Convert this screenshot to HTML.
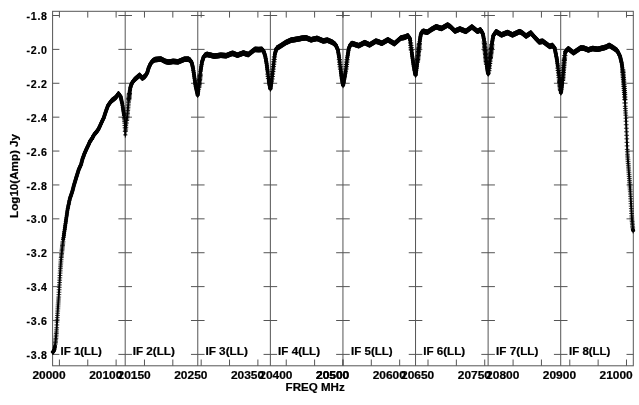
<!DOCTYPE html>
<html><head><meta charset="utf-8"><style>
html,body{margin:0;padding:0;background:#fff;}
svg{display:block;filter:grayscale(1);}
.t{font-family:"Liberation Sans",sans-serif;font-weight:bold;font-size:10.6px;fill:#000;stroke:#000;stroke-width:0.2px;}
</style></head><body>
<svg width="639" height="405" viewBox="0 0 639 405">
<rect width="639" height="405" fill="#fff"/>
<rect x="52.6" y="11.3" width="580.70" height="354.50" fill="none" stroke="#555" stroke-width="1"/>
<line x1="125.19" y1="11.3" x2="125.19" y2="365.8" stroke="#555" stroke-width="1"/>
<line x1="197.77" y1="11.3" x2="197.77" y2="365.8" stroke="#555" stroke-width="1"/>
<line x1="270.36" y1="11.3" x2="270.36" y2="365.8" stroke="#555" stroke-width="1"/>
<line x1="342.95" y1="11.3" x2="342.95" y2="365.8" stroke="#555" stroke-width="1"/>
<line x1="415.54" y1="11.3" x2="415.54" y2="365.8" stroke="#555" stroke-width="1"/>
<line x1="488.12" y1="11.3" x2="488.12" y2="365.8" stroke="#555" stroke-width="1"/>
<line x1="560.71" y1="11.3" x2="560.71" y2="365.8" stroke="#555" stroke-width="1"/>
<line x1="52.60" y1="15.50" x2="59.40" y2="15.50" stroke="#555" stroke-width="1"/>
<line x1="118.39" y1="15.50" x2="131.99" y2="15.50" stroke="#555" stroke-width="1"/>
<line x1="190.97" y1="15.50" x2="204.57" y2="15.50" stroke="#555" stroke-width="1"/>
<line x1="263.56" y1="15.50" x2="277.16" y2="15.50" stroke="#555" stroke-width="1"/>
<line x1="336.15" y1="15.50" x2="349.75" y2="15.50" stroke="#555" stroke-width="1"/>
<line x1="408.74" y1="15.50" x2="422.34" y2="15.50" stroke="#555" stroke-width="1"/>
<line x1="481.32" y1="15.50" x2="494.93" y2="15.50" stroke="#555" stroke-width="1"/>
<line x1="553.91" y1="15.50" x2="567.51" y2="15.50" stroke="#555" stroke-width="1"/>
<line x1="626.50" y1="15.50" x2="633.30" y2="15.50" stroke="#555" stroke-width="1"/>
<line x1="52.60" y1="49.39" x2="59.40" y2="49.39" stroke="#555" stroke-width="1"/>
<line x1="118.39" y1="49.39" x2="131.99" y2="49.39" stroke="#555" stroke-width="1"/>
<line x1="190.97" y1="49.39" x2="204.57" y2="49.39" stroke="#555" stroke-width="1"/>
<line x1="263.56" y1="49.39" x2="277.16" y2="49.39" stroke="#555" stroke-width="1"/>
<line x1="336.15" y1="49.39" x2="349.75" y2="49.39" stroke="#555" stroke-width="1"/>
<line x1="408.74" y1="49.39" x2="422.34" y2="49.39" stroke="#555" stroke-width="1"/>
<line x1="481.32" y1="49.39" x2="494.93" y2="49.39" stroke="#555" stroke-width="1"/>
<line x1="553.91" y1="49.39" x2="567.51" y2="49.39" stroke="#555" stroke-width="1"/>
<line x1="626.50" y1="49.39" x2="633.30" y2="49.39" stroke="#555" stroke-width="1"/>
<line x1="52.60" y1="83.28" x2="59.40" y2="83.28" stroke="#555" stroke-width="1"/>
<line x1="118.39" y1="83.28" x2="131.99" y2="83.28" stroke="#555" stroke-width="1"/>
<line x1="190.97" y1="83.28" x2="204.57" y2="83.28" stroke="#555" stroke-width="1"/>
<line x1="263.56" y1="83.28" x2="277.16" y2="83.28" stroke="#555" stroke-width="1"/>
<line x1="336.15" y1="83.28" x2="349.75" y2="83.28" stroke="#555" stroke-width="1"/>
<line x1="408.74" y1="83.28" x2="422.34" y2="83.28" stroke="#555" stroke-width="1"/>
<line x1="481.32" y1="83.28" x2="494.93" y2="83.28" stroke="#555" stroke-width="1"/>
<line x1="553.91" y1="83.28" x2="567.51" y2="83.28" stroke="#555" stroke-width="1"/>
<line x1="626.50" y1="83.28" x2="633.30" y2="83.28" stroke="#555" stroke-width="1"/>
<line x1="52.60" y1="117.17" x2="59.40" y2="117.17" stroke="#555" stroke-width="1"/>
<line x1="118.39" y1="117.17" x2="131.99" y2="117.17" stroke="#555" stroke-width="1"/>
<line x1="190.97" y1="117.17" x2="204.57" y2="117.17" stroke="#555" stroke-width="1"/>
<line x1="263.56" y1="117.17" x2="277.16" y2="117.17" stroke="#555" stroke-width="1"/>
<line x1="336.15" y1="117.17" x2="349.75" y2="117.17" stroke="#555" stroke-width="1"/>
<line x1="408.74" y1="117.17" x2="422.34" y2="117.17" stroke="#555" stroke-width="1"/>
<line x1="481.32" y1="117.17" x2="494.93" y2="117.17" stroke="#555" stroke-width="1"/>
<line x1="553.91" y1="117.17" x2="567.51" y2="117.17" stroke="#555" stroke-width="1"/>
<line x1="626.50" y1="117.17" x2="633.30" y2="117.17" stroke="#555" stroke-width="1"/>
<line x1="52.60" y1="151.06" x2="59.40" y2="151.06" stroke="#555" stroke-width="1"/>
<line x1="118.39" y1="151.06" x2="131.99" y2="151.06" stroke="#555" stroke-width="1"/>
<line x1="190.97" y1="151.06" x2="204.57" y2="151.06" stroke="#555" stroke-width="1"/>
<line x1="263.56" y1="151.06" x2="277.16" y2="151.06" stroke="#555" stroke-width="1"/>
<line x1="336.15" y1="151.06" x2="349.75" y2="151.06" stroke="#555" stroke-width="1"/>
<line x1="408.74" y1="151.06" x2="422.34" y2="151.06" stroke="#555" stroke-width="1"/>
<line x1="481.32" y1="151.06" x2="494.93" y2="151.06" stroke="#555" stroke-width="1"/>
<line x1="553.91" y1="151.06" x2="567.51" y2="151.06" stroke="#555" stroke-width="1"/>
<line x1="626.50" y1="151.06" x2="633.30" y2="151.06" stroke="#555" stroke-width="1"/>
<line x1="52.60" y1="184.95" x2="59.40" y2="184.95" stroke="#555" stroke-width="1"/>
<line x1="118.39" y1="184.95" x2="131.99" y2="184.95" stroke="#555" stroke-width="1"/>
<line x1="190.97" y1="184.95" x2="204.57" y2="184.95" stroke="#555" stroke-width="1"/>
<line x1="263.56" y1="184.95" x2="277.16" y2="184.95" stroke="#555" stroke-width="1"/>
<line x1="336.15" y1="184.95" x2="349.75" y2="184.95" stroke="#555" stroke-width="1"/>
<line x1="408.74" y1="184.95" x2="422.34" y2="184.95" stroke="#555" stroke-width="1"/>
<line x1="481.32" y1="184.95" x2="494.93" y2="184.95" stroke="#555" stroke-width="1"/>
<line x1="553.91" y1="184.95" x2="567.51" y2="184.95" stroke="#555" stroke-width="1"/>
<line x1="626.50" y1="184.95" x2="633.30" y2="184.95" stroke="#555" stroke-width="1"/>
<line x1="52.60" y1="218.84" x2="59.40" y2="218.84" stroke="#555" stroke-width="1"/>
<line x1="118.39" y1="218.84" x2="131.99" y2="218.84" stroke="#555" stroke-width="1"/>
<line x1="190.97" y1="218.84" x2="204.57" y2="218.84" stroke="#555" stroke-width="1"/>
<line x1="263.56" y1="218.84" x2="277.16" y2="218.84" stroke="#555" stroke-width="1"/>
<line x1="336.15" y1="218.84" x2="349.75" y2="218.84" stroke="#555" stroke-width="1"/>
<line x1="408.74" y1="218.84" x2="422.34" y2="218.84" stroke="#555" stroke-width="1"/>
<line x1="481.32" y1="218.84" x2="494.93" y2="218.84" stroke="#555" stroke-width="1"/>
<line x1="553.91" y1="218.84" x2="567.51" y2="218.84" stroke="#555" stroke-width="1"/>
<line x1="626.50" y1="218.84" x2="633.30" y2="218.84" stroke="#555" stroke-width="1"/>
<line x1="52.60" y1="252.73" x2="59.40" y2="252.73" stroke="#555" stroke-width="1"/>
<line x1="118.39" y1="252.73" x2="131.99" y2="252.73" stroke="#555" stroke-width="1"/>
<line x1="190.97" y1="252.73" x2="204.57" y2="252.73" stroke="#555" stroke-width="1"/>
<line x1="263.56" y1="252.73" x2="277.16" y2="252.73" stroke="#555" stroke-width="1"/>
<line x1="336.15" y1="252.73" x2="349.75" y2="252.73" stroke="#555" stroke-width="1"/>
<line x1="408.74" y1="252.73" x2="422.34" y2="252.73" stroke="#555" stroke-width="1"/>
<line x1="481.32" y1="252.73" x2="494.93" y2="252.73" stroke="#555" stroke-width="1"/>
<line x1="553.91" y1="252.73" x2="567.51" y2="252.73" stroke="#555" stroke-width="1"/>
<line x1="626.50" y1="252.73" x2="633.30" y2="252.73" stroke="#555" stroke-width="1"/>
<line x1="52.60" y1="286.62" x2="59.40" y2="286.62" stroke="#555" stroke-width="1"/>
<line x1="118.39" y1="286.62" x2="131.99" y2="286.62" stroke="#555" stroke-width="1"/>
<line x1="190.97" y1="286.62" x2="204.57" y2="286.62" stroke="#555" stroke-width="1"/>
<line x1="263.56" y1="286.62" x2="277.16" y2="286.62" stroke="#555" stroke-width="1"/>
<line x1="336.15" y1="286.62" x2="349.75" y2="286.62" stroke="#555" stroke-width="1"/>
<line x1="408.74" y1="286.62" x2="422.34" y2="286.62" stroke="#555" stroke-width="1"/>
<line x1="481.32" y1="286.62" x2="494.93" y2="286.62" stroke="#555" stroke-width="1"/>
<line x1="553.91" y1="286.62" x2="567.51" y2="286.62" stroke="#555" stroke-width="1"/>
<line x1="626.50" y1="286.62" x2="633.30" y2="286.62" stroke="#555" stroke-width="1"/>
<line x1="52.60" y1="320.51" x2="59.40" y2="320.51" stroke="#555" stroke-width="1"/>
<line x1="118.39" y1="320.51" x2="131.99" y2="320.51" stroke="#555" stroke-width="1"/>
<line x1="190.97" y1="320.51" x2="204.57" y2="320.51" stroke="#555" stroke-width="1"/>
<line x1="263.56" y1="320.51" x2="277.16" y2="320.51" stroke="#555" stroke-width="1"/>
<line x1="336.15" y1="320.51" x2="349.75" y2="320.51" stroke="#555" stroke-width="1"/>
<line x1="408.74" y1="320.51" x2="422.34" y2="320.51" stroke="#555" stroke-width="1"/>
<line x1="481.32" y1="320.51" x2="494.93" y2="320.51" stroke="#555" stroke-width="1"/>
<line x1="553.91" y1="320.51" x2="567.51" y2="320.51" stroke="#555" stroke-width="1"/>
<line x1="626.50" y1="320.51" x2="633.30" y2="320.51" stroke="#555" stroke-width="1"/>
<line x1="52.60" y1="354.40" x2="59.40" y2="354.40" stroke="#555" stroke-width="1"/>
<line x1="118.39" y1="354.40" x2="131.99" y2="354.40" stroke="#555" stroke-width="1"/>
<line x1="190.97" y1="354.40" x2="204.57" y2="354.40" stroke="#555" stroke-width="1"/>
<line x1="263.56" y1="354.40" x2="277.16" y2="354.40" stroke="#555" stroke-width="1"/>
<line x1="336.15" y1="354.40" x2="349.75" y2="354.40" stroke="#555" stroke-width="1"/>
<line x1="408.74" y1="354.40" x2="422.34" y2="354.40" stroke="#555" stroke-width="1"/>
<line x1="481.32" y1="354.40" x2="494.93" y2="354.40" stroke="#555" stroke-width="1"/>
<line x1="553.91" y1="354.40" x2="567.51" y2="354.40" stroke="#555" stroke-width="1"/>
<line x1="626.50" y1="354.40" x2="633.30" y2="354.40" stroke="#555" stroke-width="1"/>
<line x1="59.41" y1="365.8" x2="59.41" y2="359.50" stroke="#555" stroke-width="1"/>
<line x1="59.41" y1="11.3" x2="59.41" y2="17.60" stroke="#555" stroke-width="1"/>
<line x1="87.76" y1="365.8" x2="87.76" y2="359.50" stroke="#555" stroke-width="1"/>
<line x1="87.76" y1="11.3" x2="87.76" y2="17.60" stroke="#555" stroke-width="1"/>
<line x1="116.11" y1="365.8" x2="116.11" y2="359.50" stroke="#555" stroke-width="1"/>
<line x1="116.11" y1="11.3" x2="116.11" y2="17.60" stroke="#555" stroke-width="1"/>
<line x1="144.47" y1="365.8" x2="144.47" y2="359.50" stroke="#555" stroke-width="1"/>
<line x1="144.47" y1="11.3" x2="144.47" y2="17.60" stroke="#555" stroke-width="1"/>
<line x1="172.82" y1="365.8" x2="172.82" y2="359.50" stroke="#555" stroke-width="1"/>
<line x1="172.82" y1="11.3" x2="172.82" y2="17.60" stroke="#555" stroke-width="1"/>
<line x1="201.18" y1="365.8" x2="201.18" y2="359.50" stroke="#555" stroke-width="1"/>
<line x1="201.18" y1="11.3" x2="201.18" y2="17.60" stroke="#555" stroke-width="1"/>
<line x1="229.53" y1="365.8" x2="229.53" y2="359.50" stroke="#555" stroke-width="1"/>
<line x1="229.53" y1="11.3" x2="229.53" y2="17.60" stroke="#555" stroke-width="1"/>
<line x1="257.89" y1="365.8" x2="257.89" y2="359.50" stroke="#555" stroke-width="1"/>
<line x1="257.89" y1="11.3" x2="257.89" y2="17.60" stroke="#555" stroke-width="1"/>
<line x1="286.24" y1="365.8" x2="286.24" y2="359.50" stroke="#555" stroke-width="1"/>
<line x1="286.24" y1="11.3" x2="286.24" y2="17.60" stroke="#555" stroke-width="1"/>
<line x1="314.60" y1="365.8" x2="314.60" y2="359.50" stroke="#555" stroke-width="1"/>
<line x1="314.60" y1="11.3" x2="314.60" y2="17.60" stroke="#555" stroke-width="1"/>
<line x1="342.95" y1="365.8" x2="342.95" y2="359.50" stroke="#555" stroke-width="1"/>
<line x1="342.95" y1="11.3" x2="342.95" y2="17.60" stroke="#555" stroke-width="1"/>
<line x1="342.95" y1="365.8" x2="342.95" y2="359.50" stroke="#555" stroke-width="1"/>
<line x1="342.95" y1="11.3" x2="342.95" y2="17.60" stroke="#555" stroke-width="1"/>
<line x1="371.30" y1="365.8" x2="371.30" y2="359.50" stroke="#555" stroke-width="1"/>
<line x1="371.30" y1="11.3" x2="371.30" y2="17.60" stroke="#555" stroke-width="1"/>
<line x1="399.66" y1="365.8" x2="399.66" y2="359.50" stroke="#555" stroke-width="1"/>
<line x1="399.66" y1="11.3" x2="399.66" y2="17.60" stroke="#555" stroke-width="1"/>
<line x1="428.01" y1="365.8" x2="428.01" y2="359.50" stroke="#555" stroke-width="1"/>
<line x1="428.01" y1="11.3" x2="428.01" y2="17.60" stroke="#555" stroke-width="1"/>
<line x1="456.37" y1="365.8" x2="456.37" y2="359.50" stroke="#555" stroke-width="1"/>
<line x1="456.37" y1="11.3" x2="456.37" y2="17.60" stroke="#555" stroke-width="1"/>
<line x1="484.72" y1="365.8" x2="484.72" y2="359.50" stroke="#555" stroke-width="1"/>
<line x1="484.72" y1="11.3" x2="484.72" y2="17.60" stroke="#555" stroke-width="1"/>
<line x1="513.08" y1="365.8" x2="513.08" y2="359.50" stroke="#555" stroke-width="1"/>
<line x1="513.08" y1="11.3" x2="513.08" y2="17.60" stroke="#555" stroke-width="1"/>
<line x1="541.43" y1="365.8" x2="541.43" y2="359.50" stroke="#555" stroke-width="1"/>
<line x1="541.43" y1="11.3" x2="541.43" y2="17.60" stroke="#555" stroke-width="1"/>
<line x1="569.79" y1="365.8" x2="569.79" y2="359.50" stroke="#555" stroke-width="1"/>
<line x1="569.79" y1="11.3" x2="569.79" y2="17.60" stroke="#555" stroke-width="1"/>
<line x1="598.14" y1="365.8" x2="598.14" y2="359.50" stroke="#555" stroke-width="1"/>
<line x1="598.14" y1="11.3" x2="598.14" y2="17.60" stroke="#555" stroke-width="1"/>
<line x1="626.49" y1="365.8" x2="626.49" y2="359.50" stroke="#555" stroke-width="1"/>
<line x1="626.49" y1="11.3" x2="626.49" y2="17.60" stroke="#555" stroke-width="1"/>
<polyline points="52.74,351.97 53.03,351.80 53.31,351.62 53.59,351.29 53.88,350.66 54.16,350.03 54.44,349.26 54.73,347.66 55.01,346.07 55.29,344.06 55.58,341.23 55.86,338.39 56.14,335.21 56.43,331.97 56.71,327.77 56.99,322.10 57.28,317.65 57.56,313.22 57.85,308.87 58.13,304.93 58.41,300.99 58.70,297.05 58.98,292.20 59.26,287.34 59.55,282.55 59.83,277.83 60.11,273.10 60.40,268.70 60.68,264.92 60.96,261.14 61.25,257.53 61.53,254.79 61.82,252.05 62.10,249.31 62.38,246.79 62.67,244.26 62.95,241.74 63.23,239.48 63.52,237.51 63.80,235.55 64.08,233.58 64.37,231.61 64.65,229.65 64.93,227.68 65.22,225.72 65.50,223.75 65.78,221.79 66.07,219.82 66.35,217.87 66.64,215.92 66.92,213.98 67.20,212.03 67.49,210.08 67.77,208.50 68.05,207.16 68.34,205.82 68.62,204.48 68.90,203.14 69.19,201.80 69.47,200.46 69.75,199.12 70.04,198.20 70.32,197.36 70.61,196.52 70.89,195.68 71.17,194.84 71.46,194.00 71.74,193.16 72.02,192.32 72.31,191.48 72.59,190.38 72.87,189.28 73.16,188.19 73.44,187.09 73.72,185.99 74.01,185.01 74.29,184.08 74.57,183.14 74.86,182.20 75.14,181.26 75.43,180.32 75.71,179.39 75.99,178.45 76.28,177.51 76.56,176.59 76.84,175.67 77.13,174.76 77.41,173.85 77.69,172.94 77.98,172.03 78.26,171.11 78.54,170.20 78.83,169.42 79.11,168.79 79.39,168.16 79.68,167.53 79.96,166.90 80.25,166.27 80.53,165.64 80.81,165.02 81.10,164.24 81.38,163.18 81.66,162.12 81.95,161.06 82.23,160.01 82.51,158.96 82.80,158.18 83.08,157.40 83.36,156.62 83.65,155.84 83.93,155.06 84.22,154.28 84.50,153.50 84.78,152.86 85.07,152.23 85.35,151.59 85.63,150.95 85.92,150.31 86.20,149.67 86.48,149.04 86.77,148.44 87.05,147.85 87.33,147.25 87.62,146.66 87.90,146.06 88.18,145.47 88.47,144.88 88.75,144.25 89.04,143.61 89.32,142.96 89.60,142.32 89.89,141.67 90.17,141.02 90.45,140.44 90.74,140.14 91.02,139.85 91.30,139.55 91.59,139.25 91.87,138.95 92.15,138.65 92.44,137.99 92.72,137.27 93.01,136.55 93.29,135.83 93.57,135.46 93.86,135.11 94.14,134.75 94.42,134.40 94.71,134.04 94.99,133.69 95.27,133.33 95.56,132.98 95.84,132.63 96.12,132.29 96.41,131.94 96.69,131.60 96.97,131.26 97.26,130.92 97.54,130.57 97.83,130.23 98.11,129.88 98.39,129.29 98.68,128.69 98.96,128.09 99.24,127.50 99.53,126.90 99.81,126.31 100.09,125.71 100.38,125.08 100.66,124.44 100.94,123.81 101.23,123.18 101.51,122.54 101.80,121.91 102.08,121.27 102.36,120.68 102.65,120.11 102.93,119.54 103.21,118.97 103.50,118.41 103.78,117.76 104.06,116.89 104.35,116.03 104.63,115.16 104.91,114.30 105.20,113.43 105.48,112.57 105.76,111.72 106.05,110.93 106.33,110.14 106.62,109.35 106.90,108.56 107.18,107.78 107.47,106.99 107.75,106.20 108.03,105.46 108.32,105.07 108.60,104.69 108.88,104.31 109.17,103.93 109.45,103.55 109.73,103.17 110.02,102.79 110.30,102.41 110.58,102.03 110.87,101.65 111.15,101.27 111.44,100.89 111.72,100.63 112.00,100.41 112.29,100.20 112.57,99.98 112.85,99.76 113.14,99.55 113.42,99.33 113.70,99.11 113.99,98.89 114.27,98.68 114.55,98.45 114.84,98.22 115.12,97.98 115.41,97.75 115.69,97.51 115.97,97.27 116.26,97.04 116.54,96.61 116.82,96.15 117.11,95.69 117.39,95.24 117.67,94.78 117.96,94.32 118.24,93.86 118.52,93.76 118.81,94.14 119.09,94.51 119.37,94.89 119.66,95.26 119.94,95.63 120.23,96.01 120.51,96.38 120.79,97.35 121.08,98.60 121.36,99.85 121.64,101.10 121.93,102.35 122.21,103.60 122.49,105.29 122.78,107.18 123.06,109.07 123.34,110.96 123.63,113.00 123.91,115.20 124.20,117.41 124.48,119.92 124.76,123.23 125.05,127.83 125.33,134.86 125.61,130.91 125.90,127.28 126.18,125.15 126.46,123.02 126.75,120.53 127.03,117.69 127.31,114.86 127.60,112.02 127.88,108.91 128.16,105.79 128.45,102.67 128.73,99.81 129.02,97.26 129.30,94.71 129.58,92.16 129.87,90.56 130.15,89.03 130.43,87.50 130.72,86.29 131.00,85.52 131.28,84.76 131.57,84.00 131.85,83.23 132.13,82.78 132.42,82.40 132.70,82.01 132.98,81.62 133.27,81.24 133.55,80.85 133.84,80.47 134.12,80.08 134.40,79.70 134.69,79.45 134.97,79.21 135.25,78.96 135.54,78.72 135.82,78.48 136.10,78.23 136.39,77.99 136.67,77.74 136.95,77.50 137.24,77.25 137.52,77.01 137.81,76.76 138.09,76.51 138.37,76.27 138.66,76.02 138.94,75.77 139.22,75.53 139.51,75.28 139.79,75.41 140.07,75.73 140.36,76.04 140.64,76.36 140.92,76.67 141.21,76.99 141.49,77.30 141.77,77.62 142.06,77.93 142.34,78.17 142.63,77.98 142.91,77.78 143.19,77.58 143.48,77.39 143.76,77.19 144.04,77.00 144.33,76.80 144.61,76.61 144.89,76.41 145.18,76.22 145.46,75.76 145.74,75.27 146.03,74.79 146.31,74.31 146.60,73.83 146.88,73.35 147.16,72.86 147.45,71.98 147.73,71.04 148.01,70.09 148.30,69.15 148.58,68.20 148.86,67.44 149.15,66.82 149.43,66.19 149.71,65.57 150.00,64.95 150.28,64.32 150.56,63.70 150.85,63.21 151.13,62.85 151.42,62.50 151.70,62.14 151.98,61.78 152.27,61.42 152.55,61.06 152.83,60.86 153.12,60.69 153.40,60.51 153.68,60.34 153.97,60.17 154.25,60.00 154.53,59.82 154.82,59.65 155.10,59.58 155.39,59.56 155.67,59.54 155.95,59.51 156.24,59.49 156.52,59.47 156.80,59.44 157.09,59.42 157.37,59.40 157.65,59.37 157.94,59.35 158.22,59.33 158.50,59.30 158.79,59.28 159.07,59.26 159.35,59.23 159.64,59.21 159.92,59.19 160.21,59.17 160.49,59.14 160.77,59.12 161.06,59.13 161.34,59.28 161.62,59.43 161.91,59.58 162.19,59.74 162.47,59.89 162.76,60.04 163.04,60.19 163.32,60.34 163.61,60.49 163.89,60.65 164.17,60.80 164.46,60.95 164.74,61.10 165.03,61.25 165.31,61.40 165.59,61.46 165.88,61.52 166.16,61.58 166.44,61.64 166.73,61.70 167.01,61.76 167.29,61.82 167.58,61.88 167.86,61.94 168.14,62.00 168.43,62.06 168.71,62.08 169.00,62.04 169.28,61.99 169.56,61.95 169.85,61.90 170.13,61.86 170.41,61.81 170.70,61.77 170.98,61.72 171.26,61.68 171.55,61.63 171.83,61.59 172.11,61.54 172.40,61.50 172.68,61.45 172.96,61.41 173.25,61.42 173.53,61.44 173.82,61.46 174.10,61.48 174.38,61.51 174.67,61.53 174.95,61.55 175.23,61.57 175.52,61.59 175.80,61.62 176.08,61.64 176.37,61.66 176.65,61.68 176.93,61.70 177.22,61.72 177.50,61.75 177.79,61.77 178.07,61.79 178.35,61.74 178.64,61.62 178.92,61.50 179.20,61.38 179.49,61.26 179.77,61.15 180.05,61.03 180.34,60.91 180.62,60.79 180.90,60.67 181.19,60.56 181.47,60.44 181.75,60.32 182.04,60.20 182.32,60.08 182.61,59.96 182.89,59.85 183.17,59.73 183.46,59.61 183.74,59.49 184.02,59.37 184.31,59.30 184.59,59.29 184.87,59.28 185.16,59.28 185.44,59.27 185.72,59.26 186.01,59.26 186.29,59.25 186.57,59.24 186.86,59.24 187.14,59.23 187.43,59.22 187.71,59.22 187.99,59.21 188.28,59.21 188.56,59.24 188.84,59.42 189.13,59.61 189.41,59.79 189.69,59.98 189.98,60.16 190.26,60.34 190.54,60.59 190.83,61.13 191.11,61.68 191.40,62.22 191.68,62.77 191.96,63.68 192.25,64.86 192.53,66.04 192.81,67.22 193.10,68.64 193.38,70.53 193.66,72.42 193.95,74.31 194.23,76.22 194.51,78.24 194.80,80.27 195.08,82.30 195.36,84.32 195.65,86.21 195.93,87.45 196.22,88.69 196.50,89.93 196.78,91.17 197.07,92.41 197.35,93.75 197.63,95.17 197.92,93.82 198.20,91.63 198.48,89.44 198.77,87.25 199.05,84.66 199.33,82.02 199.62,79.38 199.90,76.74 200.19,74.10 200.47,71.67 200.75,69.88 201.04,68.09 201.32,66.30 201.60,64.51 201.89,62.72 202.17,61.47 202.45,60.58 202.74,59.70 203.02,58.81 203.30,57.92 203.59,57.04 203.87,56.66 204.15,56.31 204.44,55.95 204.72,55.60 205.01,55.24 205.29,54.97 205.57,54.88 205.86,54.79 206.14,54.70 206.42,54.61 206.71,54.52 206.99,54.43 207.27,54.44 207.56,54.51 207.84,54.58 208.12,54.65 208.41,54.71 208.69,54.78 208.98,54.85 209.26,54.92 209.54,54.98 209.83,55.05 210.11,55.12 210.39,55.19 210.68,55.26 210.96,55.32 211.24,55.39 211.53,55.46 211.81,55.53 212.09,55.60 212.38,55.66 212.66,55.73 212.94,55.80 213.23,55.87 213.51,55.94 213.80,56.00 214.08,56.07 214.36,56.08 214.65,56.05 214.93,56.01 215.21,55.98 215.50,55.94 215.78,55.91 216.06,55.87 216.35,55.84 216.63,55.81 216.91,55.77 217.20,55.74 217.48,55.70 217.76,55.67 218.05,55.63 218.33,55.60 218.62,55.56 218.90,55.53 219.18,55.50 219.47,55.46 219.75,55.43 220.03,55.39 220.32,55.36 220.60,55.32 220.88,55.31 221.17,55.33 221.45,55.35 221.73,55.37 222.02,55.39 222.30,55.41 222.59,55.43 222.87,55.45 223.15,55.47 223.44,55.49 223.72,55.51 224.00,55.53 224.29,55.55 224.57,55.57 224.85,55.59 225.14,55.62 225.42,55.64 225.70,55.66 225.99,55.68 226.27,55.70 226.55,55.60 226.84,55.48 227.12,55.37 227.41,55.26 227.69,55.14 227.97,55.03 228.26,54.92 228.54,54.80 228.82,54.69 229.11,54.58 229.39,54.46 229.67,54.35 229.96,54.24 230.24,54.12 230.52,54.01 230.81,53.90 231.09,53.78 231.38,53.67 231.66,53.56 231.94,53.49 232.23,53.46 232.51,53.44 232.79,53.42 233.08,53.43 233.36,53.55 233.64,53.66 233.93,53.78 234.21,53.90 234.49,54.01 234.78,54.13 235.06,54.24 235.34,54.36 235.63,54.48 235.91,54.59 236.20,54.71 236.48,54.82 236.76,54.94 237.05,55.06 237.33,55.17 237.61,55.12 237.90,55.02 238.18,54.91 238.46,54.81 238.75,54.71 239.03,54.60 239.31,54.50 239.60,54.39 239.88,54.29 240.16,54.19 240.45,54.08 240.73,53.98 241.02,53.87 241.30,53.77 241.58,53.67 241.87,53.56 242.15,53.46 242.43,53.35 242.72,53.25 243.00,53.15 243.28,53.04 243.57,53.05 243.85,53.15 244.13,53.24 244.42,53.33 244.70,53.43 244.99,53.52 245.27,53.61 245.55,53.70 245.84,53.80 246.12,53.89 246.40,53.98 246.69,54.07 246.97,54.17 247.25,54.26 247.54,54.35 247.82,54.44 248.10,54.54 248.39,54.53 248.67,54.30 248.95,54.07 249.24,53.84 249.52,53.61 249.81,53.38 250.09,53.15 250.37,52.92 250.66,52.69 250.94,52.46 251.22,52.22 251.51,51.99 251.79,51.78 252.07,51.56 252.36,51.34 252.64,51.13 252.92,50.91 253.21,50.69 253.49,50.48 253.78,50.26 254.06,50.04 254.34,49.83 254.63,49.61 254.91,49.40 255.19,49.42 255.48,49.43 255.76,49.45 256.04,49.46 256.33,49.48 256.61,49.49 256.89,49.50 257.18,49.52 257.46,49.53 257.74,49.55 258.03,49.56 258.31,49.58 258.60,49.59 258.88,49.59 259.16,49.57 259.45,49.55 259.73,49.54 260.01,49.52 260.30,49.50 260.58,49.49 260.86,49.47 261.15,49.45 261.43,49.43 261.71,49.42 262.00,49.40 262.28,49.73 262.57,50.06 262.85,50.39 263.13,50.72 263.42,51.05 263.70,51.38 263.98,52.10 264.27,53.02 264.55,53.95 264.83,54.88 265.12,55.80 265.40,56.95 265.68,58.51 265.97,60.07 266.25,61.63 266.53,63.26 266.82,65.40 267.10,67.54 267.39,69.68 267.67,71.85 267.95,74.12 268.24,76.39 268.52,78.66 268.80,80.92 269.09,82.68 269.37,84.18 269.65,85.67 269.94,87.17 270.22,88.60 270.50,88.79 270.79,86.87 271.07,84.94 271.35,83.02 271.64,81.10 271.92,78.94 272.21,76.49 272.49,74.03 272.77,71.57 273.06,69.11 273.34,66.66 273.62,64.23 273.91,61.80 274.19,59.37 274.47,56.94 274.76,54.78 275.04,53.70 275.32,52.61 275.61,51.53 275.89,50.44 276.18,49.36 276.46,48.46 276.74,48.29 277.03,48.12 277.31,47.95 277.59,47.78 277.88,47.61 278.16,47.43 278.44,47.26 278.73,47.09 279.01,46.92 279.29,46.75 279.58,46.58 279.86,46.41 280.14,46.23 280.43,46.05 280.71,45.86 281.00,45.68 281.28,45.49 281.56,45.31 281.85,45.12 282.13,44.94 282.41,44.75 282.70,44.57 282.98,44.38 283.26,44.19 283.55,44.01 283.83,43.82 284.11,43.64 284.40,43.45 284.68,43.27 284.97,43.08 285.25,42.90 285.53,42.71 285.82,42.55 286.10,42.42 286.38,42.29 286.67,42.16 286.95,42.03 287.23,41.90 287.52,41.77 287.80,41.65 288.08,41.52 288.37,41.39 288.65,41.26 288.93,41.13 289.22,41.00 289.50,40.87 289.79,40.74 290.07,40.61 290.35,40.49 290.64,40.36 290.92,40.23 291.20,40.10 291.49,40.06 291.77,40.02 292.05,39.97 292.34,39.93 292.62,39.89 292.90,39.85 293.19,39.81 293.47,39.76 293.75,39.72 294.04,39.68 294.32,39.64 294.61,39.60 294.89,39.55 295.17,39.51 295.46,39.47 295.74,39.43 296.02,39.39 296.31,39.34 296.59,39.30 296.87,39.25 297.16,39.19 297.44,39.13 297.72,39.08 298.01,39.02 298.29,38.96 298.58,38.90 298.86,38.85 299.14,38.79 299.43,38.73 299.71,38.68 299.99,38.62 300.28,38.56 300.56,38.51 300.84,38.45 301.13,38.39 301.41,38.34 301.69,38.28 301.98,38.22 302.26,38.18 302.54,38.15 302.83,38.13 303.11,38.10 303.40,38.07 303.68,38.04 303.96,38.01 304.25,37.98 304.53,37.95 304.81,37.92 305.10,37.89 305.38,37.86 305.66,37.83 305.95,37.81 306.23,37.89 306.51,38.01 306.80,38.12 307.08,38.23 307.37,38.35 307.65,38.46 307.93,38.57 308.22,38.69 308.50,38.80 308.78,38.91 309.07,39.03 309.35,39.14 309.63,39.25 309.92,39.37 310.20,39.48 310.48,39.59 310.77,39.71 311.05,39.79 311.33,39.72 311.62,39.66 311.90,39.59 312.19,39.52 312.47,39.46 312.75,39.39 313.04,39.32 313.32,39.26 313.60,39.19 313.89,39.13 314.17,39.06 314.45,38.99 314.74,38.93 315.02,38.86 315.30,38.80 315.59,38.73 315.87,38.66 316.16,38.60 316.44,38.53 316.72,38.46 317.01,38.40 317.29,38.52 317.57,38.63 317.86,38.75 318.14,38.87 318.42,38.98 318.71,39.10 318.99,39.22 319.27,39.33 319.56,39.45 319.84,39.56 320.12,39.68 320.41,39.80 320.69,39.91 320.98,40.03 321.26,40.15 321.54,40.26 321.83,40.38 322.11,40.49 322.39,40.61 322.68,40.73 322.96,40.84 323.24,40.88 323.53,40.83 323.81,40.79 324.09,40.74 324.38,40.70 324.66,40.65 324.94,40.61 325.23,40.56 325.51,40.52 325.80,40.47 326.08,40.43 326.36,40.38 326.65,40.34 326.93,40.29 327.21,40.25 327.50,40.20 327.78,40.32 328.06,40.44 328.35,40.56 328.63,40.68 328.91,40.81 329.20,40.93 329.48,41.05 329.77,41.17 330.05,41.29 330.33,41.41 330.62,41.54 330.90,41.66 331.18,41.78 331.47,41.90 331.75,42.02 332.03,42.14 332.32,42.26 332.60,42.45 332.88,42.67 333.17,42.88 333.45,43.10 333.73,43.31 334.02,43.53 334.30,43.74 334.59,43.96 334.87,44.17 335.15,44.39 335.44,44.60 335.72,44.85 336.00,45.52 336.29,46.19 336.57,46.86 336.85,47.53 337.14,48.20 337.42,48.87 337.70,49.54 337.99,50.54 338.27,52.29 338.56,54.03 338.84,55.78 339.12,57.52 339.41,59.71 339.69,62.08 339.97,64.44 340.26,66.80 340.54,69.11 340.82,71.35 341.11,73.60 341.39,75.85 341.67,78.09 341.96,79.62 342.24,81.08 342.52,82.54 342.81,84.00 343.09,85.46 343.38,84.01 343.66,82.47 343.94,80.94 344.23,79.40 344.51,77.87 344.79,76.33 345.08,74.79 345.36,73.26 345.64,71.33 345.93,69.01 346.21,66.70 346.49,64.39 346.78,62.08 347.06,59.76 347.34,57.45 347.63,55.61 347.91,53.89 348.20,52.17 348.48,50.45 348.76,48.73 349.05,47.92 349.33,47.25 349.61,46.59 349.90,45.92 350.18,45.25 350.46,44.58 350.75,44.35 351.03,44.17 351.31,43.99 351.60,43.81 351.88,43.64 352.17,43.52 352.45,43.62 352.73,43.71 353.02,43.81 353.30,43.90 353.58,43.99 353.87,44.09 354.15,44.18 354.43,44.28 354.72,44.37 355.00,44.47 355.28,44.56 355.57,44.66 355.85,44.75 356.13,44.84 356.42,44.94 356.70,45.03 356.99,45.13 357.27,45.22 357.55,45.32 357.84,45.41 358.12,45.51 358.40,45.60 358.69,45.70 358.97,45.56 359.25,45.41 359.54,45.27 359.82,45.12 360.10,44.97 360.39,44.83 360.67,44.68 360.96,44.53 361.24,44.39 361.52,44.24 361.81,44.10 362.09,43.95 362.37,43.80 362.66,43.66 362.94,43.51 363.22,43.36 363.51,43.22 363.79,43.07 364.07,42.92 364.36,42.78 364.64,42.63 364.92,42.71 365.21,42.84 365.49,42.97 365.78,43.10 366.06,43.24 366.34,43.37 366.63,43.50 366.91,43.64 367.19,43.77 367.48,43.90 367.76,44.04 368.04,44.17 368.33,44.30 368.61,44.44 368.89,44.57 369.18,44.70 369.46,44.83 369.74,44.81 370.03,44.64 370.31,44.47 370.60,44.30 370.88,44.12 371.16,43.95 371.45,43.78 371.73,43.61 372.01,43.44 372.30,43.26 372.58,43.09 372.86,42.92 373.15,42.75 373.43,42.58 373.71,42.40 374.00,42.23 374.28,42.06 374.57,41.89 374.85,41.72 375.13,41.54 375.42,41.37 375.70,41.20 375.98,41.26 376.27,41.32 376.55,41.38 376.83,41.45 377.12,41.51 377.40,41.57 377.68,41.63 377.97,41.69 378.25,41.81 378.53,41.93 378.82,42.04 379.10,42.16 379.39,42.28 379.67,42.40 379.95,42.52 380.24,42.64 380.52,42.76 380.80,42.88 381.09,43.00 381.37,43.12 381.65,43.24 381.94,43.22 382.22,43.06 382.50,42.90 382.79,42.73 383.07,42.57 383.36,42.41 383.64,42.25 383.92,42.08 384.21,41.92 384.49,41.76 384.77,41.59 385.06,41.43 385.34,41.27 385.62,41.11 385.91,40.94 386.19,40.78 386.47,40.62 386.76,40.46 387.04,40.29 387.32,40.13 387.61,39.97 387.89,39.80 388.18,39.97 388.46,40.14 388.74,40.31 389.03,40.48 389.31,40.65 389.59,40.82 389.88,40.99 390.16,41.16 390.44,41.33 390.73,41.50 391.01,41.67 391.29,41.84 391.58,42.01 391.86,42.18 392.15,42.35 392.43,42.52 392.71,42.69 393.00,42.86 393.28,43.03 393.56,43.20 393.85,43.37 394.13,43.54 394.41,43.69 394.70,43.44 394.98,43.19 395.26,42.94 395.55,42.69 395.83,42.44 396.11,42.19 396.40,41.94 396.68,41.69 396.97,41.45 397.25,41.20 397.53,40.95 397.82,40.70 398.10,40.45 398.38,40.20 398.67,39.95 398.95,39.70 399.23,39.45 399.52,39.20 399.80,38.95 400.08,38.70 400.37,38.46 400.65,38.21 400.93,37.96 401.22,37.87 401.50,37.82 401.79,37.78 402.07,37.74 402.35,37.70 402.64,37.65 402.92,37.61 403.20,37.57 403.49,37.52 403.77,37.48 404.05,37.44 404.34,37.38 404.62,37.26 404.90,37.15 405.19,37.03 405.47,36.91 405.76,36.79 406.04,36.67 406.32,36.55 406.61,36.43 406.89,36.31 407.17,36.19 407.46,36.07 407.74,35.95 408.02,35.83 408.31,36.13 408.59,36.59 408.87,37.04 409.16,37.49 409.44,37.95 409.72,38.40 410.01,38.85 410.29,40.60 410.58,42.96 410.86,45.33 411.14,47.69 411.43,50.05 411.71,52.27 411.99,54.25 412.28,56.24 412.56,58.22 412.84,60.21 413.13,62.19 413.41,64.18 413.69,66.16 413.98,67.64 414.26,69.11 414.55,70.58 414.83,72.05 415.11,73.53 415.40,74.82 415.68,74.91 415.96,72.78 416.25,70.65 416.53,68.53 416.81,66.40 417.10,64.27 417.38,62.15 417.66,59.49 417.95,56.80 418.23,54.10 418.51,51.41 418.80,48.72 419.08,46.02 419.37,43.33 419.65,41.47 419.93,39.72 420.22,37.98 420.50,36.23 420.78,34.77 421.07,34.00 421.35,33.23 421.63,32.45 421.92,31.95 422.20,31.83 422.48,31.72 422.77,31.60 423.05,31.48 423.33,31.37 423.62,31.33 423.90,31.41 424.19,31.48 424.47,31.56 424.75,31.63 425.04,31.70 425.32,31.78 425.60,31.85 425.89,31.93 426.17,32.00 426.45,32.08 426.74,32.15 427.02,32.23 427.30,32.30 427.59,32.10 427.87,31.91 428.16,31.72 428.44,31.52 428.72,31.33 429.01,31.14 429.29,30.94 429.57,30.75 429.86,30.56 430.14,30.36 430.42,30.17 430.71,29.98 430.99,29.78 431.27,29.59 431.56,29.40 431.84,29.22 432.12,29.06 432.41,28.90 432.69,28.74 432.98,28.58 433.26,28.41 433.54,28.25 433.83,28.09 434.11,27.93 434.39,27.77 434.68,27.61 434.96,27.45 435.24,27.29 435.53,27.13 435.81,26.96 436.09,26.80 436.38,26.89 436.66,26.98 436.95,27.07 437.23,27.16 437.51,27.24 437.80,27.33 438.08,27.42 438.36,27.51 438.65,27.60 438.93,27.69 439.21,27.78 439.50,27.87 439.78,27.96 440.06,28.05 440.35,28.14 440.63,28.23 440.91,28.32 441.20,28.41 441.48,28.49 441.77,28.35 442.05,28.19 442.33,28.02 442.62,27.86 442.90,27.70 443.18,27.53 443.47,27.37 443.75,27.21 444.03,27.05 444.32,26.88 444.60,26.72 444.88,26.56 445.17,26.40 445.45,26.23 445.74,26.07 446.02,25.91 446.30,25.74 446.59,25.58 446.87,25.42 447.15,25.26 447.44,25.09 447.72,25.07 448.00,25.25 448.29,25.43 448.57,25.60 448.85,25.78 449.14,25.95 449.42,26.13 449.70,26.31 449.99,26.48 450.27,26.66 450.56,26.85 450.84,27.13 451.12,27.41 451.41,27.69 451.69,27.96 451.97,28.24 452.26,28.52 452.54,28.79 452.82,29.07 453.11,29.35 453.39,29.63 453.67,29.90 453.96,30.18 454.24,30.46 454.52,30.73 454.81,31.01 455.09,31.02 455.38,30.90 455.66,30.78 455.94,30.66 456.23,30.54 456.51,30.42 456.79,30.30 457.08,30.19 457.36,30.07 457.64,29.95 457.93,29.83 458.21,29.71 458.49,29.59 458.78,29.47 459.06,29.35 459.35,29.23 459.63,29.11 459.91,29.00 460.20,29.12 460.48,29.23 460.76,29.35 461.05,29.46 461.33,29.57 461.61,29.69 461.90,29.80 462.18,29.91 462.46,30.03 462.75,30.14 463.03,30.25 463.31,30.37 463.60,30.48 463.88,30.59 464.17,30.71 464.45,30.82 464.73,30.93 465.02,31.05 465.30,31.16 465.58,31.27 465.87,31.39 466.15,31.21 466.43,31.00 466.72,30.79 467.00,30.57 467.28,30.36 467.57,30.15 467.85,29.94 468.14,29.72 468.42,29.51 468.70,29.30 468.99,29.09 469.27,28.87 469.55,28.66 469.84,28.45 470.12,28.24 470.40,28.02 470.69,27.81 470.97,27.60 471.25,27.38 471.54,27.17 471.82,26.96 472.10,27.06 472.39,27.29 472.67,27.52 472.96,27.74 473.24,27.97 473.52,28.20 473.81,28.42 474.09,28.65 474.37,28.88 474.66,29.11 474.94,29.33 475.22,29.56 475.51,29.79 475.79,30.01 476.07,30.24 476.36,30.47 476.64,30.69 476.92,30.92 477.21,31.15 477.49,31.26 477.78,31.13 478.06,31.00 478.34,30.87 478.63,30.74 478.91,30.61 479.19,30.48 479.48,30.36 479.76,30.23 480.04,30.10 480.33,29.97 480.61,29.84 480.89,30.17 481.18,30.71 481.46,31.25 481.75,31.80 482.03,32.34 482.31,32.88 482.60,33.42 482.88,33.96 483.16,35.42 483.45,36.94 483.73,38.47 484.01,40.00 484.30,41.97 484.58,44.81 484.86,47.64 485.15,50.48 485.43,53.27 485.71,56.02 486.00,58.77 486.28,61.52 486.57,64.27 486.85,66.24 487.13,68.11 487.42,69.97 487.70,71.84 487.98,73.19 488.27,73.89 488.55,73.08 488.83,70.68 489.12,68.29 489.40,65.89 489.68,63.50 489.97,61.10 490.25,58.71 490.54,56.18 490.82,53.63 491.10,51.08 491.39,48.53 491.67,45.98 491.95,43.42 492.24,41.67 492.52,40.08 492.80,38.49 493.09,36.90 493.37,35.59 493.65,35.16 493.94,34.73 494.22,34.30 494.50,33.87 494.79,33.44 495.07,33.01 495.36,32.58 495.64,32.15 495.92,31.72 496.21,31.72 496.49,31.89 496.77,32.06 497.06,32.23 497.34,32.40 497.62,32.57 497.91,32.74 498.19,32.91 498.47,33.08 498.76,33.25 499.04,33.42 499.33,33.60 499.61,33.77 499.89,33.94 500.18,34.11 500.46,34.28 500.74,34.45 501.03,34.62 501.31,34.79 501.59,34.86 501.88,34.75 502.16,34.64 502.44,34.52 502.73,34.41 503.01,34.30 503.29,34.18 503.58,34.07 503.86,33.96 504.15,33.84 504.43,33.73 504.71,33.62 505.00,33.50 505.28,33.39 505.56,33.27 505.85,33.16 506.13,33.05 506.41,32.93 506.70,32.82 506.98,32.71 507.26,32.59 507.55,32.52 507.83,32.66 508.11,32.80 508.40,32.93 508.68,33.07 508.97,33.20 509.25,33.34 509.53,33.48 509.82,33.61 510.10,33.75 510.38,33.88 510.67,34.02 510.95,34.16 511.23,34.29 511.52,34.43 511.80,34.56 512.08,34.70 512.37,34.84 512.65,34.83 512.94,34.70 513.22,34.57 513.50,34.43 513.79,34.30 514.07,34.17 514.35,34.04 514.64,33.91 514.92,33.78 515.20,33.64 515.49,33.51 515.77,33.38 516.05,33.25 516.34,33.12 516.62,32.98 516.90,32.85 517.19,32.72 517.47,32.59 517.76,32.46 518.04,32.33 518.32,32.19 518.61,32.06 518.89,31.93 519.17,31.80 519.46,31.67 519.74,31.67 520.02,31.81 520.31,31.95 520.59,32.10 520.87,32.24 521.16,32.38 521.44,32.52 521.73,32.66 522.01,32.81 522.29,33.04 522.58,33.26 522.86,33.49 523.14,33.72 523.43,33.95 523.71,34.18 523.99,34.40 524.28,34.63 524.56,34.86 524.84,35.09 525.13,35.32 525.41,35.55 525.69,35.77 525.98,36.00 526.26,35.99 526.55,35.80 526.83,35.61 527.11,35.43 527.40,35.24 527.68,35.05 527.96,34.86 528.25,34.67 528.53,34.48 528.81,34.29 529.10,34.10 529.38,33.91 529.66,33.72 529.95,33.53 530.23,33.35 530.51,33.16 530.80,32.97 531.08,33.11 531.37,33.44 531.65,33.77 531.93,34.10 532.22,34.43 532.50,34.75 532.78,35.08 533.07,35.41 533.35,35.74 533.63,36.07 533.92,36.40 534.20,36.73 534.48,37.05 534.77,37.38 535.05,37.71 535.34,38.04 535.62,38.33 535.90,38.62 536.19,38.91 536.47,39.20 536.75,39.49 537.04,39.78 537.32,40.07 537.60,40.37 537.89,40.66 538.17,40.95 538.45,41.24 538.74,41.53 539.02,41.80 539.30,41.76 539.59,41.72 539.87,41.69 540.16,41.65 540.44,41.61 540.72,41.57 541.01,41.54 541.29,41.50 541.57,41.46 541.86,41.42 542.14,41.39 542.42,41.35 542.71,41.31 542.99,41.44 543.27,41.66 543.56,41.87 543.84,42.08 544.13,42.29 544.41,42.51 544.69,42.72 544.98,42.93 545.26,43.14 545.54,43.36 545.83,43.57 546.11,43.78 546.39,44.00 546.68,44.21 546.96,44.42 547.24,44.63 547.53,44.84 547.81,45.05 548.09,45.25 548.38,45.46 548.66,45.67 548.95,45.88 549.23,46.08 549.51,46.29 549.80,46.50 550.08,46.38 550.36,46.26 550.65,46.14 550.93,46.02 551.21,45.90 551.50,45.78 551.78,45.66 552.06,45.54 552.35,45.42 552.63,45.67 552.92,46.01 553.20,46.34 553.48,46.68 553.77,47.01 554.05,47.35 554.33,47.68 554.62,48.08 554.90,49.42 555.18,50.76 555.47,52.10 555.75,53.46 556.03,54.95 556.32,56.43 556.60,57.91 556.88,59.40 557.17,61.35 557.45,63.61 557.74,65.88 558.02,68.15 558.30,70.50 558.59,72.88 558.87,75.26 559.15,77.65 559.44,80.03 559.72,82.55 560.00,85.26 560.29,87.97 560.57,90.71 560.85,92.82 561.14,91.70 561.42,89.45 561.70,87.20 561.99,84.95 562.27,82.70 562.56,80.45 562.84,77.62 563.12,74.20 563.41,70.78 563.69,67.36 563.97,63.94 564.26,60.52 564.54,58.01 564.82,55.65 565.11,53.30 565.39,51.61 565.67,51.33 565.96,51.04 566.24,50.76 566.53,50.47 566.81,50.19 567.09,49.91 567.38,49.62 567.66,49.34 567.94,49.06 568.23,48.77 568.51,48.87 568.79,49.09 569.08,49.31 569.36,49.54 569.64,49.76 569.93,49.98 570.21,50.21 570.49,50.43 570.78,50.65 571.06,50.88 571.35,51.10 571.63,51.32 571.91,51.55 572.20,51.77 572.48,52.00 572.76,52.22 573.05,52.44 573.33,52.67 573.61,52.72 573.90,52.53 574.18,52.34 574.46,52.15 574.75,51.96 575.03,51.76 575.32,51.57 575.60,51.38 575.88,51.19 576.17,51.00 576.45,50.81 576.73,50.61 577.02,50.42 577.30,50.23 577.58,50.04 577.87,49.85 578.15,49.66 578.43,49.46 578.72,49.27 579.00,49.08 579.28,48.89 579.57,48.70 579.85,48.51 580.14,48.31 580.42,48.12 580.70,48.01 580.99,48.02 581.27,48.04 581.55,48.06 581.84,48.07 582.12,48.09 582.40,48.11 582.69,48.13 582.97,48.14 583.25,48.16 583.54,48.18 583.82,48.20 584.10,48.28 584.39,48.39 584.67,48.50 584.96,48.61 585.24,48.72 585.52,48.83 585.81,48.94 586.09,49.05 586.37,49.16 586.66,49.27 586.94,49.37 587.22,49.48 587.51,49.59 587.79,49.70 588.07,49.81 588.36,49.88 588.64,49.79 588.93,49.70 589.21,49.61 589.49,49.52 589.78,49.43 590.06,49.34 590.34,49.25 590.63,49.16 590.91,49.07 591.19,48.98 591.48,48.89 591.76,48.80 592.04,48.71 592.33,48.62 592.61,48.53 592.89,48.53 593.18,48.58 593.46,48.62 593.75,48.67 594.03,48.71 594.31,48.76 594.60,48.80 594.88,48.85 595.16,48.89 595.45,48.94 595.73,48.98 596.01,49.03 596.30,49.08 596.58,49.12 596.86,49.17 597.15,49.21 597.43,49.26 597.72,49.30 598.00,49.23 598.28,49.15 598.57,49.08 598.85,49.01 599.13,48.94 599.42,48.87 599.70,48.80 599.98,48.73 600.27,48.66 600.55,48.59 600.83,48.52 601.12,48.45 601.40,48.37 601.68,48.30 601.97,48.23 602.25,48.16 602.54,48.09 602.82,48.02 603.10,47.94 603.39,47.87 603.67,47.80 603.95,47.72 604.24,47.65 604.52,47.58 604.80,47.51 605.09,47.43 605.37,47.36 605.65,47.29 605.94,47.22 606.22,47.08 606.51,46.92 606.79,46.76 607.07,46.60 607.36,46.44 607.64,46.28 607.92,46.12 608.21,45.96 608.49,45.80 608.77,45.64 609.06,45.48 609.34,45.48 609.62,45.65 609.91,45.82 610.19,45.98 610.47,46.15 610.76,46.32 611.04,46.49 611.33,46.65 611.61,46.82 611.89,46.99 612.18,47.16 612.46,47.32 612.74,47.49 613.03,47.66 613.31,47.85 613.59,48.05 613.88,48.25 614.16,48.45 614.44,48.65 614.73,48.85 615.01,49.05 615.29,49.25 615.58,49.45 615.86,49.65 616.15,49.85 616.43,50.05 616.71,50.26 617.00,50.46 617.28,50.76 617.56,51.33 617.85,51.89 618.13,52.46 618.41,53.03 618.70,53.59 618.98,54.16 619.26,54.73 619.55,55.30 619.83,55.86 620.12,56.67 620.40,57.82 620.68,58.97 620.97,60.12 621.25,61.28 621.53,62.43 621.82,64.14 622.10,66.03 622.38,67.92 622.67,69.81 622.95,72.51 623.23,75.91 623.52,79.31 623.80,82.88 624.08,86.51 624.37,90.42 624.65,94.35 624.94,99.65 625.22,106.30 625.50,110.75 625.79,115.21 626.07,121.22 626.35,128.26 626.64,135.31 626.92,142.36 627.20,149.41 627.49,154.24 627.77,157.92 628.05,161.61 628.34,165.29 628.62,168.98 628.91,172.75 629.19,176.55 629.47,180.36 629.76,184.16 630.04,187.96 630.32,191.76 630.61,196.36 630.89,201.26 631.17,206.15 631.46,211.05 631.74,215.95 632.02,220.05 632.31,223.15 632.59,226.24 632.87,229.33 633.16,230.70" fill="none" stroke="#000" stroke-width="2.0" stroke-linejoin="round" stroke-linecap="round"/>
<polyline points="52.74,351.97 53.03,351.80 53.31,351.62 53.59,351.29 53.88,350.66 54.16,350.03 54.44,349.26 54.73,347.66 55.01,346.07" fill="none" stroke="#000" stroke-width="3.2" stroke-linejoin="round" stroke-linecap="round"/>
<polyline points="63.23,239.48 63.52,237.51 63.80,235.55 64.08,233.58 64.37,231.61 64.65,229.65 64.93,227.68 65.22,225.72 65.50,223.75 65.78,221.79 66.07,219.82 66.35,217.87 66.64,215.92 66.92,213.98 67.20,212.03 67.49,210.08 67.77,208.50 68.05,207.16 68.34,205.82 68.62,204.48 68.90,203.14 69.19,201.80 69.47,200.46 69.75,199.12 70.04,198.20 70.32,197.36 70.61,196.52 70.89,195.68 71.17,194.84 71.46,194.00 71.74,193.16 72.02,192.32 72.31,191.48 72.59,190.38 72.87,189.28 73.16,188.19 73.44,187.09 73.72,185.99 74.01,185.01 74.29,184.08 74.57,183.14 74.86,182.20 75.14,181.26 75.43,180.32 75.71,179.39 75.99,178.45 76.28,177.51 76.56,176.59 76.84,175.67 77.13,174.76 77.41,173.85 77.69,172.94 77.98,172.03 78.26,171.11 78.54,170.20 78.83,169.42 79.11,168.79 79.39,168.16 79.68,167.53 79.96,166.90 80.25,166.27 80.53,165.64 80.81,165.02 81.10,164.24 81.38,163.18 81.66,162.12 81.95,161.06 82.23,160.01 82.51,158.96 82.80,158.18 83.08,157.40 83.36,156.62 83.65,155.84 83.93,155.06 84.22,154.28 84.50,153.50 84.78,152.86 85.07,152.23 85.35,151.59 85.63,150.95 85.92,150.31 86.20,149.67 86.48,149.04 86.77,148.44 87.05,147.85 87.33,147.25 87.62,146.66 87.90,146.06 88.18,145.47 88.47,144.88 88.75,144.25 89.04,143.61 89.32,142.96 89.60,142.32 89.89,141.67 90.17,141.02 90.45,140.44 90.74,140.14 91.02,139.85 91.30,139.55 91.59,139.25 91.87,138.95 92.15,138.65 92.44,137.99 92.72,137.27 93.01,136.55 93.29,135.83 93.57,135.46 93.86,135.11 94.14,134.75 94.42,134.40 94.71,134.04 94.99,133.69 95.27,133.33 95.56,132.98 95.84,132.63 96.12,132.29 96.41,131.94 96.69,131.60 96.97,131.26 97.26,130.92 97.54,130.57 97.83,130.23 98.11,129.88 98.39,129.29 98.68,128.69 98.96,128.09 99.24,127.50 99.53,126.90 99.81,126.31 100.09,125.71 100.38,125.08 100.66,124.44 100.94,123.81 101.23,123.18 101.51,122.54 101.80,121.91 102.08,121.27 102.36,120.68 102.65,120.11 102.93,119.54 103.21,118.97 103.50,118.41 103.78,117.76 104.06,116.89 104.35,116.03 104.63,115.16 104.91,114.30 105.20,113.43 105.48,112.57 105.76,111.72 106.05,110.93 106.33,110.14 106.62,109.35 106.90,108.56 107.18,107.78 107.47,106.99 107.75,106.20 108.03,105.46 108.32,105.07 108.60,104.69 108.88,104.31 109.17,103.93 109.45,103.55 109.73,103.17 110.02,102.79 110.30,102.41 110.58,102.03 110.87,101.65 111.15,101.27 111.44,100.89 111.72,100.63 112.00,100.41 112.29,100.20 112.57,99.98 112.85,99.76 113.14,99.55 113.42,99.33 113.70,99.11 113.99,98.89 114.27,98.68 114.55,98.45 114.84,98.22 115.12,97.98 115.41,97.75 115.69,97.51 115.97,97.27 116.26,97.04 116.54,96.61 116.82,96.15 117.11,95.69 117.39,95.24 117.67,94.78 117.96,94.32 118.24,93.86 118.52,93.76 118.81,94.14 119.09,94.51 119.37,94.89 119.66,95.26 119.94,95.63 120.23,96.01 120.51,96.38 120.79,97.35 121.08,98.60 121.36,99.85 121.64,101.10 121.93,102.35 122.21,103.60 122.49,105.29 122.78,107.18 123.06,109.07 123.34,110.96 123.63,113.00 123.91,115.20" fill="none" stroke="#000" stroke-width="3.2" stroke-linejoin="round" stroke-linecap="round"/>
<polyline points="128.73,99.81 129.02,97.26 129.30,94.71 129.58,92.16 129.87,90.56 130.15,89.03 130.43,87.50 130.72,86.29 131.00,85.52 131.28,84.76 131.57,84.00 131.85,83.23 132.13,82.78 132.42,82.40 132.70,82.01 132.98,81.62 133.27,81.24 133.55,80.85 133.84,80.47 134.12,80.08 134.40,79.70 134.69,79.45 134.97,79.21 135.25,78.96 135.54,78.72 135.82,78.48 136.10,78.23 136.39,77.99 136.67,77.74 136.95,77.50 137.24,77.25 137.52,77.01 137.81,76.76 138.09,76.51 138.37,76.27 138.66,76.02 138.94,75.77 139.22,75.53 139.51,75.28 139.79,75.41 140.07,75.73 140.36,76.04 140.64,76.36 140.92,76.67 141.21,76.99 141.49,77.30 141.77,77.62 142.06,77.93 142.34,78.17 142.63,77.98 142.91,77.78 143.19,77.58 143.48,77.39 143.76,77.19 144.04,77.00 144.33,76.80 144.61,76.61 144.89,76.41 145.18,76.22 145.46,75.76 145.74,75.27 146.03,74.79 146.31,74.31 146.60,73.83 146.88,73.35 147.16,72.86 147.45,71.98 147.73,71.04 148.01,70.09 148.30,69.15 148.58,68.20 148.86,67.44 149.15,66.82 149.43,66.19 149.71,65.57 150.00,64.95 150.28,64.32 150.56,63.70 150.85,63.21 151.13,62.85 151.42,62.50 151.70,62.14 151.98,61.78 152.27,61.42 152.55,61.06 152.83,60.86 153.12,60.69 153.40,60.51 153.68,60.34 153.97,60.17 154.25,60.00 154.53,59.82 154.82,59.65 155.10,59.58 155.39,59.56 155.67,59.54 155.95,59.51 156.24,59.49 156.52,59.47 156.80,59.44 157.09,59.42 157.37,59.40 157.65,59.37 157.94,59.35 158.22,59.33 158.50,59.30 158.79,59.28 159.07,59.26 159.35,59.23 159.64,59.21 159.92,59.19 160.21,59.17 160.49,59.14 160.77,59.12 161.06,59.13 161.34,59.28 161.62,59.43 161.91,59.58 162.19,59.74 162.47,59.89 162.76,60.04 163.04,60.19 163.32,60.34 163.61,60.49 163.89,60.65 164.17,60.80 164.46,60.95 164.74,61.10 165.03,61.25 165.31,61.40 165.59,61.46 165.88,61.52 166.16,61.58 166.44,61.64 166.73,61.70 167.01,61.76 167.29,61.82 167.58,61.88 167.86,61.94 168.14,62.00 168.43,62.06 168.71,62.08 169.00,62.04 169.28,61.99 169.56,61.95 169.85,61.90 170.13,61.86 170.41,61.81 170.70,61.77 170.98,61.72 171.26,61.68 171.55,61.63 171.83,61.59 172.11,61.54 172.40,61.50 172.68,61.45 172.96,61.41 173.25,61.42 173.53,61.44 173.82,61.46 174.10,61.48 174.38,61.51 174.67,61.53 174.95,61.55 175.23,61.57 175.52,61.59 175.80,61.62 176.08,61.64 176.37,61.66 176.65,61.68 176.93,61.70 177.22,61.72 177.50,61.75 177.79,61.77 178.07,61.79 178.35,61.74 178.64,61.62 178.92,61.50 179.20,61.38 179.49,61.26 179.77,61.15 180.05,61.03 180.34,60.91 180.62,60.79 180.90,60.67 181.19,60.56 181.47,60.44 181.75,60.32 182.04,60.20 182.32,60.08 182.61,59.96 182.89,59.85 183.17,59.73 183.46,59.61 183.74,59.49 184.02,59.37 184.31,59.30 184.59,59.29 184.87,59.28 185.16,59.28 185.44,59.27 185.72,59.26 186.01,59.26 186.29,59.25 186.57,59.24 186.86,59.24 187.14,59.23 187.43,59.22 187.71,59.22 187.99,59.21 188.28,59.21 188.56,59.24 188.84,59.42 189.13,59.61 189.41,59.79 189.69,59.98 189.98,60.16 190.26,60.34 190.54,60.59 190.83,61.13 191.11,61.68 191.40,62.22 191.68,62.77 191.96,63.68 192.25,64.86 192.53,66.04 192.81,67.22 193.10,68.64 193.38,70.53 193.66,72.42 193.95,74.31 194.23,76.22 194.51,78.24 194.80,80.27 195.08,82.30 195.36,84.32 195.65,86.21 195.93,87.45 196.22,88.69 196.50,89.93 196.78,91.17 197.07,92.41 197.35,93.75 197.63,95.17 197.92,93.82 198.20,91.63 198.48,89.44 198.77,87.25 199.05,84.66 199.33,82.02 199.62,79.38 199.90,76.74 200.19,74.10 200.47,71.67 200.75,69.88 201.04,68.09 201.32,66.30 201.60,64.51 201.89,62.72 202.17,61.47 202.45,60.58 202.74,59.70 203.02,58.81 203.30,57.92 203.59,57.04 203.87,56.66 204.15,56.31 204.44,55.95 204.72,55.60 205.01,55.24 205.29,54.97 205.57,54.88 205.86,54.79 206.14,54.70 206.42,54.61 206.71,54.52 206.99,54.43 207.27,54.44 207.56,54.51 207.84,54.58 208.12,54.65 208.41,54.71 208.69,54.78 208.98,54.85 209.26,54.92 209.54,54.98 209.83,55.05 210.11,55.12 210.39,55.19 210.68,55.26 210.96,55.32 211.24,55.39 211.53,55.46 211.81,55.53 212.09,55.60 212.38,55.66 212.66,55.73 212.94,55.80 213.23,55.87 213.51,55.94 213.80,56.00 214.08,56.07 214.36,56.08 214.65,56.05 214.93,56.01 215.21,55.98 215.50,55.94 215.78,55.91 216.06,55.87 216.35,55.84 216.63,55.81 216.91,55.77 217.20,55.74 217.48,55.70 217.76,55.67 218.05,55.63 218.33,55.60 218.62,55.56 218.90,55.53 219.18,55.50 219.47,55.46 219.75,55.43 220.03,55.39 220.32,55.36 220.60,55.32 220.88,55.31 221.17,55.33 221.45,55.35 221.73,55.37 222.02,55.39 222.30,55.41 222.59,55.43 222.87,55.45 223.15,55.47 223.44,55.49 223.72,55.51 224.00,55.53 224.29,55.55 224.57,55.57 224.85,55.59 225.14,55.62 225.42,55.64 225.70,55.66 225.99,55.68 226.27,55.70 226.55,55.60 226.84,55.48 227.12,55.37 227.41,55.26 227.69,55.14 227.97,55.03 228.26,54.92 228.54,54.80 228.82,54.69 229.11,54.58 229.39,54.46 229.67,54.35 229.96,54.24 230.24,54.12 230.52,54.01 230.81,53.90 231.09,53.78 231.38,53.67 231.66,53.56 231.94,53.49 232.23,53.46 232.51,53.44 232.79,53.42 233.08,53.43 233.36,53.55 233.64,53.66 233.93,53.78 234.21,53.90 234.49,54.01 234.78,54.13 235.06,54.24 235.34,54.36 235.63,54.48 235.91,54.59 236.20,54.71 236.48,54.82 236.76,54.94 237.05,55.06 237.33,55.17 237.61,55.12 237.90,55.02 238.18,54.91 238.46,54.81 238.75,54.71 239.03,54.60 239.31,54.50 239.60,54.39 239.88,54.29 240.16,54.19 240.45,54.08 240.73,53.98 241.02,53.87 241.30,53.77 241.58,53.67 241.87,53.56 242.15,53.46 242.43,53.35 242.72,53.25 243.00,53.15 243.28,53.04 243.57,53.05 243.85,53.15 244.13,53.24 244.42,53.33 244.70,53.43 244.99,53.52 245.27,53.61 245.55,53.70 245.84,53.80 246.12,53.89 246.40,53.98 246.69,54.07 246.97,54.17 247.25,54.26 247.54,54.35 247.82,54.44 248.10,54.54 248.39,54.53 248.67,54.30 248.95,54.07 249.24,53.84 249.52,53.61 249.81,53.38 250.09,53.15 250.37,52.92 250.66,52.69 250.94,52.46 251.22,52.22 251.51,51.99 251.79,51.78 252.07,51.56 252.36,51.34 252.64,51.13 252.92,50.91 253.21,50.69 253.49,50.48 253.78,50.26 254.06,50.04 254.34,49.83 254.63,49.61 254.91,49.40 255.19,49.42 255.48,49.43 255.76,49.45 256.04,49.46 256.33,49.48 256.61,49.49 256.89,49.50 257.18,49.52 257.46,49.53 257.74,49.55 258.03,49.56 258.31,49.58 258.60,49.59 258.88,49.59 259.16,49.57 259.45,49.55 259.73,49.54 260.01,49.52 260.30,49.50 260.58,49.49 260.86,49.47 261.15,49.45 261.43,49.43 261.71,49.42 262.00,49.40 262.28,49.73 262.57,50.06 262.85,50.39 263.13,50.72 263.42,51.05 263.70,51.38 263.98,52.10 264.27,53.02 264.55,53.95 264.83,54.88 265.12,55.80 265.40,56.95 265.68,58.51 265.97,60.07 266.25,61.63 266.53,63.26 266.82,65.40 267.10,67.54 267.39,69.68 267.67,71.85 267.95,74.12 268.24,76.39 268.52,78.66 268.80,80.92 269.09,82.68 269.37,84.18 269.65,85.67 269.94,87.17 270.22,88.60 270.50,88.79 270.79,86.87 271.07,84.94 271.35,83.02 271.64,81.10 271.92,78.94 272.21,76.49 272.49,74.03 272.77,71.57 273.06,69.11 273.34,66.66 273.62,64.23 273.91,61.80 274.19,59.37 274.47,56.94 274.76,54.78 275.04,53.70 275.32,52.61 275.61,51.53 275.89,50.44 276.18,49.36 276.46,48.46 276.74,48.29 277.03,48.12 277.31,47.95 277.59,47.78 277.88,47.61 278.16,47.43 278.44,47.26 278.73,47.09 279.01,46.92 279.29,46.75 279.58,46.58 279.86,46.41 280.14,46.23 280.43,46.05 280.71,45.86 281.00,45.68 281.28,45.49 281.56,45.31 281.85,45.12 282.13,44.94 282.41,44.75 282.70,44.57 282.98,44.38 283.26,44.19 283.55,44.01 283.83,43.82 284.11,43.64 284.40,43.45 284.68,43.27 284.97,43.08 285.25,42.90 285.53,42.71 285.82,42.55 286.10,42.42 286.38,42.29 286.67,42.16 286.95,42.03 287.23,41.90 287.52,41.77 287.80,41.65 288.08,41.52 288.37,41.39 288.65,41.26 288.93,41.13 289.22,41.00 289.50,40.87 289.79,40.74 290.07,40.61 290.35,40.49 290.64,40.36 290.92,40.23 291.20,40.10 291.49,40.06 291.77,40.02 292.05,39.97 292.34,39.93 292.62,39.89 292.90,39.85 293.19,39.81 293.47,39.76 293.75,39.72 294.04,39.68 294.32,39.64 294.61,39.60 294.89,39.55 295.17,39.51 295.46,39.47 295.74,39.43 296.02,39.39 296.31,39.34 296.59,39.30 296.87,39.25 297.16,39.19 297.44,39.13 297.72,39.08 298.01,39.02 298.29,38.96 298.58,38.90 298.86,38.85 299.14,38.79 299.43,38.73 299.71,38.68 299.99,38.62 300.28,38.56 300.56,38.51 300.84,38.45 301.13,38.39 301.41,38.34 301.69,38.28 301.98,38.22 302.26,38.18 302.54,38.15 302.83,38.13 303.11,38.10 303.40,38.07 303.68,38.04 303.96,38.01 304.25,37.98 304.53,37.95 304.81,37.92 305.10,37.89 305.38,37.86 305.66,37.83 305.95,37.81 306.23,37.89 306.51,38.01 306.80,38.12 307.08,38.23 307.37,38.35 307.65,38.46 307.93,38.57 308.22,38.69 308.50,38.80 308.78,38.91 309.07,39.03 309.35,39.14 309.63,39.25 309.92,39.37 310.20,39.48 310.48,39.59 310.77,39.71 311.05,39.79 311.33,39.72 311.62,39.66 311.90,39.59 312.19,39.52 312.47,39.46 312.75,39.39 313.04,39.32 313.32,39.26 313.60,39.19 313.89,39.13 314.17,39.06 314.45,38.99 314.74,38.93 315.02,38.86 315.30,38.80 315.59,38.73 315.87,38.66 316.16,38.60 316.44,38.53 316.72,38.46 317.01,38.40 317.29,38.52 317.57,38.63 317.86,38.75 318.14,38.87 318.42,38.98 318.71,39.10 318.99,39.22 319.27,39.33 319.56,39.45 319.84,39.56 320.12,39.68 320.41,39.80 320.69,39.91 320.98,40.03 321.26,40.15 321.54,40.26 321.83,40.38 322.11,40.49 322.39,40.61 322.68,40.73 322.96,40.84 323.24,40.88 323.53,40.83 323.81,40.79 324.09,40.74 324.38,40.70 324.66,40.65 324.94,40.61 325.23,40.56 325.51,40.52 325.80,40.47 326.08,40.43 326.36,40.38 326.65,40.34 326.93,40.29 327.21,40.25 327.50,40.20 327.78,40.32 328.06,40.44 328.35,40.56 328.63,40.68 328.91,40.81 329.20,40.93 329.48,41.05 329.77,41.17 330.05,41.29 330.33,41.41 330.62,41.54 330.90,41.66 331.18,41.78 331.47,41.90 331.75,42.02 332.03,42.14 332.32,42.26 332.60,42.45 332.88,42.67 333.17,42.88 333.45,43.10 333.73,43.31 334.02,43.53 334.30,43.74 334.59,43.96 334.87,44.17 335.15,44.39 335.44,44.60 335.72,44.85 336.00,45.52 336.29,46.19 336.57,46.86 336.85,47.53 337.14,48.20 337.42,48.87 337.70,49.54 337.99,50.54 338.27,52.29 338.56,54.03 338.84,55.78 339.12,57.52 339.41,59.71 339.69,62.08 339.97,64.44 340.26,66.80 340.54,69.11 340.82,71.35 341.11,73.60 341.39,75.85 341.67,78.09 341.96,79.62 342.24,81.08 342.52,82.54 342.81,84.00 343.09,85.46 343.38,84.01 343.66,82.47 343.94,80.94 344.23,79.40 344.51,77.87 344.79,76.33 345.08,74.79 345.36,73.26 345.64,71.33 345.93,69.01 346.21,66.70 346.49,64.39 346.78,62.08 347.06,59.76 347.34,57.45 347.63,55.61 347.91,53.89 348.20,52.17 348.48,50.45 348.76,48.73 349.05,47.92 349.33,47.25 349.61,46.59 349.90,45.92 350.18,45.25 350.46,44.58 350.75,44.35 351.03,44.17 351.31,43.99 351.60,43.81 351.88,43.64 352.17,43.52 352.45,43.62 352.73,43.71 353.02,43.81 353.30,43.90 353.58,43.99 353.87,44.09 354.15,44.18 354.43,44.28 354.72,44.37 355.00,44.47 355.28,44.56 355.57,44.66 355.85,44.75 356.13,44.84 356.42,44.94 356.70,45.03 356.99,45.13 357.27,45.22 357.55,45.32 357.84,45.41 358.12,45.51 358.40,45.60 358.69,45.70 358.97,45.56 359.25,45.41 359.54,45.27 359.82,45.12 360.10,44.97 360.39,44.83 360.67,44.68 360.96,44.53 361.24,44.39 361.52,44.24 361.81,44.10 362.09,43.95 362.37,43.80 362.66,43.66 362.94,43.51 363.22,43.36 363.51,43.22 363.79,43.07 364.07,42.92 364.36,42.78 364.64,42.63 364.92,42.71 365.21,42.84 365.49,42.97 365.78,43.10 366.06,43.24 366.34,43.37 366.63,43.50 366.91,43.64 367.19,43.77 367.48,43.90 367.76,44.04 368.04,44.17 368.33,44.30 368.61,44.44 368.89,44.57 369.18,44.70 369.46,44.83 369.74,44.81 370.03,44.64 370.31,44.47 370.60,44.30 370.88,44.12 371.16,43.95 371.45,43.78 371.73,43.61 372.01,43.44 372.30,43.26 372.58,43.09 372.86,42.92 373.15,42.75 373.43,42.58 373.71,42.40 374.00,42.23 374.28,42.06 374.57,41.89 374.85,41.72 375.13,41.54 375.42,41.37 375.70,41.20 375.98,41.26 376.27,41.32 376.55,41.38 376.83,41.45 377.12,41.51 377.40,41.57 377.68,41.63 377.97,41.69 378.25,41.81 378.53,41.93 378.82,42.04 379.10,42.16 379.39,42.28 379.67,42.40 379.95,42.52 380.24,42.64 380.52,42.76 380.80,42.88 381.09,43.00 381.37,43.12 381.65,43.24 381.94,43.22 382.22,43.06 382.50,42.90 382.79,42.73 383.07,42.57 383.36,42.41 383.64,42.25 383.92,42.08 384.21,41.92 384.49,41.76 384.77,41.59 385.06,41.43 385.34,41.27 385.62,41.11 385.91,40.94 386.19,40.78 386.47,40.62 386.76,40.46 387.04,40.29 387.32,40.13 387.61,39.97 387.89,39.80 388.18,39.97 388.46,40.14 388.74,40.31 389.03,40.48 389.31,40.65 389.59,40.82 389.88,40.99 390.16,41.16 390.44,41.33 390.73,41.50 391.01,41.67 391.29,41.84 391.58,42.01 391.86,42.18 392.15,42.35 392.43,42.52 392.71,42.69 393.00,42.86 393.28,43.03 393.56,43.20 393.85,43.37 394.13,43.54 394.41,43.69 394.70,43.44 394.98,43.19 395.26,42.94 395.55,42.69 395.83,42.44 396.11,42.19 396.40,41.94 396.68,41.69 396.97,41.45 397.25,41.20 397.53,40.95 397.82,40.70 398.10,40.45 398.38,40.20 398.67,39.95 398.95,39.70 399.23,39.45 399.52,39.20 399.80,38.95 400.08,38.70 400.37,38.46 400.65,38.21 400.93,37.96 401.22,37.87 401.50,37.82 401.79,37.78 402.07,37.74 402.35,37.70 402.64,37.65 402.92,37.61 403.20,37.57 403.49,37.52 403.77,37.48 404.05,37.44 404.34,37.38 404.62,37.26 404.90,37.15 405.19,37.03 405.47,36.91 405.76,36.79 406.04,36.67 406.32,36.55 406.61,36.43 406.89,36.31 407.17,36.19 407.46,36.07 407.74,35.95 408.02,35.83 408.31,36.13 408.59,36.59 408.87,37.04 409.16,37.49 409.44,37.95 409.72,38.40 410.01,38.85 410.29,40.60 410.58,42.96 410.86,45.33 411.14,47.69 411.43,50.05 411.71,52.27 411.99,54.25 412.28,56.24 412.56,58.22 412.84,60.21 413.13,62.19 413.41,64.18 413.69,66.16 413.98,67.64 414.26,69.11 414.55,70.58 414.83,72.05 415.11,73.53 415.40,74.82 415.68,74.91 415.96,72.78 416.25,70.65 416.53,68.53 416.81,66.40 417.10,64.27 417.38,62.15 417.66,59.49 417.95,56.80 418.23,54.10 418.51,51.41 418.80,48.72 419.08,46.02 419.37,43.33 419.65,41.47 419.93,39.72 420.22,37.98 420.50,36.23 420.78,34.77 421.07,34.00 421.35,33.23 421.63,32.45 421.92,31.95 422.20,31.83 422.48,31.72 422.77,31.60 423.05,31.48 423.33,31.37 423.62,31.33 423.90,31.41 424.19,31.48 424.47,31.56 424.75,31.63 425.04,31.70 425.32,31.78 425.60,31.85 425.89,31.93 426.17,32.00 426.45,32.08 426.74,32.15 427.02,32.23 427.30,32.30 427.59,32.10 427.87,31.91 428.16,31.72 428.44,31.52 428.72,31.33 429.01,31.14 429.29,30.94 429.57,30.75 429.86,30.56 430.14,30.36 430.42,30.17 430.71,29.98 430.99,29.78 431.27,29.59 431.56,29.40 431.84,29.22 432.12,29.06 432.41,28.90 432.69,28.74 432.98,28.58 433.26,28.41 433.54,28.25 433.83,28.09 434.11,27.93 434.39,27.77 434.68,27.61 434.96,27.45 435.24,27.29 435.53,27.13 435.81,26.96 436.09,26.80 436.38,26.89 436.66,26.98 436.95,27.07 437.23,27.16 437.51,27.24 437.80,27.33 438.08,27.42 438.36,27.51 438.65,27.60 438.93,27.69 439.21,27.78 439.50,27.87 439.78,27.96 440.06,28.05 440.35,28.14 440.63,28.23 440.91,28.32 441.20,28.41 441.48,28.49 441.77,28.35 442.05,28.19 442.33,28.02 442.62,27.86 442.90,27.70 443.18,27.53 443.47,27.37 443.75,27.21 444.03,27.05 444.32,26.88 444.60,26.72 444.88,26.56 445.17,26.40 445.45,26.23 445.74,26.07 446.02,25.91 446.30,25.74 446.59,25.58 446.87,25.42 447.15,25.26 447.44,25.09 447.72,25.07 448.00,25.25 448.29,25.43 448.57,25.60 448.85,25.78 449.14,25.95 449.42,26.13 449.70,26.31 449.99,26.48 450.27,26.66 450.56,26.85 450.84,27.13 451.12,27.41 451.41,27.69 451.69,27.96 451.97,28.24 452.26,28.52 452.54,28.79 452.82,29.07 453.11,29.35 453.39,29.63 453.67,29.90 453.96,30.18 454.24,30.46 454.52,30.73 454.81,31.01 455.09,31.02 455.38,30.90 455.66,30.78 455.94,30.66 456.23,30.54 456.51,30.42 456.79,30.30 457.08,30.19 457.36,30.07 457.64,29.95 457.93,29.83 458.21,29.71 458.49,29.59 458.78,29.47 459.06,29.35 459.35,29.23 459.63,29.11 459.91,29.00 460.20,29.12 460.48,29.23 460.76,29.35 461.05,29.46 461.33,29.57 461.61,29.69 461.90,29.80 462.18,29.91 462.46,30.03 462.75,30.14 463.03,30.25 463.31,30.37 463.60,30.48 463.88,30.59 464.17,30.71 464.45,30.82 464.73,30.93 465.02,31.05 465.30,31.16 465.58,31.27 465.87,31.39 466.15,31.21 466.43,31.00 466.72,30.79 467.00,30.57 467.28,30.36 467.57,30.15 467.85,29.94 468.14,29.72 468.42,29.51 468.70,29.30 468.99,29.09 469.27,28.87 469.55,28.66 469.84,28.45 470.12,28.24 470.40,28.02 470.69,27.81 470.97,27.60 471.25,27.38 471.54,27.17 471.82,26.96 472.10,27.06 472.39,27.29 472.67,27.52 472.96,27.74 473.24,27.97 473.52,28.20 473.81,28.42 474.09,28.65 474.37,28.88 474.66,29.11 474.94,29.33 475.22,29.56 475.51,29.79 475.79,30.01 476.07,30.24 476.36,30.47 476.64,30.69 476.92,30.92 477.21,31.15 477.49,31.26 477.78,31.13 478.06,31.00 478.34,30.87 478.63,30.74 478.91,30.61 479.19,30.48 479.48,30.36 479.76,30.23 480.04,30.10 480.33,29.97 480.61,29.84 480.89,30.17 481.18,30.71 481.46,31.25 481.75,31.80 482.03,32.34 482.31,32.88 482.60,33.42 482.88,33.96 483.16,35.42 483.45,36.94 483.73,38.47 484.01,40.00 484.30,41.97 484.58,44.81 484.86,47.64 485.15,50.48 485.43,53.27 485.71,56.02 486.00,58.77 486.28,61.52 486.57,64.27 486.85,66.24 487.13,68.11 487.42,69.97 487.70,71.84 487.98,73.19 488.27,73.89 488.55,73.08 488.83,70.68 489.12,68.29 489.40,65.89 489.68,63.50 489.97,61.10 490.25,58.71 490.54,56.18 490.82,53.63 491.10,51.08 491.39,48.53 491.67,45.98 491.95,43.42 492.24,41.67 492.52,40.08 492.80,38.49 493.09,36.90 493.37,35.59 493.65,35.16 493.94,34.73 494.22,34.30 494.50,33.87 494.79,33.44 495.07,33.01 495.36,32.58 495.64,32.15 495.92,31.72 496.21,31.72 496.49,31.89 496.77,32.06 497.06,32.23 497.34,32.40 497.62,32.57 497.91,32.74 498.19,32.91 498.47,33.08 498.76,33.25 499.04,33.42 499.33,33.60 499.61,33.77 499.89,33.94 500.18,34.11 500.46,34.28 500.74,34.45 501.03,34.62 501.31,34.79 501.59,34.86 501.88,34.75 502.16,34.64 502.44,34.52 502.73,34.41 503.01,34.30 503.29,34.18 503.58,34.07 503.86,33.96 504.15,33.84 504.43,33.73 504.71,33.62 505.00,33.50 505.28,33.39 505.56,33.27 505.85,33.16 506.13,33.05 506.41,32.93 506.70,32.82 506.98,32.71 507.26,32.59 507.55,32.52 507.83,32.66 508.11,32.80 508.40,32.93 508.68,33.07 508.97,33.20 509.25,33.34 509.53,33.48 509.82,33.61 510.10,33.75 510.38,33.88 510.67,34.02 510.95,34.16 511.23,34.29 511.52,34.43 511.80,34.56 512.08,34.70 512.37,34.84 512.65,34.83 512.94,34.70 513.22,34.57 513.50,34.43 513.79,34.30 514.07,34.17 514.35,34.04 514.64,33.91 514.92,33.78 515.20,33.64 515.49,33.51 515.77,33.38 516.05,33.25 516.34,33.12 516.62,32.98 516.90,32.85 517.19,32.72 517.47,32.59 517.76,32.46 518.04,32.33 518.32,32.19 518.61,32.06 518.89,31.93 519.17,31.80 519.46,31.67 519.74,31.67 520.02,31.81 520.31,31.95 520.59,32.10 520.87,32.24 521.16,32.38 521.44,32.52 521.73,32.66 522.01,32.81 522.29,33.04 522.58,33.26 522.86,33.49 523.14,33.72 523.43,33.95 523.71,34.18 523.99,34.40 524.28,34.63 524.56,34.86 524.84,35.09 525.13,35.32 525.41,35.55 525.69,35.77 525.98,36.00 526.26,35.99 526.55,35.80 526.83,35.61 527.11,35.43 527.40,35.24 527.68,35.05 527.96,34.86 528.25,34.67 528.53,34.48 528.81,34.29 529.10,34.10 529.38,33.91 529.66,33.72 529.95,33.53 530.23,33.35 530.51,33.16 530.80,32.97 531.08,33.11 531.37,33.44 531.65,33.77 531.93,34.10 532.22,34.43 532.50,34.75 532.78,35.08 533.07,35.41 533.35,35.74 533.63,36.07 533.92,36.40 534.20,36.73 534.48,37.05 534.77,37.38 535.05,37.71 535.34,38.04 535.62,38.33 535.90,38.62 536.19,38.91 536.47,39.20 536.75,39.49 537.04,39.78 537.32,40.07 537.60,40.37 537.89,40.66 538.17,40.95 538.45,41.24 538.74,41.53 539.02,41.80 539.30,41.76 539.59,41.72 539.87,41.69 540.16,41.65 540.44,41.61 540.72,41.57 541.01,41.54 541.29,41.50 541.57,41.46 541.86,41.42 542.14,41.39 542.42,41.35 542.71,41.31 542.99,41.44 543.27,41.66 543.56,41.87 543.84,42.08 544.13,42.29 544.41,42.51 544.69,42.72 544.98,42.93 545.26,43.14 545.54,43.36 545.83,43.57 546.11,43.78 546.39,44.00 546.68,44.21 546.96,44.42 547.24,44.63 547.53,44.84 547.81,45.05 548.09,45.25 548.38,45.46 548.66,45.67 548.95,45.88 549.23,46.08 549.51,46.29 549.80,46.50 550.08,46.38 550.36,46.26 550.65,46.14 550.93,46.02 551.21,45.90 551.50,45.78 551.78,45.66 552.06,45.54 552.35,45.42 552.63,45.67 552.92,46.01 553.20,46.34 553.48,46.68 553.77,47.01 554.05,47.35 554.33,47.68 554.62,48.08 554.90,49.42 555.18,50.76 555.47,52.10 555.75,53.46 556.03,54.95 556.32,56.43 556.60,57.91 556.88,59.40 557.17,61.35 557.45,63.61 557.74,65.88 558.02,68.15 558.30,70.50 558.59,72.88 558.87,75.26 559.15,77.65 559.44,80.03 559.72,82.55 560.00,85.26 560.29,87.97 560.57,90.71 560.85,92.82 561.14,91.70 561.42,89.45 561.70,87.20 561.99,84.95 562.27,82.70 562.56,80.45 562.84,77.62 563.12,74.20 563.41,70.78 563.69,67.36 563.97,63.94 564.26,60.52 564.54,58.01 564.82,55.65 565.11,53.30 565.39,51.61 565.67,51.33 565.96,51.04 566.24,50.76 566.53,50.47 566.81,50.19 567.09,49.91 567.38,49.62 567.66,49.34 567.94,49.06 568.23,48.77 568.51,48.87 568.79,49.09 569.08,49.31 569.36,49.54 569.64,49.76 569.93,49.98 570.21,50.21 570.49,50.43 570.78,50.65 571.06,50.88 571.35,51.10 571.63,51.32 571.91,51.55 572.20,51.77 572.48,52.00 572.76,52.22 573.05,52.44 573.33,52.67 573.61,52.72 573.90,52.53 574.18,52.34 574.46,52.15 574.75,51.96 575.03,51.76 575.32,51.57 575.60,51.38 575.88,51.19 576.17,51.00 576.45,50.81 576.73,50.61 577.02,50.42 577.30,50.23 577.58,50.04 577.87,49.85 578.15,49.66 578.43,49.46 578.72,49.27 579.00,49.08 579.28,48.89 579.57,48.70 579.85,48.51 580.14,48.31 580.42,48.12 580.70,48.01 580.99,48.02 581.27,48.04 581.55,48.06 581.84,48.07 582.12,48.09 582.40,48.11 582.69,48.13 582.97,48.14 583.25,48.16 583.54,48.18 583.82,48.20 584.10,48.28 584.39,48.39 584.67,48.50 584.96,48.61 585.24,48.72 585.52,48.83 585.81,48.94 586.09,49.05 586.37,49.16 586.66,49.27 586.94,49.37 587.22,49.48 587.51,49.59 587.79,49.70 588.07,49.81 588.36,49.88 588.64,49.79 588.93,49.70 589.21,49.61 589.49,49.52 589.78,49.43 590.06,49.34 590.34,49.25 590.63,49.16 590.91,49.07 591.19,48.98 591.48,48.89 591.76,48.80 592.04,48.71 592.33,48.62 592.61,48.53 592.89,48.53 593.18,48.58 593.46,48.62 593.75,48.67 594.03,48.71 594.31,48.76 594.60,48.80 594.88,48.85 595.16,48.89 595.45,48.94 595.73,48.98 596.01,49.03 596.30,49.08 596.58,49.12 596.86,49.17 597.15,49.21 597.43,49.26 597.72,49.30 598.00,49.23 598.28,49.15 598.57,49.08 598.85,49.01 599.13,48.94 599.42,48.87 599.70,48.80 599.98,48.73 600.27,48.66 600.55,48.59 600.83,48.52 601.12,48.45 601.40,48.37 601.68,48.30 601.97,48.23 602.25,48.16 602.54,48.09 602.82,48.02 603.10,47.94 603.39,47.87 603.67,47.80 603.95,47.72 604.24,47.65 604.52,47.58 604.80,47.51 605.09,47.43 605.37,47.36 605.65,47.29 605.94,47.22 606.22,47.08 606.51,46.92 606.79,46.76 607.07,46.60 607.36,46.44 607.64,46.28 607.92,46.12 608.21,45.96 608.49,45.80 608.77,45.64 609.06,45.48 609.34,45.48 609.62,45.65 609.91,45.82 610.19,45.98 610.47,46.15 610.76,46.32 611.04,46.49 611.33,46.65 611.61,46.82 611.89,46.99 612.18,47.16 612.46,47.32 612.74,47.49 613.03,47.66 613.31,47.85 613.59,48.05 613.88,48.25 614.16,48.45 614.44,48.65 614.73,48.85 615.01,49.05 615.29,49.25 615.58,49.45 615.86,49.65 616.15,49.85 616.43,50.05 616.71,50.26 617.00,50.46 617.28,50.76 617.56,51.33 617.85,51.89 618.13,52.46 618.41,53.03 618.70,53.59 618.98,54.16 619.26,54.73 619.55,55.30 619.83,55.86 620.12,56.67 620.40,57.82 620.68,58.97 620.97,60.12 621.25,61.28 621.53,62.43 621.82,64.14 622.10,66.03 622.38,67.92 622.67,69.81 622.95,72.51 623.23,75.91 623.52,79.31 623.80,82.88 624.08,86.51 624.37,90.42 624.65,94.35 624.94,99.65" fill="none" stroke="#000" stroke-width="3.2" stroke-linejoin="round" stroke-linecap="round"/>
<polyline points="632.87,229.33 633.16,230.70" fill="none" stroke="#000" stroke-width="3.2" stroke-linejoin="round" stroke-linecap="round"/>
<polyline points="112.57,99.98 112.85,99.76 113.14,99.55 113.42,99.33 113.70,99.11 113.99,98.89 114.27,98.68 114.55,98.45 114.84,98.22 115.12,97.98 115.41,97.75 115.69,97.51 115.97,97.27 116.26,97.04 116.54,96.61 116.82,96.15 117.11,95.69 117.39,95.24 117.67,94.78 117.96,94.32 118.24,93.86 118.52,93.76 118.81,94.14 119.09,94.51 119.37,94.89 119.66,95.26 119.94,95.63 120.23,96.01 120.51,96.38 120.79,97.35 121.08,98.60 121.36,99.85" fill="none" stroke="#000" stroke-width="3.6" stroke-linejoin="round" stroke-linecap="round"/>
<polyline points="129.58,92.16 129.87,90.56 130.15,89.03 130.43,87.50 130.72,86.29 131.00,85.52 131.28,84.76 131.57,84.00 131.85,83.23 132.13,82.78 132.42,82.40 132.70,82.01 132.98,81.62 133.27,81.24 133.55,80.85 133.84,80.47 134.12,80.08 134.40,79.70 134.69,79.45 134.97,79.21 135.25,78.96 135.54,78.72 135.82,78.48 136.10,78.23 136.39,77.99 136.67,77.74 136.95,77.50 137.24,77.25 137.52,77.01 137.81,76.76 138.09,76.51 138.37,76.27 138.66,76.02 138.94,75.77 139.22,75.53 139.51,75.28 139.79,75.41 140.07,75.73 140.36,76.04 140.64,76.36 140.92,76.67 141.21,76.99 141.49,77.30 141.77,77.62 142.06,77.93 142.34,78.17 142.63,77.98 142.91,77.78 143.19,77.58 143.48,77.39 143.76,77.19 144.04,77.00 144.33,76.80 144.61,76.61 144.89,76.41 145.18,76.22 145.46,75.76 145.74,75.27 146.03,74.79 146.31,74.31 146.60,73.83 146.88,73.35 147.16,72.86 147.45,71.98 147.73,71.04 148.01,70.09 148.30,69.15 148.58,68.20 148.86,67.44 149.15,66.82 149.43,66.19 149.71,65.57 150.00,64.95 150.28,64.32 150.56,63.70 150.85,63.21 151.13,62.85 151.42,62.50 151.70,62.14 151.98,61.78 152.27,61.42 152.55,61.06 152.83,60.86 153.12,60.69 153.40,60.51 153.68,60.34 153.97,60.17 154.25,60.00 154.53,59.82 154.82,59.65 155.10,59.58 155.39,59.56 155.67,59.54 155.95,59.51 156.24,59.49 156.52,59.47 156.80,59.44 157.09,59.42 157.37,59.40 157.65,59.37 157.94,59.35 158.22,59.33 158.50,59.30 158.79,59.28 159.07,59.26 159.35,59.23 159.64,59.21 159.92,59.19 160.21,59.17 160.49,59.14 160.77,59.12 161.06,59.13 161.34,59.28 161.62,59.43 161.91,59.58 162.19,59.74 162.47,59.89 162.76,60.04 163.04,60.19 163.32,60.34 163.61,60.49 163.89,60.65 164.17,60.80 164.46,60.95 164.74,61.10 165.03,61.25 165.31,61.40 165.59,61.46 165.88,61.52 166.16,61.58 166.44,61.64 166.73,61.70 167.01,61.76 167.29,61.82 167.58,61.88 167.86,61.94 168.14,62.00 168.43,62.06 168.71,62.08 169.00,62.04 169.28,61.99 169.56,61.95 169.85,61.90 170.13,61.86 170.41,61.81 170.70,61.77 170.98,61.72 171.26,61.68 171.55,61.63 171.83,61.59 172.11,61.54 172.40,61.50 172.68,61.45 172.96,61.41 173.25,61.42 173.53,61.44 173.82,61.46 174.10,61.48 174.38,61.51 174.67,61.53 174.95,61.55 175.23,61.57 175.52,61.59 175.80,61.62 176.08,61.64 176.37,61.66 176.65,61.68 176.93,61.70 177.22,61.72 177.50,61.75 177.79,61.77 178.07,61.79 178.35,61.74 178.64,61.62 178.92,61.50 179.20,61.38 179.49,61.26 179.77,61.15 180.05,61.03 180.34,60.91 180.62,60.79 180.90,60.67 181.19,60.56 181.47,60.44 181.75,60.32 182.04,60.20 182.32,60.08 182.61,59.96 182.89,59.85 183.17,59.73 183.46,59.61 183.74,59.49 184.02,59.37 184.31,59.30 184.59,59.29 184.87,59.28 185.16,59.28 185.44,59.27 185.72,59.26 186.01,59.26 186.29,59.25 186.57,59.24 186.86,59.24 187.14,59.23 187.43,59.22 187.71,59.22 187.99,59.21 188.28,59.21 188.56,59.24 188.84,59.42 189.13,59.61 189.41,59.79 189.69,59.98 189.98,60.16 190.26,60.34 190.54,60.59 190.83,61.13 191.11,61.68 191.40,62.22 191.68,62.77 191.96,63.68 192.25,64.86 192.53,66.04 192.81,67.22 193.10,68.64 193.38,70.53 193.66,72.42 193.95,74.31 194.23,76.22 194.51,78.24 194.80,80.27 195.08,82.30 195.36,84.32 195.65,86.21 195.93,87.45 196.22,88.69 196.50,89.93 196.78,91.17 197.07,92.41 197.35,93.75 197.63,95.17 197.92,93.82 198.20,91.63 198.48,89.44" fill="none" stroke="#000" stroke-width="3.6" stroke-linejoin="round" stroke-linecap="round"/>
<polyline points="200.47,71.67 200.75,69.88 201.04,68.09 201.32,66.30 201.60,64.51 201.89,62.72 202.17,61.47 202.45,60.58 202.74,59.70 203.02,58.81 203.30,57.92 203.59,57.04 203.87,56.66 204.15,56.31 204.44,55.95 204.72,55.60 205.01,55.24 205.29,54.97 205.57,54.88 205.86,54.79 206.14,54.70 206.42,54.61 206.71,54.52 206.99,54.43 207.27,54.44 207.56,54.51 207.84,54.58 208.12,54.65 208.41,54.71 208.69,54.78 208.98,54.85 209.26,54.92 209.54,54.98 209.83,55.05 210.11,55.12 210.39,55.19 210.68,55.26 210.96,55.32 211.24,55.39 211.53,55.46 211.81,55.53 212.09,55.60 212.38,55.66 212.66,55.73 212.94,55.80 213.23,55.87 213.51,55.94 213.80,56.00 214.08,56.07 214.36,56.08 214.65,56.05 214.93,56.01 215.21,55.98 215.50,55.94 215.78,55.91 216.06,55.87 216.35,55.84 216.63,55.81 216.91,55.77 217.20,55.74 217.48,55.70 217.76,55.67 218.05,55.63 218.33,55.60 218.62,55.56 218.90,55.53 219.18,55.50 219.47,55.46 219.75,55.43 220.03,55.39 220.32,55.36 220.60,55.32 220.88,55.31 221.17,55.33 221.45,55.35 221.73,55.37 222.02,55.39 222.30,55.41 222.59,55.43 222.87,55.45 223.15,55.47 223.44,55.49 223.72,55.51 224.00,55.53 224.29,55.55 224.57,55.57 224.85,55.59 225.14,55.62 225.42,55.64 225.70,55.66 225.99,55.68 226.27,55.70 226.55,55.60 226.84,55.48 227.12,55.37 227.41,55.26 227.69,55.14 227.97,55.03 228.26,54.92 228.54,54.80 228.82,54.69 229.11,54.58 229.39,54.46 229.67,54.35 229.96,54.24 230.24,54.12 230.52,54.01 230.81,53.90 231.09,53.78 231.38,53.67 231.66,53.56 231.94,53.49 232.23,53.46 232.51,53.44 232.79,53.42 233.08,53.43 233.36,53.55 233.64,53.66 233.93,53.78 234.21,53.90 234.49,54.01 234.78,54.13 235.06,54.24 235.34,54.36 235.63,54.48 235.91,54.59 236.20,54.71 236.48,54.82 236.76,54.94 237.05,55.06 237.33,55.17 237.61,55.12 237.90,55.02 238.18,54.91 238.46,54.81 238.75,54.71 239.03,54.60 239.31,54.50 239.60,54.39 239.88,54.29 240.16,54.19 240.45,54.08 240.73,53.98 241.02,53.87 241.30,53.77 241.58,53.67 241.87,53.56 242.15,53.46 242.43,53.35 242.72,53.25 243.00,53.15 243.28,53.04 243.57,53.05 243.85,53.15 244.13,53.24 244.42,53.33 244.70,53.43 244.99,53.52 245.27,53.61 245.55,53.70 245.84,53.80 246.12,53.89 246.40,53.98 246.69,54.07 246.97,54.17 247.25,54.26 247.54,54.35 247.82,54.44 248.10,54.54 248.39,54.53 248.67,54.30 248.95,54.07 249.24,53.84 249.52,53.61 249.81,53.38 250.09,53.15 250.37,52.92 250.66,52.69 250.94,52.46 251.22,52.22 251.51,51.99 251.79,51.78 252.07,51.56 252.36,51.34 252.64,51.13 252.92,50.91 253.21,50.69 253.49,50.48 253.78,50.26 254.06,50.04 254.34,49.83 254.63,49.61 254.91,49.40 255.19,49.42 255.48,49.43 255.76,49.45 256.04,49.46 256.33,49.48 256.61,49.49 256.89,49.50 257.18,49.52 257.46,49.53 257.74,49.55 258.03,49.56 258.31,49.58 258.60,49.59 258.88,49.59 259.16,49.57 259.45,49.55 259.73,49.54 260.01,49.52 260.30,49.50 260.58,49.49 260.86,49.47 261.15,49.45 261.43,49.43 261.71,49.42 262.00,49.40 262.28,49.73 262.57,50.06 262.85,50.39 263.13,50.72 263.42,51.05 263.70,51.38 263.98,52.10 264.27,53.02 264.55,53.95 264.83,54.88 265.12,55.80 265.40,56.95 265.68,58.51 265.97,60.07 266.25,61.63 266.53,63.26 266.82,65.40 267.10,67.54 267.39,69.68 267.67,71.85" fill="none" stroke="#000" stroke-width="3.6" stroke-linejoin="round" stroke-linecap="round"/>
<polyline points="268.80,80.92 269.09,82.68 269.37,84.18 269.65,85.67 269.94,87.17 270.22,88.60 270.50,88.79 270.79,86.87 271.07,84.94 271.35,83.02 271.64,81.10" fill="none" stroke="#000" stroke-width="3.6" stroke-linejoin="round" stroke-linecap="round"/>
<polyline points="274.76,54.78 275.04,53.70 275.32,52.61 275.61,51.53 275.89,50.44 276.18,49.36 276.46,48.46 276.74,48.29 277.03,48.12 277.31,47.95 277.59,47.78 277.88,47.61 278.16,47.43 278.44,47.26 278.73,47.09 279.01,46.92 279.29,46.75 279.58,46.58 279.86,46.41 280.14,46.23 280.43,46.05 280.71,45.86 281.00,45.68 281.28,45.49 281.56,45.31 281.85,45.12 282.13,44.94 282.41,44.75 282.70,44.57 282.98,44.38 283.26,44.19 283.55,44.01 283.83,43.82 284.11,43.64 284.40,43.45 284.68,43.27 284.97,43.08 285.25,42.90 285.53,42.71 285.82,42.55 286.10,42.42 286.38,42.29 286.67,42.16 286.95,42.03 287.23,41.90 287.52,41.77 287.80,41.65 288.08,41.52 288.37,41.39 288.65,41.26 288.93,41.13 289.22,41.00 289.50,40.87 289.79,40.74 290.07,40.61 290.35,40.49 290.64,40.36 290.92,40.23 291.20,40.10 291.49,40.06 291.77,40.02 292.05,39.97 292.34,39.93 292.62,39.89 292.90,39.85 293.19,39.81 293.47,39.76 293.75,39.72 294.04,39.68 294.32,39.64 294.61,39.60 294.89,39.55 295.17,39.51 295.46,39.47 295.74,39.43 296.02,39.39 296.31,39.34 296.59,39.30 296.87,39.25 297.16,39.19 297.44,39.13 297.72,39.08 298.01,39.02 298.29,38.96 298.58,38.90 298.86,38.85 299.14,38.79 299.43,38.73 299.71,38.68 299.99,38.62 300.28,38.56 300.56,38.51 300.84,38.45 301.13,38.39 301.41,38.34 301.69,38.28 301.98,38.22 302.26,38.18 302.54,38.15 302.83,38.13 303.11,38.10 303.40,38.07 303.68,38.04 303.96,38.01 304.25,37.98 304.53,37.95 304.81,37.92 305.10,37.89 305.38,37.86 305.66,37.83 305.95,37.81 306.23,37.89 306.51,38.01 306.80,38.12 307.08,38.23 307.37,38.35 307.65,38.46 307.93,38.57 308.22,38.69 308.50,38.80 308.78,38.91 309.07,39.03 309.35,39.14 309.63,39.25 309.92,39.37 310.20,39.48 310.48,39.59 310.77,39.71 311.05,39.79 311.33,39.72 311.62,39.66 311.90,39.59 312.19,39.52 312.47,39.46 312.75,39.39 313.04,39.32 313.32,39.26 313.60,39.19 313.89,39.13 314.17,39.06 314.45,38.99 314.74,38.93 315.02,38.86 315.30,38.80 315.59,38.73 315.87,38.66 316.16,38.60 316.44,38.53 316.72,38.46 317.01,38.40 317.29,38.52 317.57,38.63 317.86,38.75 318.14,38.87 318.42,38.98 318.71,39.10 318.99,39.22 319.27,39.33 319.56,39.45 319.84,39.56 320.12,39.68 320.41,39.80 320.69,39.91 320.98,40.03 321.26,40.15 321.54,40.26 321.83,40.38 322.11,40.49 322.39,40.61 322.68,40.73 322.96,40.84 323.24,40.88 323.53,40.83 323.81,40.79 324.09,40.74 324.38,40.70 324.66,40.65 324.94,40.61 325.23,40.56 325.51,40.52 325.80,40.47 326.08,40.43 326.36,40.38 326.65,40.34 326.93,40.29 327.21,40.25 327.50,40.20 327.78,40.32 328.06,40.44 328.35,40.56 328.63,40.68 328.91,40.81 329.20,40.93 329.48,41.05 329.77,41.17 330.05,41.29 330.33,41.41 330.62,41.54 330.90,41.66 331.18,41.78 331.47,41.90 331.75,42.02 332.03,42.14 332.32,42.26 332.60,42.45 332.88,42.67 333.17,42.88 333.45,43.10 333.73,43.31 334.02,43.53 334.30,43.74 334.59,43.96 334.87,44.17 335.15,44.39 335.44,44.60 335.72,44.85 336.00,45.52 336.29,46.19 336.57,46.86 336.85,47.53 337.14,48.20 337.42,48.87 337.70,49.54 337.99,50.54 338.27,52.29 338.56,54.03 338.84,55.78 339.12,57.52" fill="none" stroke="#000" stroke-width="3.6" stroke-linejoin="round" stroke-linecap="round"/>
<polyline points="340.82,71.35 341.11,73.60 341.39,75.85 341.67,78.09 341.96,79.62 342.24,81.08 342.52,82.54 342.81,84.00 343.09,85.46 343.38,84.01 343.66,82.47 343.94,80.94 344.23,79.40 344.51,77.87 344.79,76.33 345.08,74.79 345.36,73.26 345.64,71.33" fill="none" stroke="#000" stroke-width="3.6" stroke-linejoin="round" stroke-linecap="round"/>
<polyline points="347.34,57.45 347.63,55.61 347.91,53.89 348.20,52.17 348.48,50.45 348.76,48.73 349.05,47.92 349.33,47.25 349.61,46.59 349.90,45.92 350.18,45.25 350.46,44.58 350.75,44.35 351.03,44.17 351.31,43.99 351.60,43.81 351.88,43.64 352.17,43.52 352.45,43.62 352.73,43.71 353.02,43.81 353.30,43.90 353.58,43.99 353.87,44.09 354.15,44.18 354.43,44.28 354.72,44.37 355.00,44.47 355.28,44.56 355.57,44.66 355.85,44.75 356.13,44.84 356.42,44.94 356.70,45.03 356.99,45.13 357.27,45.22 357.55,45.32 357.84,45.41 358.12,45.51 358.40,45.60 358.69,45.70 358.97,45.56 359.25,45.41 359.54,45.27 359.82,45.12 360.10,44.97 360.39,44.83 360.67,44.68 360.96,44.53 361.24,44.39 361.52,44.24 361.81,44.10 362.09,43.95 362.37,43.80 362.66,43.66 362.94,43.51 363.22,43.36 363.51,43.22 363.79,43.07 364.07,42.92 364.36,42.78 364.64,42.63 364.92,42.71 365.21,42.84 365.49,42.97 365.78,43.10 366.06,43.24 366.34,43.37 366.63,43.50 366.91,43.64 367.19,43.77 367.48,43.90 367.76,44.04 368.04,44.17 368.33,44.30 368.61,44.44 368.89,44.57 369.18,44.70 369.46,44.83 369.74,44.81 370.03,44.64 370.31,44.47 370.60,44.30 370.88,44.12 371.16,43.95 371.45,43.78 371.73,43.61 372.01,43.44 372.30,43.26 372.58,43.09 372.86,42.92 373.15,42.75 373.43,42.58 373.71,42.40 374.00,42.23 374.28,42.06 374.57,41.89 374.85,41.72 375.13,41.54 375.42,41.37 375.70,41.20 375.98,41.26 376.27,41.32 376.55,41.38 376.83,41.45 377.12,41.51 377.40,41.57 377.68,41.63 377.97,41.69 378.25,41.81 378.53,41.93 378.82,42.04 379.10,42.16 379.39,42.28 379.67,42.40 379.95,42.52 380.24,42.64 380.52,42.76 380.80,42.88 381.09,43.00 381.37,43.12 381.65,43.24 381.94,43.22 382.22,43.06 382.50,42.90 382.79,42.73 383.07,42.57 383.36,42.41 383.64,42.25 383.92,42.08 384.21,41.92 384.49,41.76 384.77,41.59 385.06,41.43 385.34,41.27 385.62,41.11 385.91,40.94 386.19,40.78 386.47,40.62 386.76,40.46 387.04,40.29 387.32,40.13 387.61,39.97 387.89,39.80 388.18,39.97 388.46,40.14 388.74,40.31 389.03,40.48 389.31,40.65 389.59,40.82 389.88,40.99 390.16,41.16 390.44,41.33 390.73,41.50 391.01,41.67 391.29,41.84 391.58,42.01 391.86,42.18 392.15,42.35 392.43,42.52 392.71,42.69 393.00,42.86 393.28,43.03 393.56,43.20 393.85,43.37 394.13,43.54 394.41,43.69 394.70,43.44 394.98,43.19 395.26,42.94 395.55,42.69 395.83,42.44 396.11,42.19 396.40,41.94 396.68,41.69 396.97,41.45 397.25,41.20 397.53,40.95 397.82,40.70 398.10,40.45 398.38,40.20 398.67,39.95 398.95,39.70 399.23,39.45 399.52,39.20 399.80,38.95 400.08,38.70 400.37,38.46 400.65,38.21 400.93,37.96 401.22,37.87 401.50,37.82 401.79,37.78 402.07,37.74 402.35,37.70 402.64,37.65 402.92,37.61 403.20,37.57 403.49,37.52 403.77,37.48 404.05,37.44 404.34,37.38 404.62,37.26 404.90,37.15 405.19,37.03 405.47,36.91 405.76,36.79 406.04,36.67 406.32,36.55 406.61,36.43 406.89,36.31 407.17,36.19 407.46,36.07 407.74,35.95 408.02,35.83 408.31,36.13 408.59,36.59 408.87,37.04 409.16,37.49 409.44,37.95 409.72,38.40 410.01,38.85 410.29,40.60" fill="none" stroke="#000" stroke-width="3.6" stroke-linejoin="round" stroke-linecap="round"/>
<polyline points="411.71,52.27 411.99,54.25 412.28,56.24 412.56,58.22 412.84,60.21 413.13,62.19 413.41,64.18 413.69,66.16 413.98,67.64 414.26,69.11 414.55,70.58 414.83,72.05 415.11,73.53 415.40,74.82 415.68,74.91 415.96,72.78 416.25,70.65 416.53,68.53 416.81,66.40 417.10,64.27" fill="none" stroke="#000" stroke-width="3.6" stroke-linejoin="round" stroke-linecap="round"/>
<polyline points="419.65,41.47 419.93,39.72 420.22,37.98 420.50,36.23 420.78,34.77 421.07,34.00 421.35,33.23 421.63,32.45 421.92,31.95 422.20,31.83 422.48,31.72 422.77,31.60 423.05,31.48 423.33,31.37 423.62,31.33 423.90,31.41 424.19,31.48 424.47,31.56 424.75,31.63 425.04,31.70 425.32,31.78 425.60,31.85 425.89,31.93 426.17,32.00 426.45,32.08 426.74,32.15 427.02,32.23 427.30,32.30 427.59,32.10 427.87,31.91 428.16,31.72 428.44,31.52 428.72,31.33 429.01,31.14 429.29,30.94 429.57,30.75 429.86,30.56 430.14,30.36 430.42,30.17 430.71,29.98 430.99,29.78 431.27,29.59 431.56,29.40 431.84,29.22 432.12,29.06 432.41,28.90 432.69,28.74 432.98,28.58 433.26,28.41 433.54,28.25 433.83,28.09 434.11,27.93 434.39,27.77 434.68,27.61 434.96,27.45 435.24,27.29 435.53,27.13 435.81,26.96 436.09,26.80 436.38,26.89 436.66,26.98 436.95,27.07 437.23,27.16 437.51,27.24 437.80,27.33 438.08,27.42 438.36,27.51 438.65,27.60 438.93,27.69 439.21,27.78 439.50,27.87 439.78,27.96 440.06,28.05 440.35,28.14 440.63,28.23 440.91,28.32 441.20,28.41 441.48,28.49 441.77,28.35 442.05,28.19 442.33,28.02 442.62,27.86 442.90,27.70 443.18,27.53 443.47,27.37 443.75,27.21 444.03,27.05 444.32,26.88 444.60,26.72 444.88,26.56 445.17,26.40 445.45,26.23 445.74,26.07 446.02,25.91 446.30,25.74 446.59,25.58 446.87,25.42 447.15,25.26 447.44,25.09 447.72,25.07 448.00,25.25 448.29,25.43 448.57,25.60 448.85,25.78 449.14,25.95 449.42,26.13 449.70,26.31 449.99,26.48 450.27,26.66 450.56,26.85 450.84,27.13 451.12,27.41 451.41,27.69 451.69,27.96 451.97,28.24 452.26,28.52 452.54,28.79 452.82,29.07 453.11,29.35 453.39,29.63 453.67,29.90 453.96,30.18 454.24,30.46 454.52,30.73 454.81,31.01 455.09,31.02 455.38,30.90 455.66,30.78 455.94,30.66 456.23,30.54 456.51,30.42 456.79,30.30 457.08,30.19 457.36,30.07 457.64,29.95 457.93,29.83 458.21,29.71 458.49,29.59 458.78,29.47 459.06,29.35 459.35,29.23 459.63,29.11 459.91,29.00 460.20,29.12 460.48,29.23 460.76,29.35 461.05,29.46 461.33,29.57 461.61,29.69 461.90,29.80 462.18,29.91 462.46,30.03 462.75,30.14 463.03,30.25 463.31,30.37 463.60,30.48 463.88,30.59 464.17,30.71 464.45,30.82 464.73,30.93 465.02,31.05 465.30,31.16 465.58,31.27 465.87,31.39 466.15,31.21 466.43,31.00 466.72,30.79 467.00,30.57 467.28,30.36 467.57,30.15 467.85,29.94 468.14,29.72 468.42,29.51 468.70,29.30 468.99,29.09 469.27,28.87 469.55,28.66 469.84,28.45 470.12,28.24 470.40,28.02 470.69,27.81 470.97,27.60 471.25,27.38 471.54,27.17 471.82,26.96 472.10,27.06 472.39,27.29 472.67,27.52 472.96,27.74 473.24,27.97 473.52,28.20 473.81,28.42 474.09,28.65 474.37,28.88 474.66,29.11 474.94,29.33 475.22,29.56 475.51,29.79 475.79,30.01 476.07,30.24 476.36,30.47 476.64,30.69 476.92,30.92 477.21,31.15 477.49,31.26 477.78,31.13 478.06,31.00 478.34,30.87 478.63,30.74 478.91,30.61 479.19,30.48 479.48,30.36 479.76,30.23 480.04,30.10 480.33,29.97 480.61,29.84 480.89,30.17 481.18,30.71 481.46,31.25 481.75,31.80 482.03,32.34 482.31,32.88 482.60,33.42 482.88,33.96 483.16,35.42 483.45,36.94 483.73,38.47 484.01,40.00" fill="none" stroke="#000" stroke-width="3.6" stroke-linejoin="round" stroke-linecap="round"/>
<polyline points="486.85,66.24 487.13,68.11 487.42,69.97 487.70,71.84 487.98,73.19 488.27,73.89 488.55,73.08" fill="none" stroke="#000" stroke-width="3.6" stroke-linejoin="round" stroke-linecap="round"/>
<polyline points="491.95,43.42 492.24,41.67 492.52,40.08 492.80,38.49 493.09,36.90 493.37,35.59 493.65,35.16 493.94,34.73 494.22,34.30 494.50,33.87 494.79,33.44 495.07,33.01 495.36,32.58 495.64,32.15 495.92,31.72 496.21,31.72 496.49,31.89 496.77,32.06 497.06,32.23 497.34,32.40 497.62,32.57 497.91,32.74 498.19,32.91 498.47,33.08 498.76,33.25 499.04,33.42 499.33,33.60 499.61,33.77 499.89,33.94 500.18,34.11 500.46,34.28 500.74,34.45 501.03,34.62 501.31,34.79 501.59,34.86 501.88,34.75 502.16,34.64 502.44,34.52 502.73,34.41 503.01,34.30 503.29,34.18 503.58,34.07 503.86,33.96 504.15,33.84 504.43,33.73 504.71,33.62 505.00,33.50 505.28,33.39 505.56,33.27 505.85,33.16 506.13,33.05 506.41,32.93 506.70,32.82 506.98,32.71 507.26,32.59 507.55,32.52 507.83,32.66 508.11,32.80 508.40,32.93 508.68,33.07 508.97,33.20 509.25,33.34 509.53,33.48 509.82,33.61 510.10,33.75 510.38,33.88 510.67,34.02 510.95,34.16 511.23,34.29 511.52,34.43 511.80,34.56 512.08,34.70 512.37,34.84 512.65,34.83 512.94,34.70 513.22,34.57 513.50,34.43 513.79,34.30 514.07,34.17 514.35,34.04 514.64,33.91 514.92,33.78 515.20,33.64 515.49,33.51 515.77,33.38 516.05,33.25 516.34,33.12 516.62,32.98 516.90,32.85 517.19,32.72 517.47,32.59 517.76,32.46 518.04,32.33 518.32,32.19 518.61,32.06 518.89,31.93 519.17,31.80 519.46,31.67 519.74,31.67 520.02,31.81 520.31,31.95 520.59,32.10 520.87,32.24 521.16,32.38 521.44,32.52 521.73,32.66 522.01,32.81 522.29,33.04 522.58,33.26 522.86,33.49 523.14,33.72 523.43,33.95 523.71,34.18 523.99,34.40 524.28,34.63 524.56,34.86 524.84,35.09 525.13,35.32 525.41,35.55 525.69,35.77 525.98,36.00 526.26,35.99 526.55,35.80 526.83,35.61 527.11,35.43 527.40,35.24 527.68,35.05 527.96,34.86 528.25,34.67 528.53,34.48 528.81,34.29 529.10,34.10 529.38,33.91 529.66,33.72 529.95,33.53 530.23,33.35 530.51,33.16 530.80,32.97 531.08,33.11 531.37,33.44 531.65,33.77 531.93,34.10 532.22,34.43 532.50,34.75 532.78,35.08 533.07,35.41 533.35,35.74 533.63,36.07 533.92,36.40 534.20,36.73 534.48,37.05 534.77,37.38 535.05,37.71 535.34,38.04 535.62,38.33 535.90,38.62 536.19,38.91 536.47,39.20 536.75,39.49 537.04,39.78 537.32,40.07 537.60,40.37 537.89,40.66 538.17,40.95 538.45,41.24 538.74,41.53 539.02,41.80 539.30,41.76 539.59,41.72 539.87,41.69 540.16,41.65 540.44,41.61 540.72,41.57 541.01,41.54 541.29,41.50 541.57,41.46 541.86,41.42 542.14,41.39 542.42,41.35 542.71,41.31 542.99,41.44 543.27,41.66 543.56,41.87 543.84,42.08 544.13,42.29 544.41,42.51 544.69,42.72 544.98,42.93 545.26,43.14 545.54,43.36 545.83,43.57 546.11,43.78 546.39,44.00 546.68,44.21 546.96,44.42 547.24,44.63 547.53,44.84 547.81,45.05 548.09,45.25 548.38,45.46 548.66,45.67 548.95,45.88 549.23,46.08 549.51,46.29 549.80,46.50 550.08,46.38 550.36,46.26 550.65,46.14 550.93,46.02 551.21,45.90 551.50,45.78 551.78,45.66 552.06,45.54 552.35,45.42 552.63,45.67 552.92,46.01 553.20,46.34 553.48,46.68 553.77,47.01 554.05,47.35 554.33,47.68 554.62,48.08 554.90,49.42 555.18,50.76 555.47,52.10 555.75,53.46 556.03,54.95 556.32,56.43 556.60,57.91 556.88,59.40 557.17,61.35 557.45,63.61 557.74,65.88" fill="none" stroke="#000" stroke-width="3.6" stroke-linejoin="round" stroke-linecap="round"/>
<polyline points="560.85,92.82 561.14,91.70 561.42,89.45 561.70,87.20 561.99,84.95 562.27,82.70" fill="none" stroke="#000" stroke-width="3.6" stroke-linejoin="round" stroke-linecap="round"/>
<polyline points="565.11,53.30 565.39,51.61 565.67,51.33 565.96,51.04 566.24,50.76 566.53,50.47 566.81,50.19 567.09,49.91 567.38,49.62 567.66,49.34 567.94,49.06 568.23,48.77 568.51,48.87 568.79,49.09 569.08,49.31 569.36,49.54 569.64,49.76 569.93,49.98 570.21,50.21 570.49,50.43 570.78,50.65 571.06,50.88 571.35,51.10 571.63,51.32 571.91,51.55 572.20,51.77 572.48,52.00 572.76,52.22 573.05,52.44 573.33,52.67 573.61,52.72 573.90,52.53 574.18,52.34 574.46,52.15 574.75,51.96 575.03,51.76 575.32,51.57 575.60,51.38 575.88,51.19 576.17,51.00 576.45,50.81 576.73,50.61 577.02,50.42 577.30,50.23 577.58,50.04 577.87,49.85 578.15,49.66 578.43,49.46 578.72,49.27 579.00,49.08 579.28,48.89 579.57,48.70 579.85,48.51 580.14,48.31 580.42,48.12 580.70,48.01 580.99,48.02 581.27,48.04 581.55,48.06 581.84,48.07 582.12,48.09 582.40,48.11 582.69,48.13 582.97,48.14 583.25,48.16 583.54,48.18 583.82,48.20 584.10,48.28 584.39,48.39 584.67,48.50 584.96,48.61 585.24,48.72 585.52,48.83 585.81,48.94 586.09,49.05 586.37,49.16 586.66,49.27 586.94,49.37 587.22,49.48 587.51,49.59 587.79,49.70 588.07,49.81 588.36,49.88 588.64,49.79 588.93,49.70 589.21,49.61 589.49,49.52 589.78,49.43 590.06,49.34 590.34,49.25 590.63,49.16 590.91,49.07 591.19,48.98 591.48,48.89 591.76,48.80 592.04,48.71 592.33,48.62 592.61,48.53 592.89,48.53 593.18,48.58 593.46,48.62 593.75,48.67 594.03,48.71 594.31,48.76 594.60,48.80 594.88,48.85 595.16,48.89 595.45,48.94 595.73,48.98 596.01,49.03 596.30,49.08 596.58,49.12 596.86,49.17 597.15,49.21 597.43,49.26 597.72,49.30 598.00,49.23 598.28,49.15 598.57,49.08 598.85,49.01 599.13,48.94 599.42,48.87 599.70,48.80 599.98,48.73 600.27,48.66 600.55,48.59 600.83,48.52 601.12,48.45 601.40,48.37 601.68,48.30 601.97,48.23 602.25,48.16 602.54,48.09 602.82,48.02 603.10,47.94 603.39,47.87 603.67,47.80 603.95,47.72 604.24,47.65 604.52,47.58 604.80,47.51 605.09,47.43 605.37,47.36 605.65,47.29 605.94,47.22 606.22,47.08 606.51,46.92 606.79,46.76 607.07,46.60 607.36,46.44 607.64,46.28 607.92,46.12 608.21,45.96 608.49,45.80 608.77,45.64 609.06,45.48 609.34,45.48 609.62,45.65 609.91,45.82 610.19,45.98 610.47,46.15 610.76,46.32 611.04,46.49 611.33,46.65 611.61,46.82 611.89,46.99 612.18,47.16 612.46,47.32 612.74,47.49 613.03,47.66 613.31,47.85 613.59,48.05 613.88,48.25 614.16,48.45 614.44,48.65 614.73,48.85 615.01,49.05 615.29,49.25 615.58,49.45 615.86,49.65 616.15,49.85 616.43,50.05 616.71,50.26 617.00,50.46 617.28,50.76 617.56,51.33 617.85,51.89 618.13,52.46 618.41,53.03 618.70,53.59 618.98,54.16 619.26,54.73 619.55,55.30 619.83,55.86 620.12,56.67 620.40,57.82 620.68,58.97 620.97,60.12 621.25,61.28 621.53,62.43 621.82,64.14 622.10,66.03 622.38,67.92" fill="none" stroke="#000" stroke-width="3.6" stroke-linejoin="round" stroke-linecap="round"/>
<polyline points="52.74,351.97 53.03,351.80 53.31,351.62 53.59,351.29 53.88,350.66 54.16,350.03 54.44,349.26 54.73,347.66 55.01,346.07" fill="none" stroke="#000" stroke-width="3.3" stroke-linejoin="round" stroke-linecap="round"/>
<polyline points="63.23,239.48 63.52,237.51 63.80,235.55 64.08,233.58 64.37,231.61 64.65,229.65 64.93,227.68 65.22,225.72 65.50,223.75 65.78,221.79 66.07,219.82 66.35,217.87 66.64,215.92 66.92,213.98 67.20,212.03 67.49,210.08 67.77,208.50 68.05,207.16 68.34,205.82 68.62,204.48 68.90,203.14 69.19,201.80 69.47,200.46 69.75,199.12 70.04,198.20 70.32,197.36 70.61,196.52 70.89,195.68 71.17,194.84 71.46,194.00 71.74,193.16 72.02,192.32 72.31,191.48 72.59,190.38 72.87,189.28 73.16,188.19 73.44,187.09 73.72,185.99 74.01,185.01 74.29,184.08 74.57,183.14 74.86,182.20 75.14,181.26 75.43,180.32 75.71,179.39 75.99,178.45 76.28,177.51 76.56,176.59 76.84,175.67 77.13,174.76 77.41,173.85 77.69,172.94 77.98,172.03 78.26,171.11 78.54,170.20 78.83,169.42 79.11,168.79 79.39,168.16 79.68,167.53 79.96,166.90 80.25,166.27 80.53,165.64 80.81,165.02 81.10,164.24 81.38,163.18 81.66,162.12 81.95,161.06 82.23,160.01 82.51,158.96 82.80,158.18 83.08,157.40 83.36,156.62 83.65,155.84 83.93,155.06 84.22,154.28 84.50,153.50 84.78,152.86 85.07,152.23 85.35,151.59 85.63,150.95 85.92,150.31 86.20,149.67 86.48,149.04 86.77,148.44 87.05,147.85 87.33,147.25 87.62,146.66 87.90,146.06 88.18,145.47 88.47,144.88 88.75,144.25 89.04,143.61 89.32,142.96 89.60,142.32 89.89,141.67 90.17,141.02 90.45,140.44 90.74,140.14 91.02,139.85 91.30,139.55 91.59,139.25 91.87,138.95 92.15,138.65 92.44,137.99 92.72,137.27 93.01,136.55 93.29,135.83 93.57,135.46 93.86,135.11 94.14,134.75 94.42,134.40 94.71,134.04 94.99,133.69 95.27,133.33 95.56,132.98 95.84,132.63 96.12,132.29 96.41,131.94 96.69,131.60 96.97,131.26 97.26,130.92 97.54,130.57 97.83,130.23 98.11,129.88 98.39,129.29 98.68,128.69 98.96,128.09 99.24,127.50 99.53,126.90 99.81,126.31 100.09,125.71 100.38,125.08 100.66,124.44 100.94,123.81 101.23,123.18 101.51,122.54 101.80,121.91 102.08,121.27 102.36,120.68 102.65,120.11 102.93,119.54 103.21,118.97 103.50,118.41 103.78,117.76 104.06,116.89 104.35,116.03 104.63,115.16 104.91,114.30 105.20,113.43 105.48,112.57 105.76,111.72 106.05,110.93 106.33,110.14 106.62,109.35 106.90,108.56 107.18,107.78 107.47,106.99 107.75,106.20 108.03,105.46 108.32,105.07 108.60,104.69 108.88,104.31 109.17,103.93 109.45,103.55 109.73,103.17 110.02,102.79 110.30,102.41 110.58,102.03 110.87,101.65 111.15,101.27 111.44,100.89 111.72,100.63 112.00,100.41 112.29,100.20" fill="none" stroke="#000" stroke-width="3.3" stroke-linejoin="round" stroke-linecap="round"/>
<polyline points="121.64,101.10 121.93,102.35 122.21,103.60 122.49,105.29 122.78,107.18 123.06,109.07 123.34,110.96 123.63,113.00 123.91,115.20" fill="none" stroke="#000" stroke-width="3.3" stroke-linejoin="round" stroke-linecap="round"/>
<polyline points="632.87,229.33 633.16,230.70" fill="none" stroke="#000" stroke-width="3.3" stroke-linejoin="round" stroke-linecap="round"/>
<path d="M50.74 351.97h4.00M52.74 349.27v5.40M51.03 351.80h4.00M53.03 349.10v5.40M51.31 351.62h4.00M53.31 348.92v5.40M51.59 351.29h4.00M53.59 348.59v5.40M51.88 350.66h4.00M53.88 347.96v5.40M52.16 350.03h4.00M54.16 347.33v5.40M52.44 349.26h4.00M54.44 346.56v5.40M52.73 347.66h4.00M54.73 344.96v5.40M53.01 346.07h4.00M55.01 343.37v5.40M61.23 239.48h4.00M63.23 236.78v5.40M61.52 237.51h4.00M63.52 234.81v5.40M61.80 235.55h4.00M63.80 232.85v5.40M62.08 233.58h4.00M64.08 230.88v5.40M62.37 231.61h4.00M64.37 228.91v5.40M62.65 229.65h4.00M64.65 226.95v5.40M62.93 227.68h4.00M64.93 224.98v5.40M63.22 225.72h4.00M65.22 223.02v5.40M63.50 223.75h4.00M65.50 221.05v5.40M63.78 221.79h4.00M65.78 219.09v5.40M64.07 219.82h4.00M66.07 217.12v5.40M64.35 217.87h4.00M66.35 215.17v5.40M64.64 215.92h4.00M66.64 213.22v5.40M64.92 213.98h4.00M66.92 211.28v5.40M65.20 212.03h4.00M67.20 209.33v5.40M65.49 210.08h4.00M67.49 207.38v5.40M65.77 208.50h4.00M67.77 205.80v5.40M66.05 207.16h4.00M68.05 204.46v5.40M66.34 205.82h4.00M68.34 203.12v5.40M66.62 204.48h4.00M68.62 201.78v5.40M66.90 203.14h4.00M68.90 200.44v5.40M67.19 201.80h4.00M69.19 199.10v5.40M67.47 200.46h4.00M69.47 197.76v5.40M67.75 199.12h4.00M69.75 196.42v5.40M68.04 198.20h4.00M70.04 195.50v5.40M68.32 197.36h4.00M70.32 194.66v5.40M68.61 196.52h4.00M70.61 193.82v5.40M68.89 195.68h4.00M70.89 192.98v5.40M69.17 194.84h4.00M71.17 192.14v5.40M69.46 194.00h4.00M71.46 191.30v5.40M69.74 193.16h4.00M71.74 190.46v5.40M70.02 192.32h4.00M72.02 189.62v5.40M70.31 191.48h4.00M72.31 188.78v5.40M70.59 190.38h4.00M72.59 187.68v5.40M70.87 189.28h4.00M72.87 186.58v5.40M71.16 188.19h4.00M73.16 185.49v5.40M71.44 187.09h4.00M73.44 184.39v5.40M71.72 185.99h4.00M73.72 183.29v5.40M72.01 185.01h4.00M74.01 182.31v5.40M72.29 184.08h4.00M74.29 181.38v5.40M72.57 183.14h4.00M74.57 180.44v5.40M72.86 182.20h4.00M74.86 179.50v5.40M73.14 181.26h4.00M75.14 178.56v5.40M73.43 180.32h4.00M75.43 177.62v5.40M73.71 179.39h4.00M75.71 176.69v5.40M73.99 178.45h4.00M75.99 175.75v5.40M74.28 177.51h4.00M76.28 174.81v5.40M74.56 176.59h4.00M76.56 173.89v5.40M74.84 175.67h4.00M76.84 172.97v5.40M75.13 174.76h4.00M77.13 172.06v5.40M75.41 173.85h4.00M77.41 171.15v5.40M75.69 172.94h4.00M77.69 170.24v5.40M75.98 172.03h4.00M77.98 169.33v5.40M76.26 171.11h4.00M78.26 168.41v5.40M76.54 170.20h4.00M78.54 167.50v5.40M76.83 169.42h4.00M78.83 166.72v5.40M77.11 168.79h4.00M79.11 166.09v5.40M77.39 168.16h4.00M79.39 165.46v5.40M77.68 167.53h4.00M79.68 164.83v5.40M77.96 166.90h4.00M79.96 164.20v5.40M78.25 166.27h4.00M80.25 163.57v5.40M78.53 165.64h4.00M80.53 162.94v5.40M78.81 165.02h4.00M80.81 162.32v5.40M79.10 164.24h4.00M81.10 161.54v5.40M79.38 163.18h4.00M81.38 160.48v5.40M79.66 162.12h4.00M81.66 159.42v5.40M79.95 161.06h4.00M81.95 158.36v5.40M80.23 160.01h4.00M82.23 157.31v5.40M80.51 158.96h4.00M82.51 156.26v5.40M80.80 158.18h4.00M82.80 155.48v5.40M81.08 157.40h4.00M83.08 154.70v5.40M81.36 156.62h4.00M83.36 153.92v5.40M81.65 155.84h4.00M83.65 153.14v5.40M81.93 155.06h4.00M83.93 152.36v5.40M82.22 154.28h4.00M84.22 151.58v5.40M82.50 153.50h4.00M84.50 150.80v5.40M82.78 152.86h4.00M84.78 150.16v5.40M83.07 152.23h4.00M85.07 149.53v5.40M83.35 151.59h4.00M85.35 148.89v5.40M83.63 150.95h4.00M85.63 148.25v5.40M83.92 150.31h4.00M85.92 147.61v5.40M84.20 149.67h4.00M86.20 146.97v5.40M84.48 149.04h4.00M86.48 146.34v5.40M84.77 148.44h4.00M86.77 145.74v5.40M85.05 147.85h4.00M87.05 145.15v5.40M85.33 147.25h4.00M87.33 144.55v5.40M85.62 146.66h4.00M87.62 143.96v5.40M85.90 146.06h4.00M87.90 143.36v5.40M86.18 145.47h4.00M88.18 142.77v5.40M86.47 144.88h4.00M88.47 142.18v5.40M86.75 144.25h4.00M88.75 141.55v5.40M87.04 143.61h4.00M89.04 140.91v5.40M87.32 142.96h4.00M89.32 140.26v5.40M87.60 142.32h4.00M89.60 139.62v5.40M87.89 141.67h4.00M89.89 138.97v5.40M88.17 141.02h4.00M90.17 138.32v5.40M88.45 140.44h4.00M90.45 137.74v5.40M88.74 140.14h4.00M90.74 137.44v5.40M89.02 139.85h4.00M91.02 137.15v5.40M89.30 139.55h4.00M91.30 136.85v5.40M89.59 139.25h4.00M91.59 136.55v5.40M89.87 138.95h4.00M91.87 136.25v5.40M90.15 138.65h4.00M92.15 135.95v5.40M90.44 137.99h4.00M92.44 135.29v5.40M90.72 137.27h4.00M92.72 134.57v5.40M91.01 136.55h4.00M93.01 133.85v5.40M91.29 135.83h4.00M93.29 133.13v5.40M91.57 135.46h4.00M93.57 132.76v5.40M91.86 135.11h4.00M93.86 132.41v5.40M92.14 134.75h4.00M94.14 132.05v5.40M92.42 134.40h4.00M94.42 131.70v5.40M92.71 134.04h4.00M94.71 131.34v5.40M92.99 133.69h4.00M94.99 130.99v5.40M93.27 133.33h4.00M95.27 130.63v5.40M93.56 132.98h4.00M95.56 130.28v5.40M93.84 132.63h4.00M95.84 129.93v5.40M94.12 132.29h4.00M96.12 129.59v5.40M94.41 131.94h4.00M96.41 129.24v5.40M94.69 131.60h4.00M96.69 128.90v5.40M94.97 131.26h4.00M96.97 128.56v5.40M95.26 130.92h4.00M97.26 128.22v5.40M95.54 130.57h4.00M97.54 127.87v5.40M95.83 130.23h4.00M97.83 127.53v5.40M96.11 129.88h4.00M98.11 127.18v5.40M96.39 129.29h4.00M98.39 126.59v5.40M96.68 128.69h4.00M98.68 125.99v5.40M96.96 128.09h4.00M98.96 125.39v5.40M97.24 127.50h4.00M99.24 124.80v5.40M97.53 126.90h4.00M99.53 124.20v5.40M97.81 126.31h4.00M99.81 123.61v5.40M98.09 125.71h4.00M100.09 123.01v5.40M98.38 125.08h4.00M100.38 122.38v5.40M98.66 124.44h4.00M100.66 121.74v5.40M98.94 123.81h4.00M100.94 121.11v5.40M99.23 123.18h4.00M101.23 120.48v5.40M99.51 122.54h4.00M101.51 119.84v5.40M99.80 121.91h4.00M101.80 119.21v5.40M100.08 121.27h4.00M102.08 118.57v5.40M100.36 120.68h4.00M102.36 117.98v5.40M100.65 120.11h4.00M102.65 117.41v5.40M100.93 119.54h4.00M102.93 116.84v5.40M101.21 118.97h4.00M103.21 116.27v5.40M101.50 118.41h4.00M103.50 115.71v5.40M101.78 117.76h4.00M103.78 115.06v5.40M102.06 116.89h4.00M104.06 114.19v5.40M102.35 116.03h4.00M104.35 113.33v5.40M102.63 115.16h4.00M104.63 112.46v5.40M102.91 114.30h4.00M104.91 111.60v5.40M103.20 113.43h4.00M105.20 110.73v5.40M103.48 112.57h4.00M105.48 109.87v5.40M103.76 111.72h4.00M105.76 109.02v5.40M104.05 110.93h4.00M106.05 108.23v5.40M104.33 110.14h4.00M106.33 107.44v5.40M104.62 109.35h4.00M106.62 106.65v5.40M104.90 108.56h4.00M106.90 105.86v5.40M105.18 107.78h4.00M107.18 105.08v5.40M105.47 106.99h4.00M107.47 104.29v5.40M105.75 106.20h4.00M107.75 103.50v5.40M106.03 105.46h4.00M108.03 102.76v5.40M106.32 105.07h4.00M108.32 102.37v5.40M106.60 104.69h4.00M108.60 101.99v5.40M106.88 104.31h4.00M108.88 101.61v5.40M107.17 103.93h4.00M109.17 101.23v5.40M107.45 103.55h4.00M109.45 100.85v5.40M107.73 103.17h4.00M109.73 100.47v5.40M108.02 102.79h4.00M110.02 100.09v5.40M108.30 102.41h4.00M110.30 99.71v5.40M108.58 102.03h4.00M110.58 99.33v5.40M108.87 101.65h4.00M110.87 98.95v5.40M109.15 101.27h4.00M111.15 98.57v5.40M109.44 100.89h4.00M111.44 98.19v5.40M109.72 100.63h4.00M111.72 97.93v5.40M110.00 100.41h4.00M112.00 97.71v5.40M110.29 100.20h4.00M112.29 97.50v5.40M110.57 99.98h4.00M112.57 97.28v5.40M110.85 99.76h4.00M112.85 97.06v5.40M111.14 99.55h4.00M113.14 96.85v5.40M111.42 99.33h4.00M113.42 96.63v5.40M111.70 99.11h4.00M113.70 96.41v5.40M111.99 98.89h4.00M113.99 96.19v5.40M112.27 98.68h4.00M114.27 95.98v5.40M112.55 98.45h4.00M114.55 95.75v5.40M112.84 98.22h4.00M114.84 95.52v5.40M113.12 97.98h4.00M115.12 95.28v5.40M113.41 97.75h4.00M115.41 95.05v5.40M113.69 97.51h4.00M115.69 94.81v5.40M113.97 97.27h4.00M115.97 94.57v5.40M114.26 97.04h4.00M116.26 94.34v5.40M114.54 96.61h4.00M116.54 93.91v5.40M114.82 96.15h4.00M116.82 93.45v5.40M115.11 95.69h4.00M117.11 92.99v5.40M115.39 95.24h4.00M117.39 92.54v5.40M115.67 94.78h4.00M117.67 92.08v5.40M115.96 94.32h4.00M117.96 91.62v5.40M116.24 93.86h4.00M118.24 91.16v5.40M116.52 93.76h4.00M118.52 91.06v5.40M116.81 94.14h4.00M118.81 91.44v5.40M117.09 94.51h4.00M119.09 91.81v5.40M117.37 94.89h4.00M119.37 92.19v5.40M117.66 95.26h4.00M119.66 92.56v5.40M117.94 95.63h4.00M119.94 92.93v5.40M118.23 96.01h4.00M120.23 93.31v5.40M118.51 96.38h4.00M120.51 93.68v5.40M118.79 97.35h4.00M120.79 94.65v5.40M119.08 98.60h4.00M121.08 95.90v5.40M119.36 99.85h4.00M121.36 97.15v5.40M119.64 101.10h4.00M121.64 98.40v5.40M119.93 102.35h4.00M121.93 99.65v5.40M120.21 103.60h4.00M122.21 100.90v5.40M120.49 105.29h4.00M122.49 102.59v5.40M120.78 107.18h4.00M122.78 104.48v5.40M121.06 109.07h4.00M123.06 106.37v5.40M121.34 110.96h4.00M123.34 108.26v5.40M121.63 113.00h4.00M123.63 110.30v5.40M121.91 115.20h4.00M123.91 112.50v5.40M123.33 134.86h4.00M125.33 132.16v5.40M124.18 125.15h4.00M126.18 122.45v5.40M126.13 99.81h5.20M128.73 97.11v5.40M126.27 98.54h5.20M126.42 97.26h5.20M129.02 94.56v5.40M126.56 95.99h5.20M126.70 94.71h5.20M129.30 92.01v5.40M126.84 93.43h5.20M127.58 92.16h4.00M129.58 89.46v5.40M127.87 90.56h4.00M129.87 87.86v5.40M128.15 89.03h4.00M130.15 86.33v5.40M128.43 87.50h4.00M130.43 84.80v5.40M128.72 86.29h4.00M130.72 83.59v5.40M129.00 85.52h4.00M131.00 82.82v5.40M129.28 84.76h4.00M131.28 82.06v5.40M129.57 84.00h4.00M131.57 81.30v5.40M129.85 83.23h4.00M131.85 80.53v5.40M130.13 82.78h4.00M132.13 80.08v5.40M130.42 82.40h4.00M132.42 79.70v5.40M130.70 82.01h4.00M132.70 79.31v5.40M130.98 81.62h4.00M132.98 78.92v5.40M131.27 81.24h4.00M133.27 78.54v5.40M131.55 80.85h4.00M133.55 78.15v5.40M131.84 80.47h4.00M133.84 77.77v5.40M132.12 80.08h4.00M134.12 77.38v5.40M132.40 79.70h4.00M134.40 77.00v5.40M132.69 79.45h4.00M134.69 76.75v5.40M132.97 79.21h4.00M134.97 76.51v5.40M133.25 78.96h4.00M135.25 76.26v5.40M133.54 78.72h4.00M135.54 76.02v5.40M133.82 78.48h4.00M135.82 75.78v5.40M134.10 78.23h4.00M136.10 75.53v5.40M134.39 77.99h4.00M136.39 75.29v5.40M134.67 77.74h4.00M136.67 75.04v5.40M134.95 77.50h4.00M136.95 74.80v5.40M135.24 77.25h4.00M137.24 74.55v5.40M135.52 77.01h4.00M137.52 74.31v5.40M135.81 76.76h4.00M137.81 74.06v5.40M136.09 76.51h4.00M138.09 73.81v5.40M136.37 76.27h4.00M138.37 73.57v5.40M136.66 76.02h4.00M138.66 73.32v5.40M136.94 75.77h4.00M138.94 73.07v5.40M137.22 75.53h4.00M139.22 72.83v5.40M137.51 75.28h4.00M139.51 72.58v5.40M137.79 75.41h4.00M139.79 72.71v5.40M138.07 75.73h4.00M140.07 73.03v5.40M138.36 76.04h4.00M140.36 73.34v5.40M138.64 76.36h4.00M140.64 73.66v5.40M138.92 76.67h4.00M140.92 73.97v5.40M139.21 76.99h4.00M141.21 74.29v5.40M139.49 77.30h4.00M141.49 74.60v5.40M139.77 77.62h4.00M141.77 74.92v5.40M140.06 77.93h4.00M142.06 75.23v5.40M140.34 78.17h4.00M142.34 75.47v5.40M140.63 77.98h4.00M142.63 75.28v5.40M140.91 77.78h4.00M142.91 75.08v5.40M141.19 77.58h4.00M143.19 74.88v5.40M141.48 77.39h4.00M143.48 74.69v5.40M141.76 77.19h4.00M143.76 74.49v5.40M142.04 77.00h4.00M144.04 74.30v5.40M142.33 76.80h4.00M144.33 74.10v5.40M142.61 76.61h4.00M144.61 73.91v5.40M142.89 76.41h4.00M144.89 73.71v5.40M143.18 76.22h4.00M145.18 73.52v5.40M143.46 75.76h4.00M145.46 73.06v5.40M143.74 75.27h4.00M145.74 72.57v5.40M144.03 74.79h4.00M146.03 72.09v5.40M144.31 74.31h4.00M146.31 71.61v5.40M144.60 73.83h4.00M146.60 71.13v5.40M144.88 73.35h4.00M146.88 70.65v5.40M145.16 72.86h4.00M147.16 70.16v5.40M145.45 71.98h4.00M147.45 69.28v5.40M145.73 71.04h4.00M147.73 68.34v5.40M146.01 70.09h4.00M148.01 67.39v5.40M146.30 69.15h4.00M148.30 66.45v5.40M146.58 68.20h4.00M148.58 65.50v5.40M146.86 67.44h4.00M148.86 64.74v5.40M147.15 66.82h4.00M149.15 64.12v5.40M147.43 66.19h4.00M149.43 63.49v5.40M147.71 65.57h4.00M149.71 62.87v5.40M148.00 64.95h4.00M150.00 62.25v5.40M148.28 64.32h4.00M150.28 61.62v5.40M148.56 63.70h4.00M150.56 61.00v5.40M148.85 63.21h4.00M150.85 60.51v5.40M149.13 62.85h4.00M151.13 60.15v5.40M149.42 62.50h4.00M151.42 59.80v5.40M149.70 62.14h4.00M151.70 59.44v5.40M149.98 61.78h4.00M151.98 59.08v5.40M150.27 61.42h4.00M152.27 58.72v5.40M150.55 61.06h4.00M152.55 58.36v5.40M150.83 60.86h4.00M152.83 58.16v5.40M151.12 60.69h4.00M153.12 57.99v5.40M151.40 60.51h4.00M153.40 57.81v5.40M151.68 60.34h4.00M153.68 57.64v5.40M151.97 60.17h4.00M153.97 57.47v5.40M152.25 60.00h4.00M154.25 57.30v5.40M152.53 59.82h4.00M154.53 57.12v5.40M152.82 59.65h4.00M154.82 56.95v5.40M153.10 59.58h4.00M155.10 56.88v5.40M153.39 59.56h4.00M155.39 56.86v5.40M153.67 59.54h4.00M155.67 56.84v5.40M153.95 59.51h4.00M155.95 56.81v5.40M154.24 59.49h4.00M156.24 56.79v5.40M154.52 59.47h4.00M156.52 56.77v5.40M154.80 59.44h4.00M156.80 56.74v5.40M155.09 59.42h4.00M157.09 56.72v5.40M155.37 59.40h4.00M157.37 56.70v5.40M155.65 59.37h4.00M157.65 56.67v5.40M155.94 59.35h4.00M157.94 56.65v5.40M156.22 59.33h4.00M158.22 56.63v5.40M156.50 59.30h4.00M158.50 56.60v5.40M156.79 59.28h4.00M158.79 56.58v5.40M157.07 59.26h4.00M159.07 56.56v5.40M157.35 59.23h4.00M159.35 56.53v5.40M157.64 59.21h4.00M159.64 56.51v5.40M157.92 59.19h4.00M159.92 56.49v5.40M158.21 59.17h4.00M160.21 56.47v5.40M158.49 59.14h4.00M160.49 56.44v5.40M158.77 59.12h4.00M160.77 56.42v5.40M159.06 59.13h4.00M161.06 56.43v5.40M159.34 59.28h4.00M161.34 56.58v5.40M159.62 59.43h4.00M161.62 56.73v5.40M159.91 59.58h4.00M161.91 56.88v5.40M160.19 59.74h4.00M162.19 57.04v5.40M160.47 59.89h4.00M162.47 57.19v5.40M160.76 60.04h4.00M162.76 57.34v5.40M161.04 60.19h4.00M163.04 57.49v5.40M161.32 60.34h4.00M163.32 57.64v5.40M161.61 60.49h4.00M163.61 57.79v5.40M161.89 60.65h4.00M163.89 57.95v5.40M162.17 60.80h4.00M164.17 58.10v5.40M162.46 60.95h4.00M164.46 58.25v5.40M162.74 61.10h4.00M164.74 58.40v5.40M163.03 61.25h4.00M165.03 58.55v5.40M163.31 61.40h4.00M165.31 58.70v5.40M163.59 61.46h4.00M165.59 58.76v5.40M163.88 61.52h4.00M165.88 58.82v5.40M164.16 61.58h4.00M166.16 58.88v5.40M164.44 61.64h4.00M166.44 58.94v5.40M164.73 61.70h4.00M166.73 59.00v5.40M165.01 61.76h4.00M167.01 59.06v5.40M165.29 61.82h4.00M167.29 59.12v5.40M165.58 61.88h4.00M167.58 59.18v5.40M165.86 61.94h4.00M167.86 59.24v5.40M166.14 62.00h4.00M168.14 59.30v5.40M166.43 62.06h4.00M168.43 59.36v5.40M166.71 62.08h4.00M168.71 59.38v5.40M167.00 62.04h4.00M169.00 59.34v5.40M167.28 61.99h4.00M169.28 59.29v5.40M167.56 61.95h4.00M169.56 59.25v5.40M167.85 61.90h4.00M169.85 59.20v5.40M168.13 61.86h4.00M170.13 59.16v5.40M168.41 61.81h4.00M170.41 59.11v5.40M168.70 61.77h4.00M170.70 59.07v5.40M168.98 61.72h4.00M170.98 59.02v5.40M169.26 61.68h4.00M171.26 58.98v5.40M169.55 61.63h4.00M171.55 58.93v5.40M169.83 61.59h4.00M171.83 58.89v5.40M170.11 61.54h4.00M172.11 58.84v5.40M170.40 61.50h4.00M172.40 58.80v5.40M170.68 61.45h4.00M172.68 58.75v5.40M170.96 61.41h4.00M172.96 58.71v5.40M171.25 61.42h4.00M173.25 58.72v5.40M171.53 61.44h4.00M173.53 58.74v5.40M171.82 61.46h4.00M173.82 58.76v5.40M172.10 61.48h4.00M174.10 58.78v5.40M172.38 61.51h4.00M174.38 58.81v5.40M172.67 61.53h4.00M174.67 58.83v5.40M172.95 61.55h4.00M174.95 58.85v5.40M173.23 61.57h4.00M175.23 58.87v5.40M173.52 61.59h4.00M175.52 58.89v5.40M173.80 61.62h4.00M175.80 58.92v5.40M174.08 61.64h4.00M176.08 58.94v5.40M174.37 61.66h4.00M176.37 58.96v5.40M174.65 61.68h4.00M176.65 58.98v5.40M174.93 61.70h4.00M176.93 59.00v5.40M175.22 61.72h4.00M177.22 59.02v5.40M175.50 61.75h4.00M177.50 59.05v5.40M175.79 61.77h4.00M177.79 59.07v5.40M176.07 61.79h4.00M178.07 59.09v5.40M176.35 61.74h4.00M178.35 59.04v5.40M176.64 61.62h4.00M178.64 58.92v5.40M176.92 61.50h4.00M178.92 58.80v5.40M177.20 61.38h4.00M179.20 58.68v5.40M177.49 61.26h4.00M179.49 58.56v5.40M177.77 61.15h4.00M179.77 58.45v5.40M178.05 61.03h4.00M180.05 58.33v5.40M178.34 60.91h4.00M180.34 58.21v5.40M178.62 60.79h4.00M180.62 58.09v5.40M178.90 60.67h4.00M180.90 57.97v5.40M179.19 60.56h4.00M181.19 57.86v5.40M179.47 60.44h4.00M181.47 57.74v5.40M179.75 60.32h4.00M181.75 57.62v5.40M180.04 60.20h4.00M182.04 57.50v5.40M180.32 60.08h4.00M182.32 57.38v5.40M180.61 59.96h4.00M182.61 57.26v5.40M180.89 59.85h4.00M182.89 57.15v5.40M181.17 59.73h4.00M183.17 57.03v5.40M181.46 59.61h4.00M183.46 56.91v5.40M181.74 59.49h4.00M183.74 56.79v5.40M182.02 59.37h4.00M184.02 56.67v5.40M182.31 59.30h4.00M184.31 56.60v5.40M182.59 59.29h4.00M184.59 56.59v5.40M182.87 59.28h4.00M184.87 56.58v5.40M183.16 59.28h4.00M185.16 56.58v5.40M183.44 59.27h4.00M185.44 56.57v5.40M183.72 59.26h4.00M185.72 56.56v5.40M184.01 59.26h4.00M186.01 56.56v5.40M184.29 59.25h4.00M186.29 56.55v5.40M184.57 59.24h4.00M186.57 56.54v5.40M184.86 59.24h4.00M186.86 56.54v5.40M185.14 59.23h4.00M187.14 56.53v5.40M185.43 59.22h4.00M187.43 56.52v5.40M185.71 59.22h4.00M187.71 56.52v5.40M185.99 59.21h4.00M187.99 56.51v5.40M186.28 59.21h4.00M188.28 56.51v5.40M186.56 59.24h4.00M188.56 56.54v5.40M186.84 59.42h4.00M188.84 56.72v5.40M187.13 59.61h4.00M189.13 56.91v5.40M187.41 59.79h4.00M189.41 57.09v5.40M187.69 59.98h4.00M189.69 57.28v5.40M187.98 60.16h4.00M189.98 57.46v5.40M188.26 60.34h4.00M190.26 57.64v5.40M188.54 60.59h4.00M190.54 57.89v5.40M188.83 61.13h4.00M190.83 58.43v5.40M189.11 61.68h4.00M191.11 58.98v5.40M189.40 62.22h4.00M191.40 59.52v5.40M189.68 62.77h4.00M191.68 60.07v5.40M189.96 63.68h4.00M191.96 60.98v5.40M190.25 64.86h4.00M192.25 62.16v5.40M190.53 66.04h4.00M192.53 63.34v5.40M190.81 67.22h4.00M192.81 64.52v5.40M191.10 68.64h4.00M193.10 65.94v5.40M191.38 70.53h4.00M193.38 67.83v5.40M191.66 72.42h4.00M193.66 69.72v5.40M191.95 74.31h4.00M193.95 71.61v5.40M192.23 76.22h4.00M194.23 73.52v5.40M192.51 78.24h4.00M194.51 75.54v5.40M192.80 80.27h4.00M194.80 77.57v5.40M193.08 82.30h4.00M195.08 79.60v5.40M193.36 84.32h4.00M195.36 81.62v5.40M193.65 86.21h4.00M195.65 83.51v5.40M193.93 87.45h4.00M195.93 84.75v5.40M194.22 88.69h4.00M196.22 85.99v5.40M194.50 89.93h4.00M196.50 87.23v5.40M194.78 91.17h4.00M196.78 88.47v5.40M195.07 92.41h4.00M197.07 89.71v5.40M195.35 93.75h4.00M197.35 91.05v5.40M195.63 95.17h4.00M197.63 92.47v5.40M195.92 93.82h4.00M197.92 91.12v5.40M196.20 91.63h4.00M198.20 88.93v5.40M196.48 89.44h4.00M198.48 86.74v5.40M196.17 87.25h5.20M198.77 84.55v5.40M196.31 85.96h5.20M196.45 84.66h5.20M199.05 81.96v5.40M196.59 83.34h5.20M196.73 82.02h5.20M199.33 79.32v5.40M196.88 80.70h5.20M197.02 79.38h5.20M199.62 76.68v5.40M197.16 78.06h5.20M197.30 76.74h5.20M199.90 74.04v5.40M197.44 75.42h5.20M197.59 74.10h5.20M200.19 71.40v5.40M198.47 71.67h4.00M200.47 68.97v5.40M198.75 69.88h4.00M200.75 67.18v5.40M199.04 68.09h4.00M201.04 65.39v5.40M199.32 66.30h4.00M201.32 63.60v5.40M199.60 64.51h4.00M201.60 61.81v5.40M199.89 62.72h4.00M201.89 60.02v5.40M200.17 61.47h4.00M202.17 58.77v5.40M200.45 60.58h4.00M202.45 57.88v5.40M200.74 59.70h4.00M202.74 57.00v5.40M201.02 58.81h4.00M203.02 56.11v5.40M201.30 57.92h4.00M203.30 55.22v5.40M201.59 57.04h4.00M203.59 54.34v5.40M201.87 56.66h4.00M203.87 53.96v5.40M202.15 56.31h4.00M204.15 53.61v5.40M202.44 55.95h4.00M204.44 53.25v5.40M202.72 55.60h4.00M204.72 52.90v5.40M203.01 55.24h4.00M205.01 52.54v5.40M203.29 54.97h4.00M205.29 52.27v5.40M203.57 54.88h4.00M205.57 52.18v5.40M203.86 54.79h4.00M205.86 52.09v5.40M204.14 54.70h4.00M206.14 52.00v5.40M204.42 54.61h4.00M206.42 51.91v5.40M204.71 54.52h4.00M206.71 51.82v5.40M204.99 54.43h4.00M206.99 51.73v5.40M205.27 54.44h4.00M207.27 51.74v5.40M205.56 54.51h4.00M207.56 51.81v5.40M205.84 54.58h4.00M207.84 51.88v5.40M206.12 54.65h4.00M208.12 51.95v5.40M206.41 54.71h4.00M208.41 52.01v5.40M206.69 54.78h4.00M208.69 52.08v5.40M206.98 54.85h4.00M208.98 52.15v5.40M207.26 54.92h4.00M209.26 52.22v5.40M207.54 54.98h4.00M209.54 52.28v5.40M207.83 55.05h4.00M209.83 52.35v5.40M208.11 55.12h4.00M210.11 52.42v5.40M208.39 55.19h4.00M210.39 52.49v5.40M208.68 55.26h4.00M210.68 52.56v5.40M208.96 55.32h4.00M210.96 52.62v5.40M209.24 55.39h4.00M211.24 52.69v5.40M209.53 55.46h4.00M211.53 52.76v5.40M209.81 55.53h4.00M211.81 52.83v5.40M210.09 55.60h4.00M212.09 52.90v5.40M210.38 55.66h4.00M212.38 52.96v5.40M210.66 55.73h4.00M212.66 53.03v5.40M210.94 55.80h4.00M212.94 53.10v5.40M211.23 55.87h4.00M213.23 53.17v5.40M211.51 55.94h4.00M213.51 53.24v5.40M211.80 56.00h4.00M213.80 53.30v5.40M212.08 56.07h4.00M214.08 53.37v5.40M212.36 56.08h4.00M214.36 53.38v5.40M212.65 56.05h4.00M214.65 53.35v5.40M212.93 56.01h4.00M214.93 53.31v5.40M213.21 55.98h4.00M215.21 53.28v5.40M213.50 55.94h4.00M215.50 53.24v5.40M213.78 55.91h4.00M215.78 53.21v5.40M214.06 55.87h4.00M216.06 53.17v5.40M214.35 55.84h4.00M216.35 53.14v5.40M214.63 55.81h4.00M216.63 53.11v5.40M214.91 55.77h4.00M216.91 53.07v5.40M215.20 55.74h4.00M217.20 53.04v5.40M215.48 55.70h4.00M217.48 53.00v5.40M215.76 55.67h4.00M217.76 52.97v5.40M216.05 55.63h4.00M218.05 52.93v5.40M216.33 55.60h4.00M218.33 52.90v5.40M216.62 55.56h4.00M218.62 52.86v5.40M216.90 55.53h4.00M218.90 52.83v5.40M217.18 55.50h4.00M219.18 52.80v5.40M217.47 55.46h4.00M219.47 52.76v5.40M217.75 55.43h4.00M219.75 52.73v5.40M218.03 55.39h4.00M220.03 52.69v5.40M218.32 55.36h4.00M220.32 52.66v5.40M218.60 55.32h4.00M220.60 52.62v5.40M218.88 55.31h4.00M220.88 52.61v5.40M219.17 55.33h4.00M221.17 52.63v5.40M219.45 55.35h4.00M221.45 52.65v5.40M219.73 55.37h4.00M221.73 52.67v5.40M220.02 55.39h4.00M222.02 52.69v5.40M220.30 55.41h4.00M222.30 52.71v5.40M220.59 55.43h4.00M222.59 52.73v5.40M220.87 55.45h4.00M222.87 52.75v5.40M221.15 55.47h4.00M223.15 52.77v5.40M221.44 55.49h4.00M223.44 52.79v5.40M221.72 55.51h4.00M223.72 52.81v5.40M222.00 55.53h4.00M224.00 52.83v5.40M222.29 55.55h4.00M224.29 52.85v5.40M222.57 55.57h4.00M224.57 52.87v5.40M222.85 55.59h4.00M224.85 52.89v5.40M223.14 55.62h4.00M225.14 52.92v5.40M223.42 55.64h4.00M225.42 52.94v5.40M223.70 55.66h4.00M225.70 52.96v5.40M223.99 55.68h4.00M225.99 52.98v5.40M224.27 55.70h4.00M226.27 53.00v5.40M224.55 55.60h4.00M226.55 52.90v5.40M224.84 55.48h4.00M226.84 52.78v5.40M225.12 55.37h4.00M227.12 52.67v5.40M225.41 55.26h4.00M227.41 52.56v5.40M225.69 55.14h4.00M227.69 52.44v5.40M225.97 55.03h4.00M227.97 52.33v5.40M226.26 54.92h4.00M228.26 52.22v5.40M226.54 54.80h4.00M228.54 52.10v5.40M226.82 54.69h4.00M228.82 51.99v5.40M227.11 54.58h4.00M229.11 51.88v5.40M227.39 54.46h4.00M229.39 51.76v5.40M227.67 54.35h4.00M229.67 51.65v5.40M227.96 54.24h4.00M229.96 51.54v5.40M228.24 54.12h4.00M230.24 51.42v5.40M228.52 54.01h4.00M230.52 51.31v5.40M228.81 53.90h4.00M230.81 51.20v5.40M229.09 53.78h4.00M231.09 51.08v5.40M229.38 53.67h4.00M231.38 50.97v5.40M229.66 53.56h4.00M231.66 50.86v5.40M229.94 53.49h4.00M231.94 50.79v5.40M230.23 53.46h4.00M232.23 50.76v5.40M230.51 53.44h4.00M232.51 50.74v5.40M230.79 53.42h4.00M232.79 50.72v5.40M231.08 53.43h4.00M233.08 50.73v5.40M231.36 53.55h4.00M233.36 50.85v5.40M231.64 53.66h4.00M233.64 50.96v5.40M231.93 53.78h4.00M233.93 51.08v5.40M232.21 53.90h4.00M234.21 51.20v5.40M232.49 54.01h4.00M234.49 51.31v5.40M232.78 54.13h4.00M234.78 51.43v5.40M233.06 54.24h4.00M235.06 51.54v5.40M233.34 54.36h4.00M235.34 51.66v5.40M233.63 54.48h4.00M235.63 51.78v5.40M233.91 54.59h4.00M235.91 51.89v5.40M234.20 54.71h4.00M236.20 52.01v5.40M234.48 54.82h4.00M236.48 52.12v5.40M234.76 54.94h4.00M236.76 52.24v5.40M235.05 55.06h4.00M237.05 52.36v5.40M235.33 55.17h4.00M237.33 52.47v5.40M235.61 55.12h4.00M237.61 52.42v5.40M235.90 55.02h4.00M237.90 52.32v5.40M236.18 54.91h4.00M238.18 52.21v5.40M236.46 54.81h4.00M238.46 52.11v5.40M236.75 54.71h4.00M238.75 52.01v5.40M237.03 54.60h4.00M239.03 51.90v5.40M237.31 54.50h4.00M239.31 51.80v5.40M237.60 54.39h4.00M239.60 51.69v5.40M237.88 54.29h4.00M239.88 51.59v5.40M238.16 54.19h4.00M240.16 51.49v5.40M238.45 54.08h4.00M240.45 51.38v5.40M238.73 53.98h4.00M240.73 51.28v5.40M239.02 53.87h4.00M241.02 51.17v5.40M239.30 53.77h4.00M241.30 51.07v5.40M239.58 53.67h4.00M241.58 50.97v5.40M239.87 53.56h4.00M241.87 50.86v5.40M240.15 53.46h4.00M242.15 50.76v5.40M240.43 53.35h4.00M242.43 50.65v5.40M240.72 53.25h4.00M242.72 50.55v5.40M241.00 53.15h4.00M243.00 50.45v5.40M241.28 53.04h4.00M243.28 50.34v5.40M241.57 53.05h4.00M243.57 50.35v5.40M241.85 53.15h4.00M243.85 50.45v5.40M242.13 53.24h4.00M244.13 50.54v5.40M242.42 53.33h4.00M244.42 50.63v5.40M242.70 53.43h4.00M244.70 50.73v5.40M242.99 53.52h4.00M244.99 50.82v5.40M243.27 53.61h4.00M245.27 50.91v5.40M243.55 53.70h4.00M245.55 51.00v5.40M243.84 53.80h4.00M245.84 51.10v5.40M244.12 53.89h4.00M246.12 51.19v5.40M244.40 53.98h4.00M246.40 51.28v5.40M244.69 54.07h4.00M246.69 51.37v5.40M244.97 54.17h4.00M246.97 51.47v5.40M245.25 54.26h4.00M247.25 51.56v5.40M245.54 54.35h4.00M247.54 51.65v5.40M245.82 54.44h4.00M247.82 51.74v5.40M246.10 54.54h4.00M248.10 51.84v5.40M246.39 54.53h4.00M248.39 51.83v5.40M246.67 54.30h4.00M248.67 51.60v5.40M246.95 54.07h4.00M248.95 51.37v5.40M247.24 53.84h4.00M249.24 51.14v5.40M247.52 53.61h4.00M249.52 50.91v5.40M247.81 53.38h4.00M249.81 50.68v5.40M248.09 53.15h4.00M250.09 50.45v5.40M248.37 52.92h4.00M250.37 50.22v5.40M248.66 52.69h4.00M250.66 49.99v5.40M248.94 52.46h4.00M250.94 49.76v5.40M249.22 52.22h4.00M251.22 49.52v5.40M249.51 51.99h4.00M251.51 49.29v5.40M249.79 51.78h4.00M251.79 49.08v5.40M250.07 51.56h4.00M252.07 48.86v5.40M250.36 51.34h4.00M252.36 48.64v5.40M250.64 51.13h4.00M252.64 48.43v5.40M250.92 50.91h4.00M252.92 48.21v5.40M251.21 50.69h4.00M253.21 47.99v5.40M251.49 50.48h4.00M253.49 47.78v5.40M251.78 50.26h4.00M253.78 47.56v5.40M252.06 50.04h4.00M254.06 47.34v5.40M252.34 49.83h4.00M254.34 47.13v5.40M252.63 49.61h4.00M254.63 46.91v5.40M252.91 49.40h4.00M254.91 46.70v5.40M253.19 49.42h4.00M255.19 46.72v5.40M253.48 49.43h4.00M255.48 46.73v5.40M253.76 49.45h4.00M255.76 46.75v5.40M254.04 49.46h4.00M256.04 46.76v5.40M254.33 49.48h4.00M256.33 46.78v5.40M254.61 49.49h4.00M256.61 46.79v5.40M254.89 49.50h4.00M256.89 46.80v5.40M255.18 49.52h4.00M257.18 46.82v5.40M255.46 49.53h4.00M257.46 46.83v5.40M255.74 49.55h4.00M257.74 46.85v5.40M256.03 49.56h4.00M258.03 46.86v5.40M256.31 49.58h4.00M258.31 46.88v5.40M256.60 49.59h4.00M258.60 46.89v5.40M256.88 49.59h4.00M258.88 46.89v5.40M257.16 49.57h4.00M259.16 46.87v5.40M257.45 49.55h4.00M259.45 46.85v5.40M257.73 49.54h4.00M259.73 46.84v5.40M258.01 49.52h4.00M260.01 46.82v5.40M258.30 49.50h4.00M260.30 46.80v5.40M258.58 49.49h4.00M260.58 46.79v5.40M258.86 49.47h4.00M260.86 46.77v5.40M259.15 49.45h4.00M261.15 46.75v5.40M259.43 49.43h4.00M261.43 46.73v5.40M259.71 49.42h4.00M261.71 46.72v5.40M260.00 49.40h4.00M262.00 46.70v5.40M260.28 49.73h4.00M262.28 47.03v5.40M260.57 50.06h4.00M262.57 47.36v5.40M260.85 50.39h4.00M262.85 47.69v5.40M261.13 50.72h4.00M263.13 48.02v5.40M261.42 51.05h4.00M263.42 48.35v5.40M261.70 51.38h4.00M263.70 48.68v5.40M261.98 52.10h4.00M263.98 49.40v5.40M262.27 53.02h4.00M264.27 50.32v5.40M262.55 53.95h4.00M264.55 51.25v5.40M262.83 54.88h4.00M264.83 52.18v5.40M263.12 55.80h4.00M265.12 53.10v5.40M263.40 56.95h4.00M265.40 54.25v5.40M263.68 58.51h4.00M265.68 55.81v5.40M263.97 60.07h4.00M265.97 57.37v5.40M264.25 61.63h4.00M266.25 58.93v5.40M264.53 63.26h4.00M266.53 60.56v5.40M264.82 65.40h4.00M266.82 62.70v5.40M265.10 67.54h4.00M267.10 64.84v5.40M265.39 69.68h4.00M267.39 66.98v5.40M265.67 71.85h4.00M267.67 69.15v5.40M265.35 74.12h5.20M267.95 71.42v5.40M265.64 76.39h5.20M268.24 73.69v5.40M265.92 78.66h5.20M268.52 75.96v5.40M266.80 80.92h4.00M268.80 78.22v5.40M267.09 82.68h4.00M269.09 79.98v5.40M267.37 84.18h4.00M269.37 81.48v5.40M267.65 85.67h4.00M269.65 82.97v5.40M267.94 87.17h4.00M269.94 84.47v5.40M268.22 88.60h4.00M270.22 85.90v5.40M268.50 88.79h4.00M270.50 86.09v5.40M268.79 86.87h4.00M270.79 84.17v5.40M269.07 84.94h4.00M271.07 82.24v5.40M269.35 83.02h4.00M271.35 80.32v5.40M269.64 81.10h4.00M271.64 78.40v5.40M269.32 78.94h5.20M271.92 76.24v5.40M269.61 76.49h5.20M272.21 73.79v5.40M269.89 74.03h5.20M272.49 71.33v5.40M270.17 71.57h5.20M272.77 68.87v5.40M270.46 69.11h5.20M273.06 66.41v5.40M270.74 66.66h5.20M273.34 63.96v5.40M271.02 64.23h5.20M273.62 61.53v5.40M271.31 61.80h5.20M273.91 59.10v5.40M271.59 59.37h5.20M274.19 56.67v5.40M271.87 56.94h5.20M274.47 54.24v5.40M272.76 54.78h4.00M274.76 52.08v5.40M273.04 53.70h4.00M275.04 51.00v5.40M273.32 52.61h4.00M275.32 49.91v5.40M273.61 51.53h4.00M275.61 48.83v5.40M273.89 50.44h4.00M275.89 47.74v5.40M274.18 49.36h4.00M276.18 46.66v5.40M274.46 48.46h4.00M276.46 45.76v5.40M274.74 48.29h4.00M276.74 45.59v5.40M275.03 48.12h4.00M277.03 45.42v5.40M275.31 47.95h4.00M277.31 45.25v5.40M275.59 47.78h4.00M277.59 45.08v5.40M275.88 47.61h4.00M277.88 44.91v5.40M276.16 47.43h4.00M278.16 44.73v5.40M276.44 47.26h4.00M278.44 44.56v5.40M276.73 47.09h4.00M278.73 44.39v5.40M277.01 46.92h4.00M279.01 44.22v5.40M277.29 46.75h4.00M279.29 44.05v5.40M277.58 46.58h4.00M279.58 43.88v5.40M277.86 46.41h4.00M279.86 43.71v5.40M278.14 46.23h4.00M280.14 43.53v5.40M278.43 46.05h4.00M280.43 43.35v5.40M278.71 45.86h4.00M280.71 43.16v5.40M279.00 45.68h4.00M281.00 42.98v5.40M279.28 45.49h4.00M281.28 42.79v5.40M279.56 45.31h4.00M281.56 42.61v5.40M279.85 45.12h4.00M281.85 42.42v5.40M280.13 44.94h4.00M282.13 42.24v5.40M280.41 44.75h4.00M282.41 42.05v5.40M280.70 44.57h4.00M282.70 41.87v5.40M280.98 44.38h4.00M282.98 41.68v5.40M281.26 44.19h4.00M283.26 41.49v5.40M281.55 44.01h4.00M283.55 41.31v5.40M281.83 43.82h4.00M283.83 41.12v5.40M282.11 43.64h4.00M284.11 40.94v5.40M282.40 43.45h4.00M284.40 40.75v5.40M282.68 43.27h4.00M284.68 40.57v5.40M282.97 43.08h4.00M284.97 40.38v5.40M283.25 42.90h4.00M285.25 40.20v5.40M283.53 42.71h4.00M285.53 40.01v5.40M283.82 42.55h4.00M285.82 39.85v5.40M284.10 42.42h4.00M286.10 39.72v5.40M284.38 42.29h4.00M286.38 39.59v5.40M284.67 42.16h4.00M286.67 39.46v5.40M284.95 42.03h4.00M286.95 39.33v5.40M285.23 41.90h4.00M287.23 39.20v5.40M285.52 41.77h4.00M287.52 39.07v5.40M285.80 41.65h4.00M287.80 38.95v5.40M286.08 41.52h4.00M288.08 38.82v5.40M286.37 41.39h4.00M288.37 38.69v5.40M286.65 41.26h4.00M288.65 38.56v5.40M286.93 41.13h4.00M288.93 38.43v5.40M287.22 41.00h4.00M289.22 38.30v5.40M287.50 40.87h4.00M289.50 38.17v5.40M287.79 40.74h4.00M289.79 38.04v5.40M288.07 40.61h4.00M290.07 37.91v5.40M288.35 40.49h4.00M290.35 37.79v5.40M288.64 40.36h4.00M290.64 37.66v5.40M288.92 40.23h4.00M290.92 37.53v5.40M289.20 40.10h4.00M291.20 37.40v5.40M289.49 40.06h4.00M291.49 37.36v5.40M289.77 40.02h4.00M291.77 37.32v5.40M290.05 39.97h4.00M292.05 37.27v5.40M290.34 39.93h4.00M292.34 37.23v5.40M290.62 39.89h4.00M292.62 37.19v5.40M290.90 39.85h4.00M292.90 37.15v5.40M291.19 39.81h4.00M293.19 37.11v5.40M291.47 39.76h4.00M293.47 37.06v5.40M291.75 39.72h4.00M293.75 37.02v5.40M292.04 39.68h4.00M294.04 36.98v5.40M292.32 39.64h4.00M294.32 36.94v5.40M292.61 39.60h4.00M294.61 36.90v5.40M292.89 39.55h4.00M294.89 36.85v5.40M293.17 39.51h4.00M295.17 36.81v5.40M293.46 39.47h4.00M295.46 36.77v5.40M293.74 39.43h4.00M295.74 36.73v5.40M294.02 39.39h4.00M296.02 36.69v5.40M294.31 39.34h4.00M296.31 36.64v5.40M294.59 39.30h4.00M296.59 36.60v5.40M294.87 39.25h4.00M296.87 36.55v5.40M295.16 39.19h4.00M297.16 36.49v5.40M295.44 39.13h4.00M297.44 36.43v5.40M295.72 39.08h4.00M297.72 36.38v5.40M296.01 39.02h4.00M298.01 36.32v5.40M296.29 38.96h4.00M298.29 36.26v5.40M296.58 38.90h4.00M298.58 36.20v5.40M296.86 38.85h4.00M298.86 36.15v5.40M297.14 38.79h4.00M299.14 36.09v5.40M297.43 38.73h4.00M299.43 36.03v5.40M297.71 38.68h4.00M299.71 35.98v5.40M297.99 38.62h4.00M299.99 35.92v5.40M298.28 38.56h4.00M300.28 35.86v5.40M298.56 38.51h4.00M300.56 35.81v5.40M298.84 38.45h4.00M300.84 35.75v5.40M299.13 38.39h4.00M301.13 35.69v5.40M299.41 38.34h4.00M301.41 35.64v5.40M299.69 38.28h4.00M301.69 35.58v5.40M299.98 38.22h4.00M301.98 35.52v5.40M300.26 38.18h4.00M302.26 35.48v5.40M300.54 38.15h4.00M302.54 35.45v5.40M300.83 38.13h4.00M302.83 35.43v5.40M301.11 38.10h4.00M303.11 35.40v5.40M301.40 38.07h4.00M303.40 35.37v5.40M301.68 38.04h4.00M303.68 35.34v5.40M301.96 38.01h4.00M303.96 35.31v5.40M302.25 37.98h4.00M304.25 35.28v5.40M302.53 37.95h4.00M304.53 35.25v5.40M302.81 37.92h4.00M304.81 35.22v5.40M303.10 37.89h4.00M305.10 35.19v5.40M303.38 37.86h4.00M305.38 35.16v5.40M303.66 37.83h4.00M305.66 35.13v5.40M303.95 37.81h4.00M305.95 35.11v5.40M304.23 37.89h4.00M306.23 35.19v5.40M304.51 38.01h4.00M306.51 35.31v5.40M304.80 38.12h4.00M306.80 35.42v5.40M305.08 38.23h4.00M307.08 35.53v5.40M305.37 38.35h4.00M307.37 35.65v5.40M305.65 38.46h4.00M307.65 35.76v5.40M305.93 38.57h4.00M307.93 35.87v5.40M306.22 38.69h4.00M308.22 35.99v5.40M306.50 38.80h4.00M308.50 36.10v5.40M306.78 38.91h4.00M308.78 36.21v5.40M307.07 39.03h4.00M309.07 36.33v5.40M307.35 39.14h4.00M309.35 36.44v5.40M307.63 39.25h4.00M309.63 36.55v5.40M307.92 39.37h4.00M309.92 36.67v5.40M308.20 39.48h4.00M310.20 36.78v5.40M308.48 39.59h4.00M310.48 36.89v5.40M308.77 39.71h4.00M310.77 37.01v5.40M309.05 39.79h4.00M311.05 37.09v5.40M309.33 39.72h4.00M311.33 37.02v5.40M309.62 39.66h4.00M311.62 36.96v5.40M309.90 39.59h4.00M311.90 36.89v5.40M310.19 39.52h4.00M312.19 36.82v5.40M310.47 39.46h4.00M312.47 36.76v5.40M310.75 39.39h4.00M312.75 36.69v5.40M311.04 39.32h4.00M313.04 36.62v5.40M311.32 39.26h4.00M313.32 36.56v5.40M311.60 39.19h4.00M313.60 36.49v5.40M311.89 39.13h4.00M313.89 36.43v5.40M312.17 39.06h4.00M314.17 36.36v5.40M312.45 38.99h4.00M314.45 36.29v5.40M312.74 38.93h4.00M314.74 36.23v5.40M313.02 38.86h4.00M315.02 36.16v5.40M313.30 38.80h4.00M315.30 36.10v5.40M313.59 38.73h4.00M315.59 36.03v5.40M313.87 38.66h4.00M315.87 35.96v5.40M314.16 38.60h4.00M316.16 35.90v5.40M314.44 38.53h4.00M316.44 35.83v5.40M314.72 38.46h4.00M316.72 35.76v5.40M315.01 38.40h4.00M317.01 35.70v5.40M315.29 38.52h4.00M317.29 35.82v5.40M315.57 38.63h4.00M317.57 35.93v5.40M315.86 38.75h4.00M317.86 36.05v5.40M316.14 38.87h4.00M318.14 36.17v5.40M316.42 38.98h4.00M318.42 36.28v5.40M316.71 39.10h4.00M318.71 36.40v5.40M316.99 39.22h4.00M318.99 36.52v5.40M317.27 39.33h4.00M319.27 36.63v5.40M317.56 39.45h4.00M319.56 36.75v5.40M317.84 39.56h4.00M319.84 36.86v5.40M318.12 39.68h4.00M320.12 36.98v5.40M318.41 39.80h4.00M320.41 37.10v5.40M318.69 39.91h4.00M320.69 37.21v5.40M318.98 40.03h4.00M320.98 37.33v5.40M319.26 40.15h4.00M321.26 37.45v5.40M319.54 40.26h4.00M321.54 37.56v5.40M319.83 40.38h4.00M321.83 37.68v5.40M320.11 40.49h4.00M322.11 37.79v5.40M320.39 40.61h4.00M322.39 37.91v5.40M320.68 40.73h4.00M322.68 38.03v5.40M320.96 40.84h4.00M322.96 38.14v5.40M321.24 40.88h4.00M323.24 38.18v5.40M321.53 40.83h4.00M323.53 38.13v5.40M321.81 40.79h4.00M323.81 38.09v5.40M322.09 40.74h4.00M324.09 38.04v5.40M322.38 40.70h4.00M324.38 38.00v5.40M322.66 40.65h4.00M324.66 37.95v5.40M322.94 40.61h4.00M324.94 37.91v5.40M323.23 40.56h4.00M325.23 37.86v5.40M323.51 40.52h4.00M325.51 37.82v5.40M323.80 40.47h4.00M325.80 37.77v5.40M324.08 40.43h4.00M326.08 37.73v5.40M324.36 40.38h4.00M326.36 37.68v5.40M324.65 40.34h4.00M326.65 37.64v5.40M324.93 40.29h4.00M326.93 37.59v5.40M325.21 40.25h4.00M327.21 37.55v5.40M325.50 40.20h4.00M327.50 37.50v5.40M325.78 40.32h4.00M327.78 37.62v5.40M326.06 40.44h4.00M328.06 37.74v5.40M326.35 40.56h4.00M328.35 37.86v5.40M326.63 40.68h4.00M328.63 37.98v5.40M326.91 40.81h4.00M328.91 38.11v5.40M327.20 40.93h4.00M329.20 38.23v5.40M327.48 41.05h4.00M329.48 38.35v5.40M327.77 41.17h4.00M329.77 38.47v5.40M328.05 41.29h4.00M330.05 38.59v5.40M328.33 41.41h4.00M330.33 38.71v5.40M328.62 41.54h4.00M330.62 38.84v5.40M328.90 41.66h4.00M330.90 38.96v5.40M329.18 41.78h4.00M331.18 39.08v5.40M329.47 41.90h4.00M331.47 39.20v5.40M329.75 42.02h4.00M331.75 39.32v5.40M330.03 42.14h4.00M332.03 39.44v5.40M330.32 42.26h4.00M332.32 39.56v5.40M330.60 42.45h4.00M332.60 39.75v5.40M330.88 42.67h4.00M332.88 39.97v5.40M331.17 42.88h4.00M333.17 40.18v5.40M331.45 43.10h4.00M333.45 40.40v5.40M331.73 43.31h4.00M333.73 40.61v5.40M332.02 43.53h4.00M334.02 40.83v5.40M332.30 43.74h4.00M334.30 41.04v5.40M332.59 43.96h4.00M334.59 41.26v5.40M332.87 44.17h4.00M334.87 41.47v5.40M333.15 44.39h4.00M335.15 41.69v5.40M333.44 44.60h4.00M335.44 41.90v5.40M333.72 44.85h4.00M335.72 42.15v5.40M334.00 45.52h4.00M336.00 42.82v5.40M334.29 46.19h4.00M336.29 43.49v5.40M334.57 46.86h4.00M336.57 44.16v5.40M334.85 47.53h4.00M336.85 44.83v5.40M335.14 48.20h4.00M337.14 45.50v5.40M335.42 48.87h4.00M337.42 46.17v5.40M335.70 49.54h4.00M337.70 46.84v5.40M335.99 50.54h4.00M337.99 47.84v5.40M336.27 52.29h4.00M338.27 49.59v5.40M336.56 54.03h4.00M338.56 51.33v5.40M336.84 55.78h4.00M338.84 53.08v5.40M337.12 57.52h4.00M339.12 54.82v5.40M336.81 59.71h5.20M339.41 57.01v5.40M337.09 62.08h5.20M339.69 59.38v5.40M337.37 64.44h5.20M339.97 61.74v5.40M337.66 66.80h5.20M340.26 64.10v5.40M337.94 69.11h5.20M340.54 66.41v5.40M338.82 71.35h4.00M340.82 68.65v5.40M339.11 73.60h4.00M341.11 70.90v5.40M339.39 75.85h4.00M341.39 73.15v5.40M339.67 78.09h4.00M341.67 75.39v5.40M339.96 79.62h4.00M341.96 76.92v5.40M340.24 81.08h4.00M342.24 78.38v5.40M340.52 82.54h4.00M342.52 79.84v5.40M340.81 84.00h4.00M342.81 81.30v5.40M341.09 85.46h4.00M343.09 82.76v5.40M341.38 84.01h4.00M343.38 81.31v5.40M341.66 82.47h4.00M343.66 79.77v5.40M341.94 80.94h4.00M343.94 78.24v5.40M342.23 79.40h4.00M344.23 76.70v5.40M342.51 77.87h4.00M344.51 75.17v5.40M342.79 76.33h4.00M344.79 73.63v5.40M343.08 74.79h4.00M345.08 72.09v5.40M343.36 73.26h4.00M345.36 70.56v5.40M343.64 71.33h4.00M345.64 68.63v5.40M343.33 69.01h5.20M345.93 66.31v5.40M343.61 66.70h5.20M346.21 64.00v5.40M343.89 64.39h5.20M346.49 61.69v5.40M344.18 62.08h5.20M346.78 59.38v5.40M344.46 59.76h5.20M347.06 57.06v5.40M345.34 57.45h4.00M347.34 54.75v5.40M345.63 55.61h4.00M347.63 52.91v5.40M345.91 53.89h4.00M347.91 51.19v5.40M346.20 52.17h4.00M348.20 49.47v5.40M346.48 50.45h4.00M348.48 47.75v5.40M346.76 48.73h4.00M348.76 46.03v5.40M347.05 47.92h4.00M349.05 45.22v5.40M347.33 47.25h4.00M349.33 44.55v5.40M347.61 46.59h4.00M349.61 43.89v5.40M347.90 45.92h4.00M349.90 43.22v5.40M348.18 45.25h4.00M350.18 42.55v5.40M348.46 44.58h4.00M350.46 41.88v5.40M348.75 44.35h4.00M350.75 41.65v5.40M349.03 44.17h4.00M351.03 41.47v5.40M349.31 43.99h4.00M351.31 41.29v5.40M349.60 43.81h4.00M351.60 41.11v5.40M349.88 43.64h4.00M351.88 40.94v5.40M350.17 43.52h4.00M352.17 40.82v5.40M350.45 43.62h4.00M352.45 40.92v5.40M350.73 43.71h4.00M352.73 41.01v5.40M351.02 43.81h4.00M353.02 41.11v5.40M351.30 43.90h4.00M353.30 41.20v5.40M351.58 43.99h4.00M353.58 41.29v5.40M351.87 44.09h4.00M353.87 41.39v5.40M352.15 44.18h4.00M354.15 41.48v5.40M352.43 44.28h4.00M354.43 41.58v5.40M352.72 44.37h4.00M354.72 41.67v5.40M353.00 44.47h4.00M355.00 41.77v5.40M353.28 44.56h4.00M355.28 41.86v5.40M353.57 44.66h4.00M355.57 41.96v5.40M353.85 44.75h4.00M355.85 42.05v5.40M354.13 44.84h4.00M356.13 42.14v5.40M354.42 44.94h4.00M356.42 42.24v5.40M354.70 45.03h4.00M356.70 42.33v5.40M354.99 45.13h4.00M356.99 42.43v5.40M355.27 45.22h4.00M357.27 42.52v5.40M355.55 45.32h4.00M357.55 42.62v5.40M355.84 45.41h4.00M357.84 42.71v5.40M356.12 45.51h4.00M358.12 42.81v5.40M356.40 45.60h4.00M358.40 42.90v5.40M356.69 45.70h4.00M358.69 43.00v5.40M356.97 45.56h4.00M358.97 42.86v5.40M357.25 45.41h4.00M359.25 42.71v5.40M357.54 45.27h4.00M359.54 42.57v5.40M357.82 45.12h4.00M359.82 42.42v5.40M358.10 44.97h4.00M360.10 42.27v5.40M358.39 44.83h4.00M360.39 42.13v5.40M358.67 44.68h4.00M360.67 41.98v5.40M358.96 44.53h4.00M360.96 41.83v5.40M359.24 44.39h4.00M361.24 41.69v5.40M359.52 44.24h4.00M361.52 41.54v5.40M359.81 44.10h4.00M361.81 41.40v5.40M360.09 43.95h4.00M362.09 41.25v5.40M360.37 43.80h4.00M362.37 41.10v5.40M360.66 43.66h4.00M362.66 40.96v5.40M360.94 43.51h4.00M362.94 40.81v5.40M361.22 43.36h4.00M363.22 40.66v5.40M361.51 43.22h4.00M363.51 40.52v5.40M361.79 43.07h4.00M363.79 40.37v5.40M362.07 42.92h4.00M364.07 40.22v5.40M362.36 42.78h4.00M364.36 40.08v5.40M362.64 42.63h4.00M364.64 39.93v5.40M362.92 42.71h4.00M364.92 40.01v5.40M363.21 42.84h4.00M365.21 40.14v5.40M363.49 42.97h4.00M365.49 40.27v5.40M363.78 43.10h4.00M365.78 40.40v5.40M364.06 43.24h4.00M366.06 40.54v5.40M364.34 43.37h4.00M366.34 40.67v5.40M364.63 43.50h4.00M366.63 40.80v5.40M364.91 43.64h4.00M366.91 40.94v5.40M365.19 43.77h4.00M367.19 41.07v5.40M365.48 43.90h4.00M367.48 41.20v5.40M365.76 44.04h4.00M367.76 41.34v5.40M366.04 44.17h4.00M368.04 41.47v5.40M366.33 44.30h4.00M368.33 41.60v5.40M366.61 44.44h4.00M368.61 41.74v5.40M366.89 44.57h4.00M368.89 41.87v5.40M367.18 44.70h4.00M369.18 42.00v5.40M367.46 44.83h4.00M369.46 42.13v5.40M367.74 44.81h4.00M369.74 42.11v5.40M368.03 44.64h4.00M370.03 41.94v5.40M368.31 44.47h4.00M370.31 41.77v5.40M368.60 44.30h4.00M370.60 41.60v5.40M368.88 44.12h4.00M370.88 41.42v5.40M369.16 43.95h4.00M371.16 41.25v5.40M369.45 43.78h4.00M371.45 41.08v5.40M369.73 43.61h4.00M371.73 40.91v5.40M370.01 43.44h4.00M372.01 40.74v5.40M370.30 43.26h4.00M372.30 40.56v5.40M370.58 43.09h4.00M372.58 40.39v5.40M370.86 42.92h4.00M372.86 40.22v5.40M371.15 42.75h4.00M373.15 40.05v5.40M371.43 42.58h4.00M373.43 39.88v5.40M371.71 42.40h4.00M373.71 39.70v5.40M372.00 42.23h4.00M374.00 39.53v5.40M372.28 42.06h4.00M374.28 39.36v5.40M372.57 41.89h4.00M374.57 39.19v5.40M372.85 41.72h4.00M374.85 39.02v5.40M373.13 41.54h4.00M375.13 38.84v5.40M373.42 41.37h4.00M375.42 38.67v5.40M373.70 41.20h4.00M375.70 38.50v5.40M373.98 41.26h4.00M375.98 38.56v5.40M374.27 41.32h4.00M376.27 38.62v5.40M374.55 41.38h4.00M376.55 38.68v5.40M374.83 41.45h4.00M376.83 38.75v5.40M375.12 41.51h4.00M377.12 38.81v5.40M375.40 41.57h4.00M377.40 38.87v5.40M375.68 41.63h4.00M377.68 38.93v5.40M375.97 41.69h4.00M377.97 38.99v5.40M376.25 41.81h4.00M378.25 39.11v5.40M376.53 41.93h4.00M378.53 39.23v5.40M376.82 42.04h4.00M378.82 39.34v5.40M377.10 42.16h4.00M379.10 39.46v5.40M377.39 42.28h4.00M379.39 39.58v5.40M377.67 42.40h4.00M379.67 39.70v5.40M377.95 42.52h4.00M379.95 39.82v5.40M378.24 42.64h4.00M380.24 39.94v5.40M378.52 42.76h4.00M380.52 40.06v5.40M378.80 42.88h4.00M380.80 40.18v5.40M379.09 43.00h4.00M381.09 40.30v5.40M379.37 43.12h4.00M381.37 40.42v5.40M379.65 43.24h4.00M381.65 40.54v5.40M379.94 43.22h4.00M381.94 40.52v5.40M380.22 43.06h4.00M382.22 40.36v5.40M380.50 42.90h4.00M382.50 40.20v5.40M380.79 42.73h4.00M382.79 40.03v5.40M381.07 42.57h4.00M383.07 39.87v5.40M381.36 42.41h4.00M383.36 39.71v5.40M381.64 42.25h4.00M383.64 39.55v5.40M381.92 42.08h4.00M383.92 39.38v5.40M382.21 41.92h4.00M384.21 39.22v5.40M382.49 41.76h4.00M384.49 39.06v5.40M382.77 41.59h4.00M384.77 38.89v5.40M383.06 41.43h4.00M385.06 38.73v5.40M383.34 41.27h4.00M385.34 38.57v5.40M383.62 41.11h4.00M385.62 38.41v5.40M383.91 40.94h4.00M385.91 38.24v5.40M384.19 40.78h4.00M386.19 38.08v5.40M384.47 40.62h4.00M386.47 37.92v5.40M384.76 40.46h4.00M386.76 37.76v5.40M385.04 40.29h4.00M387.04 37.59v5.40M385.32 40.13h4.00M387.32 37.43v5.40M385.61 39.97h4.00M387.61 37.27v5.40M385.89 39.80h4.00M387.89 37.10v5.40M386.18 39.97h4.00M388.18 37.27v5.40M386.46 40.14h4.00M388.46 37.44v5.40M386.74 40.31h4.00M388.74 37.61v5.40M387.03 40.48h4.00M389.03 37.78v5.40M387.31 40.65h4.00M389.31 37.95v5.40M387.59 40.82h4.00M389.59 38.12v5.40M387.88 40.99h4.00M389.88 38.29v5.40M388.16 41.16h4.00M390.16 38.46v5.40M388.44 41.33h4.00M390.44 38.63v5.40M388.73 41.50h4.00M390.73 38.80v5.40M389.01 41.67h4.00M391.01 38.97v5.40M389.29 41.84h4.00M391.29 39.14v5.40M389.58 42.01h4.00M391.58 39.31v5.40M389.86 42.18h4.00M391.86 39.48v5.40M390.15 42.35h4.00M392.15 39.65v5.40M390.43 42.52h4.00M392.43 39.82v5.40M390.71 42.69h4.00M392.71 39.99v5.40M391.00 42.86h4.00M393.00 40.16v5.40M391.28 43.03h4.00M393.28 40.33v5.40M391.56 43.20h4.00M393.56 40.50v5.40M391.85 43.37h4.00M393.85 40.67v5.40M392.13 43.54h4.00M394.13 40.84v5.40M392.41 43.69h4.00M394.41 40.99v5.40M392.70 43.44h4.00M394.70 40.74v5.40M392.98 43.19h4.00M394.98 40.49v5.40M393.26 42.94h4.00M395.26 40.24v5.40M393.55 42.69h4.00M395.55 39.99v5.40M393.83 42.44h4.00M395.83 39.74v5.40M394.11 42.19h4.00M396.11 39.49v5.40M394.40 41.94h4.00M396.40 39.24v5.40M394.68 41.69h4.00M396.68 38.99v5.40M394.97 41.45h4.00M396.97 38.75v5.40M395.25 41.20h4.00M397.25 38.50v5.40M395.53 40.95h4.00M397.53 38.25v5.40M395.82 40.70h4.00M397.82 38.00v5.40M396.10 40.45h4.00M398.10 37.75v5.40M396.38 40.20h4.00M398.38 37.50v5.40M396.67 39.95h4.00M398.67 37.25v5.40M396.95 39.70h4.00M398.95 37.00v5.40M397.23 39.45h4.00M399.23 36.75v5.40M397.52 39.20h4.00M399.52 36.50v5.40M397.80 38.95h4.00M399.80 36.25v5.40M398.08 38.70h4.00M400.08 36.00v5.40M398.37 38.46h4.00M400.37 35.76v5.40M398.65 38.21h4.00M400.65 35.51v5.40M398.93 37.96h4.00M400.93 35.26v5.40M399.22 37.87h4.00M401.22 35.17v5.40M399.50 37.82h4.00M401.50 35.12v5.40M399.79 37.78h4.00M401.79 35.08v5.40M400.07 37.74h4.00M402.07 35.04v5.40M400.35 37.70h4.00M402.35 35.00v5.40M400.64 37.65h4.00M402.64 34.95v5.40M400.92 37.61h4.00M402.92 34.91v5.40M401.20 37.57h4.00M403.20 34.87v5.40M401.49 37.52h4.00M403.49 34.82v5.40M401.77 37.48h4.00M403.77 34.78v5.40M402.05 37.44h4.00M404.05 34.74v5.40M402.34 37.38h4.00M404.34 34.68v5.40M402.62 37.26h4.00M404.62 34.56v5.40M402.90 37.15h4.00M404.90 34.45v5.40M403.19 37.03h4.00M405.19 34.33v5.40M403.47 36.91h4.00M405.47 34.21v5.40M403.76 36.79h4.00M405.76 34.09v5.40M404.04 36.67h4.00M406.04 33.97v5.40M404.32 36.55h4.00M406.32 33.85v5.40M404.61 36.43h4.00M406.61 33.73v5.40M404.89 36.31h4.00M406.89 33.61v5.40M405.17 36.19h4.00M407.17 33.49v5.40M405.46 36.07h4.00M407.46 33.37v5.40M405.74 35.95h4.00M407.74 33.25v5.40M406.02 35.83h4.00M408.02 33.13v5.40M406.31 36.13h4.00M408.31 33.43v5.40M406.59 36.59h4.00M408.59 33.89v5.40M406.87 37.04h4.00M408.87 34.34v5.40M407.16 37.49h4.00M409.16 34.79v5.40M407.44 37.95h4.00M409.44 35.25v5.40M407.72 38.40h4.00M409.72 35.70v5.40M408.01 38.85h4.00M410.01 36.15v5.40M408.29 40.60h4.00M410.29 37.90v5.40M407.98 42.96h5.20M410.58 40.26v5.40M408.26 45.33h5.20M410.86 42.63v5.40M408.54 47.69h5.20M411.14 44.99v5.40M408.83 50.05h5.20M411.43 47.35v5.40M409.71 52.27h4.00M411.71 49.57v5.40M409.99 54.25h4.00M411.99 51.55v5.40M410.28 56.24h4.00M412.28 53.54v5.40M410.56 58.22h4.00M412.56 55.52v5.40M410.84 60.21h4.00M412.84 57.51v5.40M411.13 62.19h4.00M413.13 59.49v5.40M411.41 64.18h4.00M413.41 61.48v5.40M411.69 66.16h4.00M413.69 63.46v5.40M411.98 67.64h4.00M413.98 64.94v5.40M412.26 69.11h4.00M414.26 66.41v5.40M412.55 70.58h4.00M414.55 67.88v5.40M412.83 72.05h4.00M414.83 69.35v5.40M413.11 73.53h4.00M415.11 70.83v5.40M413.40 74.82h4.00M415.40 72.12v5.40M413.68 74.91h4.00M415.68 72.21v5.40M413.96 72.78h4.00M415.96 70.08v5.40M414.25 70.65h4.00M416.25 67.95v5.40M414.53 68.53h4.00M416.53 65.83v5.40M414.81 66.40h4.00M416.81 63.70v5.40M415.10 64.27h4.00M417.10 61.57v5.40M414.78 62.15h5.20M417.38 59.45v5.40M414.92 60.82h5.20M415.06 59.49h5.20M417.66 56.79v5.40M415.21 58.14h5.20M415.35 56.80h5.20M417.95 54.10v5.40M415.49 55.45h5.20M415.63 54.10h5.20M418.23 51.40v5.40M415.77 52.76h5.20M415.91 51.41h5.20M418.51 48.71v5.40M416.06 50.06h5.20M416.20 48.72h5.20M418.80 46.02v5.40M416.34 47.37h5.20M416.48 46.02h5.20M419.08 43.32v5.40M416.62 44.68h5.20M416.77 43.33h5.20M419.37 40.63v5.40M417.65 41.47h4.00M419.65 38.77v5.40M417.93 39.72h4.00M419.93 37.02v5.40M418.22 37.98h4.00M420.22 35.28v5.40M418.50 36.23h4.00M420.50 33.53v5.40M418.78 34.77h4.00M420.78 32.07v5.40M419.07 34.00h4.00M421.07 31.30v5.40M419.35 33.23h4.00M421.35 30.53v5.40M419.63 32.45h4.00M421.63 29.75v5.40M419.92 31.95h4.00M421.92 29.25v5.40M420.20 31.83h4.00M422.20 29.13v5.40M420.48 31.72h4.00M422.48 29.02v5.40M420.77 31.60h4.00M422.77 28.90v5.40M421.05 31.48h4.00M423.05 28.78v5.40M421.33 31.37h4.00M423.33 28.67v5.40M421.62 31.33h4.00M423.62 28.63v5.40M421.90 31.41h4.00M423.90 28.71v5.40M422.19 31.48h4.00M424.19 28.78v5.40M422.47 31.56h4.00M424.47 28.86v5.40M422.75 31.63h4.00M424.75 28.93v5.40M423.04 31.70h4.00M425.04 29.00v5.40M423.32 31.78h4.00M425.32 29.08v5.40M423.60 31.85h4.00M425.60 29.15v5.40M423.89 31.93h4.00M425.89 29.23v5.40M424.17 32.00h4.00M426.17 29.30v5.40M424.45 32.08h4.00M426.45 29.38v5.40M424.74 32.15h4.00M426.74 29.45v5.40M425.02 32.23h4.00M427.02 29.53v5.40M425.30 32.30h4.00M427.30 29.60v5.40M425.59 32.10h4.00M427.59 29.40v5.40M425.87 31.91h4.00M427.87 29.21v5.40M426.16 31.72h4.00M428.16 29.02v5.40M426.44 31.52h4.00M428.44 28.82v5.40M426.72 31.33h4.00M428.72 28.63v5.40M427.01 31.14h4.00M429.01 28.44v5.40M427.29 30.94h4.00M429.29 28.24v5.40M427.57 30.75h4.00M429.57 28.05v5.40M427.86 30.56h4.00M429.86 27.86v5.40M428.14 30.36h4.00M430.14 27.66v5.40M428.42 30.17h4.00M430.42 27.47v5.40M428.71 29.98h4.00M430.71 27.28v5.40M428.99 29.78h4.00M430.99 27.08v5.40M429.27 29.59h4.00M431.27 26.89v5.40M429.56 29.40h4.00M431.56 26.70v5.40M429.84 29.22h4.00M431.84 26.52v5.40M430.12 29.06h4.00M432.12 26.36v5.40M430.41 28.90h4.00M432.41 26.20v5.40M430.69 28.74h4.00M432.69 26.04v5.40M430.98 28.58h4.00M432.98 25.88v5.40M431.26 28.41h4.00M433.26 25.71v5.40M431.54 28.25h4.00M433.54 25.55v5.40M431.83 28.09h4.00M433.83 25.39v5.40M432.11 27.93h4.00M434.11 25.23v5.40M432.39 27.77h4.00M434.39 25.07v5.40M432.68 27.61h4.00M434.68 24.91v5.40M432.96 27.45h4.00M434.96 24.75v5.40M433.24 27.29h4.00M435.24 24.59v5.40M433.53 27.13h4.00M435.53 24.43v5.40M433.81 26.96h4.00M435.81 24.26v5.40M434.09 26.80h4.00M436.09 24.10v5.40M434.38 26.89h4.00M436.38 24.19v5.40M434.66 26.98h4.00M436.66 24.28v5.40M434.95 27.07h4.00M436.95 24.37v5.40M435.23 27.16h4.00M437.23 24.46v5.40M435.51 27.24h4.00M437.51 24.54v5.40M435.80 27.33h4.00M437.80 24.63v5.40M436.08 27.42h4.00M438.08 24.72v5.40M436.36 27.51h4.00M438.36 24.81v5.40M436.65 27.60h4.00M438.65 24.90v5.40M436.93 27.69h4.00M438.93 24.99v5.40M437.21 27.78h4.00M439.21 25.08v5.40M437.50 27.87h4.00M439.50 25.17v5.40M437.78 27.96h4.00M439.78 25.26v5.40M438.06 28.05h4.00M440.06 25.35v5.40M438.35 28.14h4.00M440.35 25.44v5.40M438.63 28.23h4.00M440.63 25.53v5.40M438.91 28.32h4.00M440.91 25.62v5.40M439.20 28.41h4.00M441.20 25.71v5.40M439.48 28.49h4.00M441.48 25.79v5.40M439.77 28.35h4.00M441.77 25.65v5.40M440.05 28.19h4.00M442.05 25.49v5.40M440.33 28.02h4.00M442.33 25.32v5.40M440.62 27.86h4.00M442.62 25.16v5.40M440.90 27.70h4.00M442.90 25.00v5.40M441.18 27.53h4.00M443.18 24.83v5.40M441.47 27.37h4.00M443.47 24.67v5.40M441.75 27.21h4.00M443.75 24.51v5.40M442.03 27.05h4.00M444.03 24.35v5.40M442.32 26.88h4.00M444.32 24.18v5.40M442.60 26.72h4.00M444.60 24.02v5.40M442.88 26.56h4.00M444.88 23.86v5.40M443.17 26.40h4.00M445.17 23.70v5.40M443.45 26.23h4.00M445.45 23.53v5.40M443.74 26.07h4.00M445.74 23.37v5.40M444.02 25.91h4.00M446.02 23.21v5.40M444.30 25.74h4.00M446.30 23.04v5.40M444.59 25.58h4.00M446.59 22.88v5.40M444.87 25.42h4.00M446.87 22.72v5.40M445.15 25.26h4.00M447.15 22.56v5.40M445.44 25.09h4.00M447.44 22.39v5.40M445.72 25.07h4.00M447.72 22.37v5.40M446.00 25.25h4.00M448.00 22.55v5.40M446.29 25.43h4.00M448.29 22.73v5.40M446.57 25.60h4.00M448.57 22.90v5.40M446.85 25.78h4.00M448.85 23.08v5.40M447.14 25.95h4.00M449.14 23.25v5.40M447.42 26.13h4.00M449.42 23.43v5.40M447.70 26.31h4.00M449.70 23.61v5.40M447.99 26.48h4.00M449.99 23.78v5.40M448.27 26.66h4.00M450.27 23.96v5.40M448.56 26.85h4.00M450.56 24.15v5.40M448.84 27.13h4.00M450.84 24.43v5.40M449.12 27.41h4.00M451.12 24.71v5.40M449.41 27.69h4.00M451.41 24.99v5.40M449.69 27.96h4.00M451.69 25.26v5.40M449.97 28.24h4.00M451.97 25.54v5.40M450.26 28.52h4.00M452.26 25.82v5.40M450.54 28.79h4.00M452.54 26.09v5.40M450.82 29.07h4.00M452.82 26.37v5.40M451.11 29.35h4.00M453.11 26.65v5.40M451.39 29.63h4.00M453.39 26.93v5.40M451.67 29.90h4.00M453.67 27.20v5.40M451.96 30.18h4.00M453.96 27.48v5.40M452.24 30.46h4.00M454.24 27.76v5.40M452.52 30.73h4.00M454.52 28.03v5.40M452.81 31.01h4.00M454.81 28.31v5.40M453.09 31.02h4.00M455.09 28.32v5.40M453.38 30.90h4.00M455.38 28.20v5.40M453.66 30.78h4.00M455.66 28.08v5.40M453.94 30.66h4.00M455.94 27.96v5.40M454.23 30.54h4.00M456.23 27.84v5.40M454.51 30.42h4.00M456.51 27.72v5.40M454.79 30.30h4.00M456.79 27.60v5.40M455.08 30.19h4.00M457.08 27.49v5.40M455.36 30.07h4.00M457.36 27.37v5.40M455.64 29.95h4.00M457.64 27.25v5.40M455.93 29.83h4.00M457.93 27.13v5.40M456.21 29.71h4.00M458.21 27.01v5.40M456.49 29.59h4.00M458.49 26.89v5.40M456.78 29.47h4.00M458.78 26.77v5.40M457.06 29.35h4.00M459.06 26.65v5.40M457.35 29.23h4.00M459.35 26.53v5.40M457.63 29.11h4.00M459.63 26.41v5.40M457.91 29.00h4.00M459.91 26.30v5.40M458.20 29.12h4.00M460.20 26.42v5.40M458.48 29.23h4.00M460.48 26.53v5.40M458.76 29.35h4.00M460.76 26.65v5.40M459.05 29.46h4.00M461.05 26.76v5.40M459.33 29.57h4.00M461.33 26.87v5.40M459.61 29.69h4.00M461.61 26.99v5.40M459.90 29.80h4.00M461.90 27.10v5.40M460.18 29.91h4.00M462.18 27.21v5.40M460.46 30.03h4.00M462.46 27.33v5.40M460.75 30.14h4.00M462.75 27.44v5.40M461.03 30.25h4.00M463.03 27.55v5.40M461.31 30.37h4.00M463.31 27.67v5.40M461.60 30.48h4.00M463.60 27.78v5.40M461.88 30.59h4.00M463.88 27.89v5.40M462.17 30.71h4.00M464.17 28.01v5.40M462.45 30.82h4.00M464.45 28.12v5.40M462.73 30.93h4.00M464.73 28.23v5.40M463.02 31.05h4.00M465.02 28.35v5.40M463.30 31.16h4.00M465.30 28.46v5.40M463.58 31.27h4.00M465.58 28.57v5.40M463.87 31.39h4.00M465.87 28.69v5.40M464.15 31.21h4.00M466.15 28.51v5.40M464.43 31.00h4.00M466.43 28.30v5.40M464.72 30.79h4.00M466.72 28.09v5.40M465.00 30.57h4.00M467.00 27.87v5.40M465.28 30.36h4.00M467.28 27.66v5.40M465.57 30.15h4.00M467.57 27.45v5.40M465.85 29.94h4.00M467.85 27.24v5.40M466.14 29.72h4.00M468.14 27.02v5.40M466.42 29.51h4.00M468.42 26.81v5.40M466.70 29.30h4.00M468.70 26.60v5.40M466.99 29.09h4.00M468.99 26.39v5.40M467.27 28.87h4.00M469.27 26.17v5.40M467.55 28.66h4.00M469.55 25.96v5.40M467.84 28.45h4.00M469.84 25.75v5.40M468.12 28.24h4.00M470.12 25.54v5.40M468.40 28.02h4.00M470.40 25.32v5.40M468.69 27.81h4.00M470.69 25.11v5.40M468.97 27.60h4.00M470.97 24.90v5.40M469.25 27.38h4.00M471.25 24.68v5.40M469.54 27.17h4.00M471.54 24.47v5.40M469.82 26.96h4.00M471.82 24.26v5.40M470.10 27.06h4.00M472.10 24.36v5.40M470.39 27.29h4.00M472.39 24.59v5.40M470.67 27.52h4.00M472.67 24.82v5.40M470.96 27.74h4.00M472.96 25.04v5.40M471.24 27.97h4.00M473.24 25.27v5.40M471.52 28.20h4.00M473.52 25.50v5.40M471.81 28.42h4.00M473.81 25.72v5.40M472.09 28.65h4.00M474.09 25.95v5.40M472.37 28.88h4.00M474.37 26.18v5.40M472.66 29.11h4.00M474.66 26.41v5.40M472.94 29.33h4.00M474.94 26.63v5.40M473.22 29.56h4.00M475.22 26.86v5.40M473.51 29.79h4.00M475.51 27.09v5.40M473.79 30.01h4.00M475.79 27.31v5.40M474.07 30.24h4.00M476.07 27.54v5.40M474.36 30.47h4.00M476.36 27.77v5.40M474.64 30.69h4.00M476.64 27.99v5.40M474.92 30.92h4.00M476.92 28.22v5.40M475.21 31.15h4.00M477.21 28.45v5.40M475.49 31.26h4.00M477.49 28.56v5.40M475.78 31.13h4.00M477.78 28.43v5.40M476.06 31.00h4.00M478.06 28.30v5.40M476.34 30.87h4.00M478.34 28.17v5.40M476.63 30.74h4.00M478.63 28.04v5.40M476.91 30.61h4.00M478.91 27.91v5.40M477.19 30.48h4.00M479.19 27.78v5.40M477.48 30.36h4.00M479.48 27.66v5.40M477.76 30.23h4.00M479.76 27.53v5.40M478.04 30.10h4.00M480.04 27.40v5.40M478.33 29.97h4.00M480.33 27.27v5.40M478.61 29.84h4.00M480.61 27.14v5.40M478.89 30.17h4.00M480.89 27.47v5.40M479.18 30.71h4.00M481.18 28.01v5.40M479.46 31.25h4.00M481.46 28.55v5.40M479.75 31.80h4.00M481.75 29.10v5.40M480.03 32.34h4.00M482.03 29.64v5.40M480.31 32.88h4.00M482.31 30.18v5.40M480.60 33.42h4.00M482.60 30.72v5.40M480.88 33.96h4.00M482.88 31.26v5.40M481.16 35.42h4.00M483.16 32.72v5.40M481.45 36.94h4.00M483.45 34.24v5.40M481.73 38.47h4.00M483.73 35.77v5.40M482.01 40.00h4.00M484.01 37.30v5.40M481.70 41.97h5.20M484.30 39.27v5.40M481.84 43.39h5.20M481.98 44.81h5.20M484.58 42.11v5.40M482.12 46.22h5.20M482.26 47.64h5.20M484.86 44.94v5.40M482.41 49.06h5.20M482.55 50.48h5.20M485.15 47.78v5.40M482.69 51.88h5.20M482.83 53.27h5.20M485.43 50.57v5.40M482.97 54.65h5.20M483.11 56.02h5.20M485.71 53.32v5.40M483.26 57.40h5.20M483.40 58.77h5.20M486.00 56.07v5.40M483.54 60.14h5.20M483.68 61.52h5.20M486.28 58.82v5.40M483.82 62.89h5.20M483.97 64.27h5.20M486.57 61.57v5.40M484.85 66.24h4.00M486.85 63.54v5.40M485.13 68.11h4.00M487.13 65.41v5.40M485.42 69.97h4.00M487.42 67.27v5.40M485.70 71.84h4.00M487.70 69.14v5.40M485.98 73.19h4.00M487.98 70.49v5.40M486.27 73.89h4.00M488.27 71.19v5.40M486.55 73.08h4.00M488.55 70.38v5.40M486.23 70.68h5.20M488.83 67.98v5.40M486.52 68.29h5.20M489.12 65.59v5.40M486.80 65.89h5.20M489.40 63.19v5.40M487.08 63.50h5.20M489.68 60.80v5.40M487.37 61.10h5.20M489.97 58.40v5.40M487.65 58.71h5.20M490.25 56.01v5.40M487.79 57.45h5.20M487.94 56.18h5.20M490.54 53.48v5.40M488.08 54.91h5.20M488.22 53.63h5.20M490.82 50.93v5.40M488.36 52.36h5.20M488.50 51.08h5.20M491.10 48.38v5.40M488.64 49.80h5.20M488.79 48.53h5.20M491.39 45.83v5.40M488.93 47.25h5.20M489.07 45.98h5.20M491.67 43.28v5.40M489.21 44.70h5.20M489.95 43.42h4.00M491.95 40.72v5.40M490.24 41.67h4.00M492.24 38.97v5.40M490.52 40.08h4.00M492.52 37.38v5.40M490.80 38.49h4.00M492.80 35.79v5.40M491.09 36.90h4.00M493.09 34.20v5.40M491.37 35.59h4.00M493.37 32.89v5.40M491.65 35.16h4.00M493.65 32.46v5.40M491.94 34.73h4.00M493.94 32.03v5.40M492.22 34.30h4.00M494.22 31.60v5.40M492.50 33.87h4.00M494.50 31.17v5.40M492.79 33.44h4.00M494.79 30.74v5.40M493.07 33.01h4.00M495.07 30.31v5.40M493.36 32.58h4.00M495.36 29.88v5.40M493.64 32.15h4.00M495.64 29.45v5.40M493.92 31.72h4.00M495.92 29.02v5.40M494.21 31.72h4.00M496.21 29.02v5.40M494.49 31.89h4.00M496.49 29.19v5.40M494.77 32.06h4.00M496.77 29.36v5.40M495.06 32.23h4.00M497.06 29.53v5.40M495.34 32.40h4.00M497.34 29.70v5.40M495.62 32.57h4.00M497.62 29.87v5.40M495.91 32.74h4.00M497.91 30.04v5.40M496.19 32.91h4.00M498.19 30.21v5.40M496.47 33.08h4.00M498.47 30.38v5.40M496.76 33.25h4.00M498.76 30.55v5.40M497.04 33.42h4.00M499.04 30.72v5.40M497.33 33.60h4.00M499.33 30.90v5.40M497.61 33.77h4.00M499.61 31.07v5.40M497.89 33.94h4.00M499.89 31.24v5.40M498.18 34.11h4.00M500.18 31.41v5.40M498.46 34.28h4.00M500.46 31.58v5.40M498.74 34.45h4.00M500.74 31.75v5.40M499.03 34.62h4.00M501.03 31.92v5.40M499.31 34.79h4.00M501.31 32.09v5.40M499.59 34.86h4.00M501.59 32.16v5.40M499.88 34.75h4.00M501.88 32.05v5.40M500.16 34.64h4.00M502.16 31.94v5.40M500.44 34.52h4.00M502.44 31.82v5.40M500.73 34.41h4.00M502.73 31.71v5.40M501.01 34.30h4.00M503.01 31.60v5.40M501.29 34.18h4.00M503.29 31.48v5.40M501.58 34.07h4.00M503.58 31.37v5.40M501.86 33.96h4.00M503.86 31.26v5.40M502.15 33.84h4.00M504.15 31.14v5.40M502.43 33.73h4.00M504.43 31.03v5.40M502.71 33.62h4.00M504.71 30.92v5.40M503.00 33.50h4.00M505.00 30.80v5.40M503.28 33.39h4.00M505.28 30.69v5.40M503.56 33.27h4.00M505.56 30.57v5.40M503.85 33.16h4.00M505.85 30.46v5.40M504.13 33.05h4.00M506.13 30.35v5.40M504.41 32.93h4.00M506.41 30.23v5.40M504.70 32.82h4.00M506.70 30.12v5.40M504.98 32.71h4.00M506.98 30.01v5.40M505.26 32.59h4.00M507.26 29.89v5.40M505.55 32.52h4.00M507.55 29.82v5.40M505.83 32.66h4.00M507.83 29.96v5.40M506.11 32.80h4.00M508.11 30.10v5.40M506.40 32.93h4.00M508.40 30.23v5.40M506.68 33.07h4.00M508.68 30.37v5.40M506.97 33.20h4.00M508.97 30.50v5.40M507.25 33.34h4.00M509.25 30.64v5.40M507.53 33.48h4.00M509.53 30.78v5.40M507.82 33.61h4.00M509.82 30.91v5.40M508.10 33.75h4.00M510.10 31.05v5.40M508.38 33.88h4.00M510.38 31.18v5.40M508.67 34.02h4.00M510.67 31.32v5.40M508.95 34.16h4.00M510.95 31.46v5.40M509.23 34.29h4.00M511.23 31.59v5.40M509.52 34.43h4.00M511.52 31.73v5.40M509.80 34.56h4.00M511.80 31.86v5.40M510.08 34.70h4.00M512.08 32.00v5.40M510.37 34.84h4.00M512.37 32.14v5.40M510.65 34.83h4.00M512.65 32.13v5.40M510.94 34.70h4.00M512.94 32.00v5.40M511.22 34.57h4.00M513.22 31.87v5.40M511.50 34.43h4.00M513.50 31.73v5.40M511.79 34.30h4.00M513.79 31.60v5.40M512.07 34.17h4.00M514.07 31.47v5.40M512.35 34.04h4.00M514.35 31.34v5.40M512.64 33.91h4.00M514.64 31.21v5.40M512.92 33.78h4.00M514.92 31.08v5.40M513.20 33.64h4.00M515.20 30.94v5.40M513.49 33.51h4.00M515.49 30.81v5.40M513.77 33.38h4.00M515.77 30.68v5.40M514.05 33.25h4.00M516.05 30.55v5.40M514.34 33.12h4.00M516.34 30.42v5.40M514.62 32.98h4.00M516.62 30.28v5.40M514.90 32.85h4.00M516.90 30.15v5.40M515.19 32.72h4.00M517.19 30.02v5.40M515.47 32.59h4.00M517.47 29.89v5.40M515.76 32.46h4.00M517.76 29.76v5.40M516.04 32.33h4.00M518.04 29.63v5.40M516.32 32.19h4.00M518.32 29.49v5.40M516.61 32.06h4.00M518.61 29.36v5.40M516.89 31.93h4.00M518.89 29.23v5.40M517.17 31.80h4.00M519.17 29.10v5.40M517.46 31.67h4.00M519.46 28.97v5.40M517.74 31.67h4.00M519.74 28.97v5.40M518.02 31.81h4.00M520.02 29.11v5.40M518.31 31.95h4.00M520.31 29.25v5.40M518.59 32.10h4.00M520.59 29.40v5.40M518.87 32.24h4.00M520.87 29.54v5.40M519.16 32.38h4.00M521.16 29.68v5.40M519.44 32.52h4.00M521.44 29.82v5.40M519.73 32.66h4.00M521.73 29.96v5.40M520.01 32.81h4.00M522.01 30.11v5.40M520.29 33.04h4.00M522.29 30.34v5.40M520.58 33.26h4.00M522.58 30.56v5.40M520.86 33.49h4.00M522.86 30.79v5.40M521.14 33.72h4.00M523.14 31.02v5.40M521.43 33.95h4.00M523.43 31.25v5.40M521.71 34.18h4.00M523.71 31.48v5.40M521.99 34.40h4.00M523.99 31.70v5.40M522.28 34.63h4.00M524.28 31.93v5.40M522.56 34.86h4.00M524.56 32.16v5.40M522.84 35.09h4.00M524.84 32.39v5.40M523.13 35.32h4.00M525.13 32.62v5.40M523.41 35.55h4.00M525.41 32.85v5.40M523.69 35.77h4.00M525.69 33.07v5.40M523.98 36.00h4.00M525.98 33.30v5.40M524.26 35.99h4.00M526.26 33.29v5.40M524.55 35.80h4.00M526.55 33.10v5.40M524.83 35.61h4.00M526.83 32.91v5.40M525.11 35.43h4.00M527.11 32.73v5.40M525.40 35.24h4.00M527.40 32.54v5.40M525.68 35.05h4.00M527.68 32.35v5.40M525.96 34.86h4.00M527.96 32.16v5.40M526.25 34.67h4.00M528.25 31.97v5.40M526.53 34.48h4.00M528.53 31.78v5.40M526.81 34.29h4.00M528.81 31.59v5.40M527.10 34.10h4.00M529.10 31.40v5.40M527.38 33.91h4.00M529.38 31.21v5.40M527.66 33.72h4.00M529.66 31.02v5.40M527.95 33.53h4.00M529.95 30.83v5.40M528.23 33.35h4.00M530.23 30.65v5.40M528.51 33.16h4.00M530.51 30.46v5.40M528.80 32.97h4.00M530.80 30.27v5.40M529.08 33.11h4.00M531.08 30.41v5.40M529.37 33.44h4.00M531.37 30.74v5.40M529.65 33.77h4.00M531.65 31.07v5.40M529.93 34.10h4.00M531.93 31.40v5.40M530.22 34.43h4.00M532.22 31.73v5.40M530.50 34.75h4.00M532.50 32.05v5.40M530.78 35.08h4.00M532.78 32.38v5.40M531.07 35.41h4.00M533.07 32.71v5.40M531.35 35.74h4.00M533.35 33.04v5.40M531.63 36.07h4.00M533.63 33.37v5.40M531.92 36.40h4.00M533.92 33.70v5.40M532.20 36.73h4.00M534.20 34.03v5.40M532.48 37.05h4.00M534.48 34.35v5.40M532.77 37.38h4.00M534.77 34.68v5.40M533.05 37.71h4.00M535.05 35.01v5.40M533.34 38.04h4.00M535.34 35.34v5.40M533.62 38.33h4.00M535.62 35.63v5.40M533.90 38.62h4.00M535.90 35.92v5.40M534.19 38.91h4.00M536.19 36.21v5.40M534.47 39.20h4.00M536.47 36.50v5.40M534.75 39.49h4.00M536.75 36.79v5.40M535.04 39.78h4.00M537.04 37.08v5.40M535.32 40.07h4.00M537.32 37.37v5.40M535.60 40.37h4.00M537.60 37.67v5.40M535.89 40.66h4.00M537.89 37.96v5.40M536.17 40.95h4.00M538.17 38.25v5.40M536.45 41.24h4.00M538.45 38.54v5.40M536.74 41.53h4.00M538.74 38.83v5.40M537.02 41.80h4.00M539.02 39.10v5.40M537.30 41.76h4.00M539.30 39.06v5.40M537.59 41.72h4.00M539.59 39.02v5.40M537.87 41.69h4.00M539.87 38.99v5.40M538.16 41.65h4.00M540.16 38.95v5.40M538.44 41.61h4.00M540.44 38.91v5.40M538.72 41.57h4.00M540.72 38.87v5.40M539.01 41.54h4.00M541.01 38.84v5.40M539.29 41.50h4.00M541.29 38.80v5.40M539.57 41.46h4.00M541.57 38.76v5.40M539.86 41.42h4.00M541.86 38.72v5.40M540.14 41.39h4.00M542.14 38.69v5.40M540.42 41.35h4.00M542.42 38.65v5.40M540.71 41.31h4.00M542.71 38.61v5.40M540.99 41.44h4.00M542.99 38.74v5.40M541.27 41.66h4.00M543.27 38.96v5.40M541.56 41.87h4.00M543.56 39.17v5.40M541.84 42.08h4.00M543.84 39.38v5.40M542.13 42.29h4.00M544.13 39.59v5.40M542.41 42.51h4.00M544.41 39.81v5.40M542.69 42.72h4.00M544.69 40.02v5.40M542.98 42.93h4.00M544.98 40.23v5.40M543.26 43.14h4.00M545.26 40.44v5.40M543.54 43.36h4.00M545.54 40.66v5.40M543.83 43.57h4.00M545.83 40.87v5.40M544.11 43.78h4.00M546.11 41.08v5.40M544.39 44.00h4.00M546.39 41.30v5.40M544.68 44.21h4.00M546.68 41.51v5.40M544.96 44.42h4.00M546.96 41.72v5.40M545.24 44.63h4.00M547.24 41.93v5.40M545.53 44.84h4.00M547.53 42.14v5.40M545.81 45.05h4.00M547.81 42.35v5.40M546.09 45.25h4.00M548.09 42.55v5.40M546.38 45.46h4.00M548.38 42.76v5.40M546.66 45.67h4.00M548.66 42.97v5.40M546.95 45.88h4.00M548.95 43.18v5.40M547.23 46.08h4.00M549.23 43.38v5.40M547.51 46.29h4.00M549.51 43.59v5.40M547.80 46.50h4.00M549.80 43.80v5.40M548.08 46.38h4.00M550.08 43.68v5.40M548.36 46.26h4.00M550.36 43.56v5.40M548.65 46.14h4.00M550.65 43.44v5.40M548.93 46.02h4.00M550.93 43.32v5.40M549.21 45.90h4.00M551.21 43.20v5.40M549.50 45.78h4.00M551.50 43.08v5.40M549.78 45.66h4.00M551.78 42.96v5.40M550.06 45.54h4.00M552.06 42.84v5.40M550.35 45.42h4.00M552.35 42.72v5.40M550.63 45.67h4.00M552.63 42.97v5.40M550.92 46.01h4.00M552.92 43.31v5.40M551.20 46.34h4.00M553.20 43.64v5.40M551.48 46.68h4.00M553.48 43.98v5.40M551.77 47.01h4.00M553.77 44.31v5.40M552.05 47.35h4.00M554.05 44.65v5.40M552.33 47.68h4.00M554.33 44.98v5.40M552.62 48.08h4.00M554.62 45.38v5.40M552.90 49.42h4.00M554.90 46.72v5.40M553.18 50.76h4.00M555.18 48.06v5.40M553.47 52.10h4.00M555.47 49.40v5.40M553.75 53.46h4.00M555.75 50.76v5.40M554.03 54.95h4.00M556.03 52.25v5.40M554.32 56.43h4.00M556.32 53.73v5.40M554.60 57.91h4.00M556.60 55.21v5.40M554.88 59.40h4.00M556.88 56.70v5.40M555.17 61.35h4.00M557.17 58.65v5.40M555.45 63.61h4.00M557.45 60.91v5.40M555.74 65.88h4.00M557.74 63.18v5.40M555.42 68.15h5.20M558.02 65.45v5.40M555.70 70.50h5.20M558.30 67.80v5.40M555.99 72.88h5.20M558.59 70.18v5.40M556.27 75.26h5.20M558.87 72.56v5.40M556.55 77.65h5.20M559.15 74.95v5.40M556.84 80.03h5.20M559.44 77.33v5.40M556.98 81.29h5.20M557.12 82.55h5.20M559.72 79.85v5.40M557.26 83.90h5.20M557.40 85.26h5.20M560.00 82.56v5.40M557.55 86.61h5.20M557.69 87.97h5.20M560.29 85.27v5.40M557.83 89.34h5.20M557.97 90.71h5.20M560.57 88.01v5.40M558.85 92.82h4.00M560.85 90.12v5.40M559.14 91.70h4.00M561.14 89.00v5.40M559.42 89.45h4.00M561.42 86.75v5.40M559.70 87.20h4.00M561.70 84.50v5.40M559.99 84.95h4.00M561.99 82.25v5.40M560.27 82.70h4.00M562.27 80.00v5.40M559.96 80.45h5.20M562.56 77.75v5.40M560.10 79.03h5.20M560.24 77.62h5.20M562.84 74.92v5.40M560.38 75.91h5.20M560.52 74.20h5.20M563.12 71.50v5.40M560.66 72.49h5.20M560.81 70.78h5.20M563.41 68.08v5.40M560.95 69.07h5.20M561.09 67.36h5.20M563.69 64.66v5.40M561.23 65.65h5.20M561.37 63.94h5.20M563.97 61.24v5.40M561.52 62.23h5.20M561.66 60.52h5.20M564.26 57.82v5.40M561.80 59.26h5.20M561.94 58.01h5.20M564.54 55.31v5.40M562.22 55.65h5.20M564.82 52.95v5.40M563.11 53.30h4.00M565.11 50.60v5.40M563.39 51.61h4.00M565.39 48.91v5.40M563.67 51.33h4.00M565.67 48.63v5.40M563.96 51.04h4.00M565.96 48.34v5.40M564.24 50.76h4.00M566.24 48.06v5.40M564.53 50.47h4.00M566.53 47.77v5.40M564.81 50.19h4.00M566.81 47.49v5.40M565.09 49.91h4.00M567.09 47.21v5.40M565.38 49.62h4.00M567.38 46.92v5.40M565.66 49.34h4.00M567.66 46.64v5.40M565.94 49.06h4.00M567.94 46.36v5.40M566.23 48.77h4.00M568.23 46.07v5.40M566.51 48.87h4.00M568.51 46.17v5.40M566.79 49.09h4.00M568.79 46.39v5.40M567.08 49.31h4.00M569.08 46.61v5.40M567.36 49.54h4.00M569.36 46.84v5.40M567.64 49.76h4.00M569.64 47.06v5.40M567.93 49.98h4.00M569.93 47.28v5.40M568.21 50.21h4.00M570.21 47.51v5.40M568.49 50.43h4.00M570.49 47.73v5.40M568.78 50.65h4.00M570.78 47.95v5.40M569.06 50.88h4.00M571.06 48.18v5.40M569.35 51.10h4.00M571.35 48.40v5.40M569.63 51.32h4.00M571.63 48.62v5.40M569.91 51.55h4.00M571.91 48.85v5.40M570.20 51.77h4.00M572.20 49.07v5.40M570.48 52.00h4.00M572.48 49.30v5.40M570.76 52.22h4.00M572.76 49.52v5.40M571.05 52.44h4.00M573.05 49.74v5.40M571.33 52.67h4.00M573.33 49.97v5.40M571.61 52.72h4.00M573.61 50.02v5.40M571.90 52.53h4.00M573.90 49.83v5.40M572.18 52.34h4.00M574.18 49.64v5.40M572.46 52.15h4.00M574.46 49.45v5.40M572.75 51.96h4.00M574.75 49.26v5.40M573.03 51.76h4.00M575.03 49.06v5.40M573.32 51.57h4.00M575.32 48.87v5.40M573.60 51.38h4.00M575.60 48.68v5.40M573.88 51.19h4.00M575.88 48.49v5.40M574.17 51.00h4.00M576.17 48.30v5.40M574.45 50.81h4.00M576.45 48.11v5.40M574.73 50.61h4.00M576.73 47.91v5.40M575.02 50.42h4.00M577.02 47.72v5.40M575.30 50.23h4.00M577.30 47.53v5.40M575.58 50.04h4.00M577.58 47.34v5.40M575.87 49.85h4.00M577.87 47.15v5.40M576.15 49.66h4.00M578.15 46.96v5.40M576.43 49.46h4.00M578.43 46.76v5.40M576.72 49.27h4.00M578.72 46.57v5.40M577.00 49.08h4.00M579.00 46.38v5.40M577.28 48.89h4.00M579.28 46.19v5.40M577.57 48.70h4.00M579.57 46.00v5.40M577.85 48.51h4.00M579.85 45.81v5.40M578.14 48.31h4.00M580.14 45.61v5.40M578.42 48.12h4.00M580.42 45.42v5.40M578.70 48.01h4.00M580.70 45.31v5.40M578.99 48.02h4.00M580.99 45.32v5.40M579.27 48.04h4.00M581.27 45.34v5.40M579.55 48.06h4.00M581.55 45.36v5.40M579.84 48.07h4.00M581.84 45.37v5.40M580.12 48.09h4.00M582.12 45.39v5.40M580.40 48.11h4.00M582.40 45.41v5.40M580.69 48.13h4.00M582.69 45.43v5.40M580.97 48.14h4.00M582.97 45.44v5.40M581.25 48.16h4.00M583.25 45.46v5.40M581.54 48.18h4.00M583.54 45.48v5.40M581.82 48.20h4.00M583.82 45.50v5.40M582.10 48.28h4.00M584.10 45.58v5.40M582.39 48.39h4.00M584.39 45.69v5.40M582.67 48.50h4.00M584.67 45.80v5.40M582.96 48.61h4.00M584.96 45.91v5.40M583.24 48.72h4.00M585.24 46.02v5.40M583.52 48.83h4.00M585.52 46.13v5.40M583.81 48.94h4.00M585.81 46.24v5.40M584.09 49.05h4.00M586.09 46.35v5.40M584.37 49.16h4.00M586.37 46.46v5.40M584.66 49.27h4.00M586.66 46.57v5.40M584.94 49.37h4.00M586.94 46.67v5.40M585.22 49.48h4.00M587.22 46.78v5.40M585.51 49.59h4.00M587.51 46.89v5.40M585.79 49.70h4.00M587.79 47.00v5.40M586.07 49.81h4.00M588.07 47.11v5.40M586.36 49.88h4.00M588.36 47.18v5.40M586.64 49.79h4.00M588.64 47.09v5.40M586.93 49.70h4.00M588.93 47.00v5.40M587.21 49.61h4.00M589.21 46.91v5.40M587.49 49.52h4.00M589.49 46.82v5.40M587.78 49.43h4.00M589.78 46.73v5.40M588.06 49.34h4.00M590.06 46.64v5.40M588.34 49.25h4.00M590.34 46.55v5.40M588.63 49.16h4.00M590.63 46.46v5.40M588.91 49.07h4.00M590.91 46.37v5.40M589.19 48.98h4.00M591.19 46.28v5.40M589.48 48.89h4.00M591.48 46.19v5.40M589.76 48.80h4.00M591.76 46.10v5.40M590.04 48.71h4.00M592.04 46.01v5.40M590.33 48.62h4.00M592.33 45.92v5.40M590.61 48.53h4.00M592.61 45.83v5.40M590.89 48.53h4.00M592.89 45.83v5.40M591.18 48.58h4.00M593.18 45.88v5.40M591.46 48.62h4.00M593.46 45.92v5.40M591.75 48.67h4.00M593.75 45.97v5.40M592.03 48.71h4.00M594.03 46.01v5.40M592.31 48.76h4.00M594.31 46.06v5.40M592.60 48.80h4.00M594.60 46.10v5.40M592.88 48.85h4.00M594.88 46.15v5.40M593.16 48.89h4.00M595.16 46.19v5.40M593.45 48.94h4.00M595.45 46.24v5.40M593.73 48.98h4.00M595.73 46.28v5.40M594.01 49.03h4.00M596.01 46.33v5.40M594.30 49.08h4.00M596.30 46.38v5.40M594.58 49.12h4.00M596.58 46.42v5.40M594.86 49.17h4.00M596.86 46.47v5.40M595.15 49.21h4.00M597.15 46.51v5.40M595.43 49.26h4.00M597.43 46.56v5.40M595.72 49.30h4.00M597.72 46.60v5.40M596.00 49.23h4.00M598.00 46.53v5.40M596.28 49.15h4.00M598.28 46.45v5.40M596.57 49.08h4.00M598.57 46.38v5.40M596.85 49.01h4.00M598.85 46.31v5.40M597.13 48.94h4.00M599.13 46.24v5.40M597.42 48.87h4.00M599.42 46.17v5.40M597.70 48.80h4.00M599.70 46.10v5.40M597.98 48.73h4.00M599.98 46.03v5.40M598.27 48.66h4.00M600.27 45.96v5.40M598.55 48.59h4.00M600.55 45.89v5.40M598.83 48.52h4.00M600.83 45.82v5.40M599.12 48.45h4.00M601.12 45.75v5.40M599.40 48.37h4.00M601.40 45.67v5.40M599.68 48.30h4.00M601.68 45.60v5.40M599.97 48.23h4.00M601.97 45.53v5.40M600.25 48.16h4.00M602.25 45.46v5.40M600.54 48.09h4.00M602.54 45.39v5.40M600.82 48.02h4.00M602.82 45.32v5.40M601.10 47.94h4.00M603.10 45.24v5.40M601.39 47.87h4.00M603.39 45.17v5.40M601.67 47.80h4.00M603.67 45.10v5.40M601.95 47.72h4.00M603.95 45.02v5.40M602.24 47.65h4.00M604.24 44.95v5.40M602.52 47.58h4.00M604.52 44.88v5.40M602.80 47.51h4.00M604.80 44.81v5.40M603.09 47.43h4.00M605.09 44.73v5.40M603.37 47.36h4.00M605.37 44.66v5.40M603.65 47.29h4.00M605.65 44.59v5.40M603.94 47.22h4.00M605.94 44.52v5.40M604.22 47.08h4.00M606.22 44.38v5.40M604.51 46.92h4.00M606.51 44.22v5.40M604.79 46.76h4.00M606.79 44.06v5.40M605.07 46.60h4.00M607.07 43.90v5.40M605.36 46.44h4.00M607.36 43.74v5.40M605.64 46.28h4.00M607.64 43.58v5.40M605.92 46.12h4.00M607.92 43.42v5.40M606.21 45.96h4.00M608.21 43.26v5.40M606.49 45.80h4.00M608.49 43.10v5.40M606.77 45.64h4.00M608.77 42.94v5.40M607.06 45.48h4.00M609.06 42.78v5.40M607.34 45.48h4.00M609.34 42.78v5.40M607.62 45.65h4.00M609.62 42.95v5.40M607.91 45.82h4.00M609.91 43.12v5.40M608.19 45.98h4.00M610.19 43.28v5.40M608.47 46.15h4.00M610.47 43.45v5.40M608.76 46.32h4.00M610.76 43.62v5.40M609.04 46.49h4.00M611.04 43.79v5.40M609.33 46.65h4.00M611.33 43.95v5.40M609.61 46.82h4.00M611.61 44.12v5.40M609.89 46.99h4.00M611.89 44.29v5.40M610.18 47.16h4.00M612.18 44.46v5.40M610.46 47.32h4.00M612.46 44.62v5.40M610.74 47.49h4.00M612.74 44.79v5.40M611.03 47.66h4.00M613.03 44.96v5.40M611.31 47.85h4.00M613.31 45.15v5.40M611.59 48.05h4.00M613.59 45.35v5.40M611.88 48.25h4.00M613.88 45.55v5.40M612.16 48.45h4.00M614.16 45.75v5.40M612.44 48.65h4.00M614.44 45.95v5.40M612.73 48.85h4.00M614.73 46.15v5.40M613.01 49.05h4.00M615.01 46.35v5.40M613.29 49.25h4.00M615.29 46.55v5.40M613.58 49.45h4.00M615.58 46.75v5.40M613.86 49.65h4.00M615.86 46.95v5.40M614.15 49.85h4.00M616.15 47.15v5.40M614.43 50.05h4.00M616.43 47.35v5.40M614.71 50.26h4.00M616.71 47.56v5.40M615.00 50.46h4.00M617.00 47.76v5.40M615.28 50.76h4.00M617.28 48.06v5.40M615.56 51.33h4.00M617.56 48.63v5.40M615.85 51.89h4.00M617.85 49.19v5.40M616.13 52.46h4.00M618.13 49.76v5.40M616.41 53.03h4.00M618.41 50.33v5.40M616.70 53.59h4.00M618.70 50.89v5.40M616.98 54.16h4.00M618.98 51.46v5.40M617.26 54.73h4.00M619.26 52.03v5.40M617.55 55.30h4.00M619.55 52.60v5.40M617.83 55.86h4.00M619.83 53.16v5.40M618.12 56.67h4.00M620.12 53.97v5.40M618.40 57.82h4.00M620.40 55.12v5.40M618.68 58.97h4.00M620.68 56.27v5.40M618.97 60.12h4.00M620.97 57.42v5.40M619.25 61.28h4.00M621.25 58.58v5.40M619.53 62.43h4.00M621.53 59.73v5.40M619.82 64.14h4.00M621.82 61.44v5.40M620.10 66.03h4.00M622.10 63.33v5.40M620.38 67.92h4.00M622.38 65.22v5.40M620.07 69.81h5.20M622.67 67.11v5.40M620.21 71.16h5.20M620.35 72.51h5.20M622.95 69.81v5.40M620.49 74.21h5.20M620.63 75.91h5.20M623.23 73.21v5.40M620.78 77.61h5.20M620.92 79.31h5.20M623.52 76.61v5.40M621.06 81.09h5.20M621.20 82.88h5.20M623.80 80.18v5.40M621.34 84.69h5.20M621.48 86.51h5.20M624.08 83.81v5.40M621.63 88.46h5.20M621.77 90.42h5.20M624.37 87.72v5.40M621.91 92.38h5.20M622.05 94.35h5.20M624.65 91.65v5.40M622.19 97.00h5.20M622.34 99.65h5.20M624.94 96.95v5.40M622.48 102.97h5.20M630.87 229.33h4.00M632.87 226.63v5.40M631.16 230.70h4.00M633.16 228.00v5.40" fill="none" stroke="#000" stroke-width="1.0"/>
<path d="M52.89 344.06h4.80M53.04 342.65h4.80M53.18 341.23h4.80M53.32 339.81h4.80M53.46 338.39h4.80M53.60 336.80h4.80M53.74 335.21h4.80M53.89 333.59h4.80M54.03 331.97h4.80M54.17 329.87h4.80M54.31 327.77h4.80M54.45 324.94h4.80M54.59 322.10h4.80M54.74 319.87h4.80M54.88 317.65h4.80M55.02 315.43h4.80M55.16 313.22h4.80M55.30 311.04h4.80M55.45 308.87h4.80M55.59 306.90h4.80M55.73 304.93h4.80M55.87 302.96h4.80M56.01 300.99h4.80M56.15 299.02h4.80M56.30 297.05h4.80M56.44 294.63h4.80M56.58 292.20h4.80M56.72 289.77h4.80M56.86 287.34h4.80M57.01 284.95h4.80M57.15 282.55h4.80M57.29 280.19h4.80M57.43 277.83h4.80M57.57 275.46h4.80M57.71 273.10h4.80M57.86 270.90h4.80M58.00 268.70h4.80M58.14 266.81h4.80M58.28 264.92h4.80M58.42 263.03h4.80M58.56 261.14h4.80M58.71 259.34h4.80M58.85 257.53h4.80M58.99 256.16h4.80M59.13 254.79h4.80M59.27 253.42h4.80M59.42 252.05h4.80M59.56 250.68h4.80M59.70 249.31h4.80M59.84 248.05h4.80M59.98 246.79h4.80M60.12 245.53h4.80M60.27 244.26h4.80M60.41 243.00h4.80M60.55 241.74h4.80M121.80 117.41h4.80M121.94 118.66h4.80M122.08 119.92h4.80M122.22 121.57h4.80M122.36 123.23h4.80M122.50 125.53h4.80M122.65 127.83h4.80M122.79 131.35h4.80M123.21 130.91h4.80M123.35 129.09h4.80M123.50 127.28h4.80M124.06 123.02h4.80M124.35 120.53h4.80M124.49 119.11h4.80M124.63 117.69h4.80M124.77 116.28h4.80M124.91 114.86h4.80M125.06 113.44h4.80M125.20 112.02h4.80M125.34 110.47h4.80M125.48 108.91h4.80M125.62 107.35h4.80M125.76 105.79h4.80M125.91 104.23h4.80M126.05 102.67h4.80M126.19 101.24h4.80M622.82 106.30h4.80M622.96 108.53h4.80M623.10 110.75h4.80M623.24 112.98h4.80M623.39 115.21h4.80M623.53 118.21h4.80M623.67 121.22h4.80M623.81 124.74h4.80M623.95 128.26h4.80M624.09 131.79h4.80M624.24 135.31h4.80M624.38 138.84h4.80M624.52 142.36h4.80M624.66 145.88h4.80M624.80 149.41h4.80M624.95 151.82h4.80M625.09 154.24h4.80M625.23 156.08h4.80M625.37 157.92h4.80M625.51 159.76h4.80M625.65 161.61h4.80M625.80 163.45h4.80M625.94 165.29h4.80M626.08 167.14h4.80M626.22 168.98h4.80M626.36 170.86h4.80M626.51 172.75h4.80M626.65 174.65h4.80M626.79 176.55h4.80M626.93 178.45h4.80M627.07 180.36h4.80M627.21 182.26h4.80M627.36 184.16h4.80M627.50 186.06h4.80M627.64 187.96h4.80M627.78 189.86h4.80M627.92 191.76h4.80M628.06 194.06h4.80M628.21 196.36h4.80M628.35 198.81h4.80M628.49 201.26h4.80M628.63 203.71h4.80M628.77 206.15h4.80M628.92 208.60h4.80M629.06 211.05h4.80M629.20 213.50h4.80M629.34 215.95h4.80M629.48 218.00h4.80M629.62 220.05h4.80M629.77 221.60h4.80M629.91 223.15h4.80M630.05 224.69h4.80M630.19 226.24h4.80M630.33 227.79h4.80" fill="none" stroke="#000" stroke-width="0.8"/>
<text x="32.46" y="378.6" textLength="33.2" lengthAdjust="spacingAndGlyphs" class="t">20000</text>
<text x="89.16" y="378.6" textLength="33.2" lengthAdjust="spacingAndGlyphs" class="t">20100</text>
<text x="117.52" y="378.6" textLength="33.2" lengthAdjust="spacingAndGlyphs" class="t">20150</text>
<text x="174.23" y="378.6" textLength="33.2" lengthAdjust="spacingAndGlyphs" class="t">20250</text>
<text x="230.94" y="378.6" textLength="33.2" lengthAdjust="spacingAndGlyphs" class="t">20350</text>
<text x="259.29" y="378.6" textLength="33.2" lengthAdjust="spacingAndGlyphs" class="t">20400</text>
<text x="316.00" y="378.6" textLength="33.2" lengthAdjust="spacingAndGlyphs" class="t">20500</text>
<text x="316.00" y="378.6" textLength="33.2" lengthAdjust="spacingAndGlyphs" class="t">20500</text>
<text x="372.71" y="378.6" textLength="33.2" lengthAdjust="spacingAndGlyphs" class="t">20600</text>
<text x="401.06" y="378.6" textLength="33.2" lengthAdjust="spacingAndGlyphs" class="t">20650</text>
<text x="457.77" y="378.6" textLength="33.2" lengthAdjust="spacingAndGlyphs" class="t">20750</text>
<text x="486.13" y="378.6" textLength="33.2" lengthAdjust="spacingAndGlyphs" class="t">20800</text>
<text x="542.84" y="378.6" textLength="33.2" lengthAdjust="spacingAndGlyphs" class="t">20900</text>
<text x="599.54" y="378.6" textLength="33.2" lengthAdjust="spacingAndGlyphs" class="t">21000</text>
<text x="26.60" y="20.10" textLength="20.4" lengthAdjust="spacing" class="t">-1.8</text>
<text x="26.60" y="53.99" textLength="20.4" lengthAdjust="spacing" class="t">-2.0</text>
<text x="26.60" y="87.88" textLength="20.4" lengthAdjust="spacing" class="t">-2.2</text>
<text x="26.60" y="121.77" textLength="20.4" lengthAdjust="spacing" class="t">-2.4</text>
<text x="26.60" y="155.66" textLength="20.4" lengthAdjust="spacing" class="t">-2.6</text>
<text x="26.60" y="189.55" textLength="20.4" lengthAdjust="spacing" class="t">-2.8</text>
<text x="26.60" y="223.44" textLength="20.4" lengthAdjust="spacing" class="t">-3.0</text>
<text x="26.60" y="257.33" textLength="20.4" lengthAdjust="spacing" class="t">-3.2</text>
<text x="26.60" y="291.22" textLength="20.4" lengthAdjust="spacing" class="t">-3.4</text>
<text x="26.60" y="325.11" textLength="20.4" lengthAdjust="spacing" class="t">-3.6</text>
<text x="26.60" y="359.00" textLength="20.4" lengthAdjust="spacing" class="t">-3.8</text>
<text x="60.60" y="354.6" textLength="41.30" lengthAdjust="spacingAndGlyphs" class="t">IF 1(LL)</text>
<text x="132.70" y="354.6" textLength="42.10" lengthAdjust="spacingAndGlyphs" class="t">IF 2(LL)</text>
<text x="205.40" y="354.6" textLength="42.50" lengthAdjust="spacingAndGlyphs" class="t">IF 3(LL)</text>
<text x="278.10" y="354.6" textLength="42.00" lengthAdjust="spacingAndGlyphs" class="t">IF 4(LL)</text>
<text x="351.10" y="354.6" textLength="41.60" lengthAdjust="spacingAndGlyphs" class="t">IF 5(LL)</text>
<text x="423.20" y="354.6" textLength="41.90" lengthAdjust="spacingAndGlyphs" class="t">IF 6(LL)</text>
<text x="496.10" y="354.6" textLength="42.30" lengthAdjust="spacingAndGlyphs" class="t">IF 7(LL)</text>
<text x="569.10" y="354.6" textLength="41.30" lengthAdjust="spacingAndGlyphs" class="t">IF 8(LL)</text>
<text x="285.60" y="390.5" textLength="59.1" lengthAdjust="spacingAndGlyphs" class="t">FREQ MHz</text>
<text transform="translate(18.1,217.90) rotate(-90)" textLength="83.9" lengthAdjust="spacingAndGlyphs" class="t">Log10(Amp) Jy</text>
</svg>
</body></html>
